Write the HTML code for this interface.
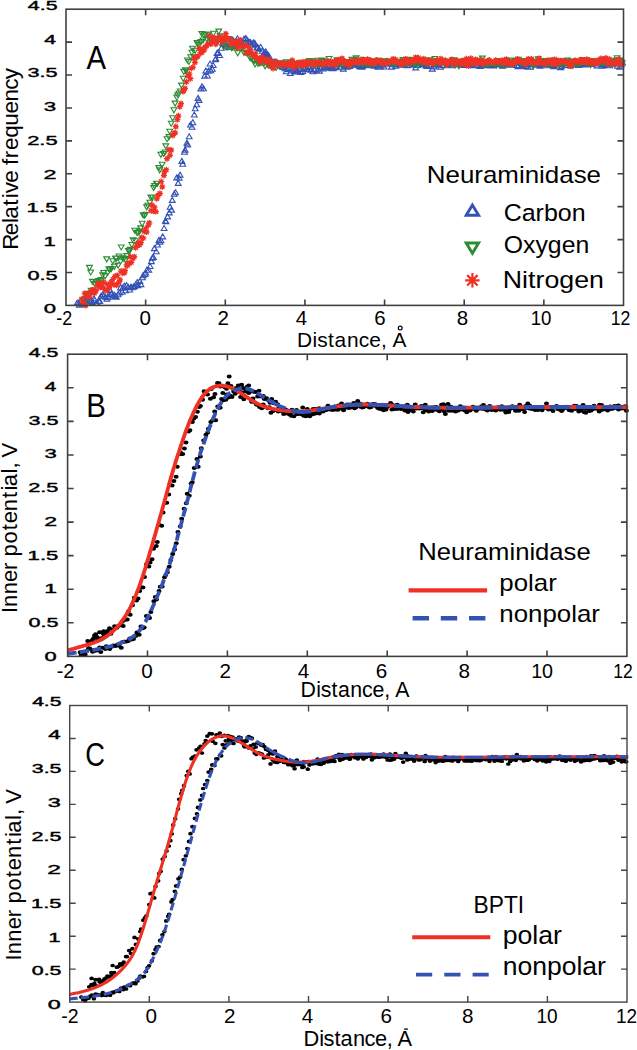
<!DOCTYPE html><html><head><meta charset="utf-8"><title>Figure</title><style>html,body{margin:0;padding:0;background:#fff;width:637px;height:1050px;overflow:hidden}svg{display:block}text{font-family:"Liberation Sans",sans-serif}</style></head><body>
<svg width="637" height="1050" viewBox="0 0 637 1050">
<rect width="637" height="1050" fill="#fff"/>
<path d="M74.3 305.1L77.2 300.1L80.1 305.1ZM75.9 305.4L78.8 300.4L81.7 305.4ZM76.5 307.1L79.4 302.1L82.3 307.1ZM78.5 302.4L81.4 297.4L84.3 302.4ZM79.2 306.9L82.1 301.9L85.0 306.9ZM80.6 303.9L83.5 298.9L86.4 303.9ZM82.2 303.0L85.1 298.0L88.0 303.0ZM83.1 299.7L86.0 294.7L88.9 299.7ZM84.5 305.3L87.4 300.3L90.3 305.3ZM85.3 298.4L88.2 293.4L91.1 298.4ZM87.2 302.7L90.1 297.7L93.0 302.7ZM88.3 303.6L91.2 298.6L94.1 303.6ZM89.4 304.8L92.3 299.8L95.2 304.8ZM91.1 300.8L94.0 295.8L96.9 300.8ZM91.9 302.2L94.8 297.2L97.7 302.2ZM93.3 305.4L96.2 300.4L99.1 305.4ZM94.3 305.3L97.2 300.3L100.1 305.3ZM95.8 303.3L98.7 298.3L101.6 303.3ZM96.9 303.5L99.8 298.5L102.7 303.5ZM98.2 298.0L101.1 293.0L104.0 298.0ZM100.0 296.8L102.9 291.8L105.8 296.8ZM100.8 298.1L103.7 293.1L106.6 298.1ZM102.3 299.2L105.2 294.2L108.1 299.2ZM104.0 301.1L106.9 296.1L109.8 301.1ZM105.2 299.4L108.1 294.4L111.0 299.4ZM106.3 296.6L109.2 291.6L112.1 296.6ZM107.4 292.6L110.3 287.6L113.2 292.6ZM108.5 295.9L111.4 290.9L114.3 295.9ZM109.6 299.0L112.5 294.0L115.4 299.0ZM111.6 297.4L114.5 292.4L117.4 297.4ZM112.5 298.6L115.4 293.6L118.3 298.6ZM113.4 299.2L116.3 294.2L119.2 299.2ZM115.1 296.7L118.0 291.7L120.9 296.7ZM116.5 295.0L119.4 290.0L122.3 295.0ZM117.7 289.7L120.6 284.7L123.5 289.7ZM119.2 294.3L122.1 289.3L125.0 294.3ZM119.7 290.2L122.6 285.2L125.5 290.2ZM121.4 288.2L124.3 283.2L127.2 288.2ZM122.6 292.7L125.5 287.7L128.4 292.7ZM123.6 287.7L126.5 282.7L129.4 287.7ZM125.3 289.4L128.2 284.4L131.1 289.4ZM126.8 292.0L129.7 287.0L132.6 292.0ZM127.9 289.4L130.8 284.4L133.7 289.4ZM128.8 289.6L131.7 284.6L134.6 289.6ZM130.6 289.2L133.5 284.2L136.4 289.2ZM131.6 288.5L134.5 283.5L137.4 288.5ZM132.9 286.6L135.8 281.6L138.7 286.6ZM134.4 284.5L137.3 279.5L140.2 284.5ZM135.1 287.8L138.0 282.8L140.9 287.8ZM137.0 283.4L139.9 278.4L142.8 283.4ZM138.1 286.6L141.0 281.6L143.9 286.6ZM139.5 279.7L142.4 274.7L145.3 279.7ZM140.2 277.7L143.1 272.7L146.0 277.7ZM142.1 276.5L145.0 271.5L147.9 276.5ZM142.8 275.0L145.7 270.0L148.6 275.0ZM144.0 272.2L146.9 267.2L149.8 272.2ZM145.9 272.3L148.8 267.3L151.7 272.3ZM147.2 268.5L150.1 263.5L153.0 268.5ZM148.5 263.6L151.4 258.6L154.3 263.6ZM149.4 260.2L152.3 255.2L155.2 260.2ZM150.5 259.4L153.4 254.4L156.3 259.4ZM151.5 250.6L154.4 245.6L157.3 250.6ZM153.4 253.8L156.3 248.8L159.2 253.8ZM154.7 247.0L157.6 242.0L160.5 247.0ZM156.1 242.4L159.0 237.4L161.9 242.4ZM156.9 244.3L159.8 239.3L162.7 244.3ZM158.1 242.8L161.0 237.8L163.9 242.8ZM159.8 238.9L162.7 233.9L165.6 238.9ZM161.2 230.5L164.1 225.5L167.0 230.5ZM162.6 223.1L165.5 218.1L168.4 223.1ZM163.1 223.8L166.0 218.8L168.9 223.8ZM164.7 218.9L167.6 213.9L170.5 218.9ZM166.4 214.9L169.3 209.9L172.2 214.9ZM167.2 209.2L170.1 204.2L173.0 209.2ZM168.6 212.1L171.5 207.1L174.4 212.1ZM169.4 202.4L172.3 197.4L175.2 202.4ZM171.3 196.2L174.2 191.2L177.1 196.2ZM172.7 194.8L175.6 189.8L178.5 194.8ZM173.9 179.9L176.8 174.9L179.7 179.9ZM175.3 185.4L178.2 180.4L181.1 185.4ZM176.3 180.3L179.2 175.3L182.1 180.3ZM177.2 177.1L180.1 172.1L183.0 177.1ZM179.0 163.4L181.9 158.4L184.8 163.4ZM179.8 166.2L182.7 161.2L185.6 166.2ZM181.6 154.2L184.5 149.2L187.4 154.2ZM182.2 152.1L185.1 147.1L188.0 152.1ZM184.1 145.1L187.0 140.1L189.9 145.1ZM184.8 146.9L187.7 141.9L190.6 146.9ZM186.3 138.8L189.2 133.8L192.1 138.8ZM187.5 127.0L190.4 122.0L193.3 127.0ZM189.1 129.3L192.0 124.3L194.9 129.3ZM189.9 124.7L192.8 119.7L195.7 124.7ZM191.4 117.0L194.3 112.0L197.2 117.0ZM192.3 110.7L195.2 105.7L198.1 110.7ZM193.8 106.8L196.7 101.8L199.6 106.8ZM195.2 100.4L198.1 95.4L201.0 100.4ZM196.2 102.4L199.1 97.4L202.0 102.4ZM198.0 90.9L200.9 85.9L203.8 90.9ZM199.0 88.8L201.9 83.8L204.8 88.8ZM200.6 90.7L203.5 85.7L206.4 90.7ZM201.8 78.1L204.7 73.1L207.6 78.1ZM202.9 73.0L205.8 68.0L208.7 73.0ZM204.6 78.0L207.5 73.0L210.4 78.0ZM205.6 73.1L208.5 68.1L211.4 73.1ZM207.1 66.0L210.0 61.0L212.9 66.0ZM207.9 72.7L210.8 67.7L213.7 72.7ZM209.4 71.3L212.3 66.3L215.2 71.3ZM210.3 67.5L213.2 62.5L216.1 67.5ZM212.3 61.8L215.2 56.8L218.1 61.8ZM212.9 60.9L215.8 55.9L218.7 60.9ZM214.2 55.4L217.1 50.4L220.0 55.4ZM215.3 54.8L218.2 49.8L221.1 54.8ZM216.8 57.5L219.7 52.5L222.6 57.5ZM218.5 50.2L221.4 45.2L224.3 50.2ZM219.7 45.1L222.6 40.1L225.5 45.1ZM220.5 46.5L223.4 41.5L226.3 46.5ZM222.0 46.0L224.9 41.0L227.8 46.0ZM223.3 48.0L226.2 43.0L229.1 48.0ZM224.8 44.4L227.7 39.4L230.6 44.4ZM225.9 49.4L228.8 44.4L231.7 49.4ZM227.2 44.0L230.1 39.0L233.0 44.0ZM228.7 45.8L231.6 40.8L234.5 45.8ZM229.9 42.1L232.8 37.1L235.7 42.1ZM230.9 43.6L233.8 38.6L236.7 43.6ZM232.2 47.3L235.1 42.3L238.0 47.3ZM233.4 43.8L236.3 38.8L239.2 43.8ZM234.5 40.8L237.4 35.8L240.3 40.8ZM235.8 46.3L238.7 41.3L241.6 46.3ZM237.2 44.6L240.1 39.6L243.0 44.6ZM238.5 44.9L241.4 39.9L244.3 44.9ZM239.7 46.5L242.6 41.5L245.5 46.5ZM241.2 41.0L244.1 36.0L247.0 41.0ZM242.9 40.5L245.8 35.5L248.7 40.5ZM244.0 41.9L246.9 36.9L249.8 41.9ZM245.3 43.5L248.2 38.5L251.1 43.5ZM246.5 44.6L249.4 39.6L252.3 44.6ZM247.6 44.6L250.5 39.6L253.4 44.6ZM249.2 47.3L252.1 42.3L255.0 47.3ZM250.3 44.9L253.2 39.9L256.1 44.9ZM251.4 45.3L254.3 40.3L257.2 45.3ZM252.3 46.2L255.2 41.2L258.1 46.2ZM253.9 50.0L256.8 45.0L259.7 50.0ZM254.9 49.7L257.8 44.7L260.7 49.7ZM256.1 51.1L259.0 46.1L261.9 51.1ZM257.8 49.3L260.7 44.3L263.6 49.3ZM259.3 53.2L262.2 48.2L265.1 53.2ZM260.1 57.1L263.0 52.1L265.9 57.1ZM261.8 55.1L264.7 50.1L267.6 55.1ZM262.9 53.9L265.8 48.9L268.7 53.9ZM263.8 56.4L266.7 51.4L269.6 56.4ZM265.8 57.8L268.7 52.8L271.6 57.8ZM266.6 59.7L269.5 54.7L272.4 59.7ZM267.8 63.6L270.7 58.6L273.6 63.6ZM269.5 64.8L272.4 59.8L275.3 64.8ZM270.2 64.4L273.1 59.4L276.0 64.4ZM272.0 64.1L274.9 59.1L277.8 64.1ZM272.8 64.1L275.7 59.1L278.6 64.1ZM274.2 64.5L277.1 59.5L280.0 64.5ZM275.3 66.7L278.2 61.7L281.1 66.7ZM277.2 65.8L280.1 60.8L283.0 65.8ZM278.0 68.1L280.9 63.1L283.8 68.1ZM279.8 69.5L282.7 64.5L285.6 69.5ZM280.8 67.7L283.7 62.7L286.6 67.7ZM282.1 70.8L285.0 65.8L287.9 70.8ZM283.3 73.8L286.2 68.8L289.1 73.8ZM284.3 71.8L287.2 66.8L290.1 71.8ZM285.7 70.5L288.6 65.5L291.5 70.5ZM287.4 75.5L290.3 70.5L293.2 75.5ZM288.1 71.7L291.0 66.7L293.9 71.7ZM290.0 72.1L292.9 67.1L295.8 72.1ZM291.1 73.8L294.0 68.8L296.9 73.8ZM292.0 74.0L294.9 69.0L297.8 74.0ZM293.6 72.7L296.5 67.7L299.4 72.7ZM294.6 72.9L297.5 67.9L300.4 72.9ZM295.9 70.4L298.8 65.4L301.7 70.4ZM297.3 71.7L300.2 66.7L303.1 71.7ZM298.1 74.5L301.0 69.5L303.9 74.5ZM299.8 73.5L302.7 68.5L305.6 73.5ZM301.5 71.2L304.4 66.2L307.3 71.2ZM302.2 69.4L305.1 64.4L308.0 69.4ZM303.8 71.6L306.7 66.6L309.6 71.6ZM304.8 71.6L307.7 66.6L310.6 71.6ZM305.9 69.3L308.8 64.3L311.7 69.3ZM307.8 71.9L310.7 66.9L313.6 71.9ZM308.3 72.3L311.2 67.3L314.1 72.3ZM309.8 73.7L312.7 68.7L315.6 73.7ZM311.7 72.3L314.6 67.3L317.5 72.3ZM312.3 68.3L315.2 63.3L318.1 68.3ZM314.1 73.3L317.0 68.3L319.9 73.3ZM315.2 71.2L318.1 66.2L321.0 71.2ZM316.6 73.1L319.5 68.1L322.4 73.1ZM317.8 70.8L320.7 65.8L323.6 70.8ZM318.8 69.5L321.7 64.5L324.6 69.5ZM320.4 71.0L323.3 66.0L326.2 71.0ZM321.0 69.5L323.9 64.5L326.8 69.5ZM322.7 69.4L325.6 64.4L328.5 69.4ZM323.9 69.6L326.8 64.6L329.7 69.6ZM325.3 67.7L328.2 62.7L331.1 67.7ZM326.2 68.9L329.1 63.9L332.0 68.9ZM327.6 70.3L330.5 65.3L333.4 70.3ZM329.2 70.7L332.1 65.7L335.0 70.7ZM330.3 70.8L333.2 65.8L336.1 70.8ZM331.9 68.7L334.8 63.7L337.7 68.7ZM333.0 69.7L335.9 64.7L338.8 69.7ZM334.5 65.1L337.4 60.1L340.3 65.1ZM335.7 66.3L338.6 61.3L341.5 66.3ZM336.8 69.1L339.7 64.1L342.6 69.1ZM337.8 69.1L340.7 64.1L343.6 69.1ZM339.6 66.0L342.5 61.0L345.4 66.0ZM340.4 71.1L343.3 66.1L346.2 71.1ZM341.5 68.9L344.4 63.9L347.3 68.9ZM343.5 66.6L346.4 61.6L349.3 66.6ZM344.4 69.2L347.3 64.2L350.2 69.2ZM345.9 68.4L348.8 63.4L351.7 68.4ZM347.0 68.1L349.9 63.1L352.8 68.1ZM348.3 66.5L351.2 61.5L354.1 66.5ZM349.1 67.2L352.0 62.2L354.9 67.2ZM350.5 66.7L353.4 61.7L356.3 66.7ZM352.2 66.2L355.1 61.2L358.0 66.2ZM353.4 66.9L356.3 61.9L359.2 66.9ZM354.3 65.3L357.2 60.3L360.1 65.3ZM356.3 67.8L359.2 62.8L362.1 67.8ZM356.8 68.8L359.7 63.8L362.6 68.8ZM358.4 69.1L361.3 64.1L364.2 69.1ZM359.4 68.9L362.3 63.9L365.2 68.9ZM361.2 67.2L364.1 62.2L367.0 67.2ZM362.0 64.9L364.9 59.9L367.8 64.9ZM363.2 66.0L366.1 61.0L369.0 66.0ZM364.4 67.1L367.3 62.1L370.2 67.1ZM365.8 67.7L368.7 62.7L371.6 67.7ZM367.1 66.9L370.0 61.9L372.9 66.9ZM368.6 66.7L371.5 61.7L374.4 66.7ZM369.8 66.9L372.7 61.9L375.6 66.9ZM371.6 68.1L374.5 63.1L377.4 68.1ZM372.8 66.7L375.7 61.7L378.6 66.7ZM374.0 64.5L376.9 59.5L379.8 64.5ZM375.1 69.2L378.0 64.2L380.9 69.2ZM376.6 66.3L379.5 61.3L382.4 66.3ZM377.9 69.1L380.8 64.1L383.7 69.1ZM378.4 65.7L381.3 60.7L384.2 65.7ZM379.7 67.1L382.6 62.1L385.5 67.1ZM381.2 69.0L384.1 64.0L387.0 69.0ZM382.3 65.8L385.2 60.8L388.1 65.8ZM384.0 63.4L386.9 58.4L389.8 63.4ZM385.0 65.8L387.9 60.8L390.8 65.8ZM386.2 64.3L389.1 59.3L392.0 64.3ZM387.5 66.1L390.4 61.1L393.3 66.1ZM388.6 69.1L391.5 64.1L394.4 69.1ZM390.5 65.3L393.4 60.3L396.3 65.3ZM391.7 66.6L394.6 61.6L397.5 66.6ZM392.9 68.1L395.8 63.1L398.7 68.1ZM393.7 64.8L396.6 59.8L399.5 64.8ZM395.3 65.6L398.2 60.6L401.1 65.6ZM396.8 66.7L399.7 61.7L402.6 66.7ZM397.6 64.7L400.5 59.7L403.4 64.7ZM399.1 67.2L402.0 62.2L404.9 67.2ZM400.0 65.0L402.9 60.0L405.8 65.0ZM401.4 67.3L404.3 62.3L407.2 67.3ZM402.8 65.2L405.7 60.2L408.6 65.2ZM404.2 67.6L407.1 62.6L410.0 67.6ZM405.5 63.8L408.4 58.8L411.3 63.8ZM407.2 65.6L410.1 60.6L413.0 65.6ZM407.9 63.9L410.8 58.9L413.7 63.9ZM409.0 67.2L411.9 62.2L414.8 67.2ZM411.0 66.7L413.9 61.7L416.8 66.7ZM411.5 64.8L414.4 59.8L417.3 64.8ZM412.8 69.9L415.7 64.9L418.6 69.9ZM414.9 67.5L417.8 62.5L420.7 67.5ZM416.0 64.5L418.9 59.5L421.8 64.5ZM416.9 65.3L419.8 60.3L422.7 65.3ZM418.0 64.6L420.9 59.6L423.8 64.6ZM419.5 66.4L422.4 61.4L425.3 66.4ZM420.7 65.2L423.6 60.2L426.5 65.2ZM422.5 67.0L425.4 62.0L428.3 67.0ZM423.3 68.0L426.2 63.0L429.1 68.0ZM424.3 68.4L427.2 63.4L430.1 68.4ZM426.3 66.8L429.2 61.8L432.1 66.8ZM427.3 66.8L430.2 61.8L433.1 66.8ZM428.2 66.9L431.1 61.9L434.0 66.9ZM429.4 71.1L432.3 66.1L435.2 71.1ZM431.0 68.9L433.9 63.9L436.8 68.9ZM432.0 66.8L434.9 61.8L437.8 66.8ZM433.7 65.6L436.6 60.6L439.5 65.6ZM435.0 66.8L437.9 61.8L440.8 66.8ZM435.7 67.3L438.6 62.3L441.5 67.3ZM437.7 69.3L440.6 64.3L443.5 69.3ZM439.0 63.1L441.9 58.1L444.8 63.1ZM440.3 67.6L443.2 62.6L446.1 67.6ZM441.4 63.6L444.3 58.6L447.2 63.6ZM442.7 63.7L445.6 58.7L448.5 63.7ZM443.5 65.6L446.4 60.6L449.3 65.6ZM444.6 66.8L447.5 61.8L450.4 66.8ZM446.0 65.8L448.9 60.8L451.8 65.8ZM448.0 67.7L450.9 62.7L453.8 67.7ZM449.0 65.6L451.9 60.6L454.8 65.6ZM450.6 66.0L453.5 61.0L456.4 66.0ZM451.3 65.2L454.2 60.2L457.1 65.2ZM452.9 64.6L455.8 59.6L458.7 64.6ZM453.6 63.5L456.5 58.5L459.4 63.5ZM455.0 66.6L457.9 61.6L460.8 66.6ZM456.3 64.5L459.2 59.5L462.1 64.5ZM457.9 67.1L460.8 62.1L463.7 67.1ZM459.1 67.3L462.0 62.3L464.9 67.3ZM460.4 66.9L463.3 61.9L466.2 66.9ZM461.6 67.4L464.5 62.4L467.4 67.4ZM463.0 64.6L465.9 59.6L468.8 64.6ZM464.6 64.7L467.5 59.7L470.4 64.7ZM465.4 64.2L468.3 59.2L471.2 64.2ZM467.0 66.0L469.9 61.0L472.8 66.0ZM467.6 65.6L470.5 60.6L473.4 65.6ZM469.2 66.8L472.1 61.8L475.0 66.8ZM470.6 67.7L473.5 62.7L476.4 67.7ZM471.9 65.4L474.8 60.4L477.7 65.4ZM472.9 65.6L475.8 60.6L478.7 65.6ZM474.3 67.6L477.2 62.6L480.1 67.6ZM476.0 65.2L478.9 60.2L481.8 65.2ZM477.1 68.5L480.0 63.5L482.9 68.5ZM478.3 66.3L481.2 61.3L484.1 66.3ZM479.1 66.9L482.0 61.9L484.9 66.9ZM480.3 66.8L483.2 61.8L486.1 66.8ZM481.8 67.6L484.7 62.6L487.6 67.6ZM483.0 64.6L485.9 59.6L488.8 64.6ZM485.0 65.2L487.9 60.2L490.8 65.2ZM485.4 64.3L488.3 59.3L491.2 64.3ZM487.0 65.8L489.9 60.8L492.8 65.8ZM488.0 67.9L490.9 62.9L493.8 67.9ZM489.8 66.6L492.7 61.6L495.6 66.6ZM490.5 67.7L493.4 62.7L496.3 67.7ZM491.8 65.4L494.7 60.4L497.6 65.4ZM493.1 64.3L496.0 59.3L498.9 64.3ZM494.6 65.6L497.5 60.6L500.4 65.6ZM496.1 66.9L499.0 61.9L501.9 66.9ZM497.6 66.6L500.5 61.6L503.4 66.6ZM498.4 65.7L501.3 60.7L504.2 65.7ZM499.7 68.1L502.6 63.1L505.5 68.1ZM501.4 65.8L504.3 60.8L507.2 65.8ZM502.6 65.7L505.5 60.7L508.4 65.7ZM503.4 66.8L506.3 61.8L509.2 66.8ZM505.2 66.6L508.1 61.6L511.0 66.6ZM506.5 65.8L509.4 60.8L512.3 65.8ZM507.2 67.2L510.1 62.2L513.0 67.2ZM508.9 67.2L511.8 62.2L514.7 67.2ZM509.8 64.9L512.7 59.9L515.6 64.9ZM511.1 65.7L514.0 60.7L516.9 65.7ZM512.6 63.6L515.5 58.6L518.4 63.6ZM513.9 67.5L516.8 62.5L519.7 67.5ZM515.1 68.6L518.0 63.6L520.9 68.6ZM516.5 64.7L519.4 59.7L522.3 64.7ZM517.4 64.7L520.3 59.7L523.2 64.7ZM519.2 67.1L522.1 62.1L525.0 67.1ZM520.1 68.2L523.0 63.2L525.9 68.2ZM521.9 66.1L524.8 61.1L527.7 66.1ZM522.8 68.6L525.7 63.6L528.6 68.6ZM523.9 66.5L526.8 61.5L529.7 66.5ZM525.1 69.2L528.0 64.2L530.9 69.2ZM526.6 66.4L529.5 61.4L532.4 66.4ZM527.8 69.1L530.7 64.1L533.6 69.1ZM529.3 66.4L532.2 61.4L535.1 66.4ZM530.4 63.9L533.3 58.9L536.2 63.9ZM531.3 66.4L534.2 61.4L537.1 66.4ZM533.3 64.9L536.2 59.9L539.1 64.9ZM533.9 67.0L536.8 62.0L539.7 67.0ZM535.8 67.3L538.7 62.3L541.6 67.3ZM537.1 68.2L540.0 63.2L542.9 68.2ZM538.5 64.6L541.4 59.6L544.3 64.6ZM539.5 66.1L542.4 61.1L545.3 66.1ZM540.3 63.7L543.2 58.7L546.1 63.7ZM541.9 67.8L544.8 62.8L547.7 67.8ZM543.1 66.4L546.0 61.4L548.9 66.4ZM544.6 66.0L547.5 61.0L550.4 66.0ZM545.6 64.0L548.5 59.0L551.4 64.0ZM547.2 63.4L550.1 58.4L553.0 63.4ZM548.0 67.0L550.9 62.0L553.8 67.0ZM549.4 67.7L552.3 62.7L555.2 67.7ZM550.9 68.6L553.8 63.6L556.7 68.6ZM552.0 64.1L554.9 59.1L557.8 64.1ZM553.0 66.2L555.9 61.2L558.8 66.2ZM555.1 67.0L558.0 62.0L560.9 67.0ZM556.1 66.1L559.0 61.1L561.9 66.1ZM557.5 69.8L560.4 64.8L563.3 69.8ZM558.4 68.6L561.3 63.6L564.2 68.6ZM560.1 64.7L563.0 59.7L565.9 64.7ZM561.3 65.5L564.2 60.5L567.1 65.5ZM562.7 65.9L565.6 60.9L568.5 65.9ZM563.3 67.5L566.2 62.5L569.1 67.5ZM564.8 65.2L567.7 60.2L570.6 65.2ZM566.0 63.5L568.9 58.5L571.8 63.5ZM567.5 67.9L570.4 62.9L573.3 67.9ZM568.5 66.1L571.4 61.1L574.3 66.1ZM569.6 66.7L572.5 61.7L575.4 66.7ZM571.2 65.6L574.1 60.6L577.0 65.6ZM572.6 66.1L575.5 61.1L578.4 66.1ZM573.7 66.3L576.6 61.3L579.5 66.3ZM575.5 67.4L578.4 62.4L581.3 67.4ZM576.2 66.1L579.1 61.1L582.0 66.1ZM577.4 67.0L580.3 62.0L583.2 67.0ZM579.1 66.3L582.0 61.3L584.9 66.3ZM580.1 66.2L583.0 61.2L585.9 66.2ZM581.2 65.1L584.1 60.1L587.0 65.1ZM582.5 66.9L585.4 61.9L588.3 66.9ZM584.4 66.5L587.3 61.5L590.2 66.5ZM585.7 64.5L588.6 59.5L591.5 64.5ZM586.6 66.4L589.5 61.4L592.4 66.4ZM587.6 66.5L590.5 61.5L593.4 66.5ZM589.2 64.8L592.1 59.8L595.0 64.8ZM590.1 65.7L593.0 60.7L595.9 65.7ZM591.5 65.9L594.4 60.9L597.3 65.9ZM592.9 65.8L595.8 60.8L598.7 65.8ZM594.1 67.9L597.0 62.9L599.9 67.9ZM595.3 65.4L598.2 60.4L601.1 65.4ZM597.1 64.2L600.0 59.2L602.9 64.2ZM597.7 65.2L600.6 60.2L603.5 65.2ZM599.4 68.3L602.3 63.3L605.2 68.3ZM600.1 65.7L603.0 60.7L605.9 65.7ZM601.4 67.4L604.3 62.4L607.2 67.4ZM602.8 66.4L605.7 61.4L608.6 66.4ZM604.8 65.9L607.7 60.9L610.6 65.9ZM605.8 67.8L608.7 62.8L611.6 67.8ZM607.2 64.1L610.1 59.1L613.0 64.1ZM607.8 66.2L610.7 61.2L613.6 66.2ZM609.6 64.9L612.5 59.9L615.4 64.9ZM610.7 65.1L613.6 60.1L616.5 65.1ZM611.9 64.1L614.8 59.1L617.7 64.1ZM613.5 64.3L616.4 59.3L619.3 64.3ZM614.4 68.2L617.3 63.2L620.2 68.2ZM615.8 66.0L618.7 61.0L621.6 66.0ZM616.9 69.1L619.8 64.1L622.7 69.1ZM618.3 66.7L621.2 61.7L624.1 66.7ZM619.7 65.0L622.6 60.0L625.5 65.0Z" fill="none" stroke="#3452b4" stroke-width="1.1"/>
<path d="M82.8 296.6L85.7 301.6L88.6 296.6ZM84.1 292.3L87.0 297.3L89.9 292.3ZM85.8 291.3L88.7 296.3L91.6 291.3ZM86.5 292.5L89.4 297.5L92.3 292.5ZM88.2 288.2L91.1 293.2L94.0 288.2ZM89.6 279.4L92.5 284.4L95.4 279.4ZM90.4 289.4L93.3 294.4L96.2 289.4ZM91.5 281.2L94.4 286.2L97.3 281.2ZM93.0 279.5L95.9 284.5L98.8 279.5ZM94.6 281.1L97.5 286.1L100.4 281.1ZM95.8 278.6L98.7 283.6L101.6 278.6ZM96.7 281.4L99.6 286.4L102.5 281.4ZM98.2 277.6L101.1 282.6L104.0 277.6ZM99.7 272.7L102.6 277.7L105.5 272.7ZM100.8 270.5L103.7 275.5L106.6 270.5ZM102.2 273.9L105.1 278.9L108.0 273.9ZM103.8 256.9L106.7 261.9L109.6 256.9ZM104.8 270.3L107.7 275.3L110.6 270.3ZM105.9 266.7L108.8 271.7L111.7 266.7ZM106.9 267.2L109.8 272.2L112.7 267.2ZM108.4 266.6L111.3 271.6L114.2 266.6ZM109.8 258.7L112.7 263.7L115.6 258.7ZM111.4 264.3L114.3 269.3L117.2 264.3ZM112.6 256.2L115.5 261.2L118.4 256.2ZM113.4 256.1L116.3 261.1L119.2 256.1ZM115.2 263.1L118.1 268.1L121.0 263.1ZM116.1 254.0L119.0 259.0L121.9 254.0ZM117.6 259.2L120.5 264.2L123.4 259.2ZM118.3 245.0L121.2 250.0L124.1 245.0ZM119.6 255.8L122.5 260.8L125.4 255.8ZM121.0 256.4L123.9 261.4L126.8 256.4ZM122.9 257.6L125.8 262.6L128.7 257.6ZM123.9 253.6L126.8 258.6L129.7 253.6ZM125.4 248.5L128.3 253.5L131.2 248.5ZM126.5 248.3L129.4 253.3L132.3 248.3ZM127.5 247.3L130.4 252.3L133.3 247.3ZM128.9 242.5L131.8 247.5L134.7 242.5ZM130.2 237.9L133.1 242.9L136.0 237.9ZM131.8 228.2L134.7 233.2L137.6 228.2ZM132.7 238.7L135.6 243.7L138.5 238.7ZM134.3 230.6L137.2 235.6L140.1 230.6ZM135.4 230.0L138.3 235.0L141.2 230.0ZM136.8 229.0L139.7 234.0L142.6 229.0ZM137.8 225.9L140.7 230.9L143.6 225.9ZM139.3 221.3L142.2 226.3L145.1 221.3ZM140.2 212.8L143.1 217.8L146.0 212.8ZM141.6 213.2L144.5 218.2L147.4 213.2ZM142.6 212.2L145.5 217.2L148.4 212.2ZM143.8 204.9L146.7 209.9L149.6 204.9ZM145.0 203.2L147.9 208.2L150.8 203.2ZM146.9 200.3L149.8 205.3L152.7 200.3ZM148.0 195.1L150.9 200.1L153.8 195.1ZM149.6 195.1L152.5 200.1L155.4 195.1ZM150.8 185.6L153.7 190.6L156.6 185.6ZM151.7 183.6L154.6 188.6L157.5 183.6ZM153.5 181.2L156.4 186.2L159.3 181.2ZM154.5 181.3L157.4 186.3L160.3 181.3ZM155.9 165.6L158.8 170.6L161.7 165.6ZM156.8 167.9L159.7 172.9L162.6 167.9ZM157.9 152.3L160.8 157.3L163.7 152.3ZM159.2 162.3L162.1 167.3L165.0 162.3ZM160.5 151.5L163.4 156.5L166.3 151.5ZM162.1 150.0L165.0 155.0L167.9 150.0ZM162.9 143.9L165.8 148.9L168.7 143.9ZM164.1 136.7L167.0 141.7L169.9 136.7ZM166.1 134.6L169.0 139.6L171.9 134.6ZM166.8 129.2L169.7 134.2L172.6 129.2ZM168.3 121.2L171.2 126.2L174.1 121.2ZM169.7 115.7L172.6 120.7L175.5 115.7ZM171.0 107.8L173.9 112.8L176.8 107.8ZM172.2 101.1L175.1 106.1L178.0 101.1ZM173.9 95.1L176.8 100.1L179.7 95.1ZM175.0 92.9L177.9 97.9L180.8 92.9ZM176.1 91.0L179.0 96.0L181.9 91.0ZM177.4 89.0L180.3 94.0L183.2 89.0ZM178.6 83.1L181.5 88.1L184.4 83.1ZM180.3 76.3L183.2 81.3L186.1 76.3ZM180.9 69.4L183.8 74.4L186.7 69.4ZM182.6 67.9L185.5 72.9L188.4 67.9ZM183.7 67.8L186.6 72.8L189.5 67.8ZM184.5 58.0L187.4 63.0L190.3 58.0ZM186.0 59.5L188.9 64.5L191.8 59.5ZM187.9 54.8L190.8 59.8L193.7 54.8ZM189.0 50.2L191.9 55.2L194.8 50.2ZM189.6 46.3L192.5 51.3L195.4 46.3ZM191.1 55.0L194.0 60.0L196.9 55.0ZM192.2 48.3L195.1 53.3L198.0 48.3ZM194.2 40.6L197.1 45.6L200.0 40.6ZM194.8 42.0L197.7 47.0L200.6 42.0ZM196.0 42.7L198.9 47.7L201.8 42.7ZM198.1 39.6L201.0 44.6L203.9 39.6ZM198.9 31.5L201.8 36.5L204.7 31.5ZM200.1 38.0L203.0 43.0L205.9 38.0ZM201.1 32.9L204.0 37.9L206.9 32.9ZM202.7 32.0L205.6 37.0L208.5 32.0ZM203.9 36.5L206.8 41.5L209.7 36.5ZM205.4 32.7L208.3 37.7L211.2 32.7ZM206.2 36.2L209.1 41.2L212.0 36.2ZM207.6 36.8L210.5 41.8L213.4 36.8ZM208.9 38.9L211.8 43.9L214.7 38.9ZM210.4 31.2L213.3 36.2L216.2 31.2ZM211.5 36.4L214.4 41.4L217.3 36.4ZM213.1 37.5L216.0 42.5L218.9 37.5ZM214.1 40.1L217.0 45.1L219.9 40.1ZM215.9 29.1L218.8 34.1L221.7 29.1ZM217.2 33.9L220.1 38.9L223.0 33.9ZM217.7 37.6L220.6 42.6L223.5 37.6ZM219.1 40.4L222.0 45.4L224.9 40.4ZM220.7 44.5L223.6 49.5L226.5 44.5ZM222.1 38.0L225.0 43.0L227.9 38.0ZM222.8 38.3L225.7 43.3L228.6 38.3ZM224.2 45.5L227.1 50.5L230.0 45.5ZM225.7 36.5L228.6 41.5L231.5 36.5ZM227.2 38.7L230.1 43.7L233.0 38.7ZM228.6 45.7L231.5 50.7L234.4 45.7ZM229.9 44.9L232.8 49.9L235.7 44.9ZM231.1 45.0L234.0 50.0L236.9 45.0ZM231.7 43.4L234.6 48.4L237.5 43.4ZM233.8 45.5L236.7 50.5L239.6 45.5ZM234.8 50.8L237.7 55.8L240.6 50.8ZM235.6 41.5L238.5 46.5L241.4 41.5ZM237.0 46.1L239.9 51.1L242.8 46.1ZM238.6 44.4L241.5 49.4L244.4 44.4ZM239.6 45.2L242.5 50.2L245.4 45.2ZM241.0 50.4L243.9 55.4L246.8 50.4ZM242.6 50.0L245.5 55.0L248.4 50.0ZM243.9 50.0L246.8 55.0L249.7 50.0ZM244.9 50.8L247.8 55.8L250.7 50.8ZM246.4 54.2L249.3 59.2L252.2 54.2ZM247.3 56.0L250.2 61.0L253.1 56.0ZM249.1 55.7L252.0 60.7L254.9 55.7ZM250.0 58.2L252.9 63.2L255.8 58.2ZM251.6 58.6L254.5 63.6L257.4 58.6ZM252.1 62.0L255.0 67.0L257.9 62.0ZM254.1 58.7L257.0 63.7L259.9 58.7ZM255.1 61.3L258.0 66.3L260.9 61.3ZM256.5 61.0L259.4 66.0L262.3 61.0ZM257.3 60.4L260.2 65.4L263.1 60.4ZM258.9 60.4L261.8 65.4L264.7 60.4ZM259.9 58.2L262.8 63.2L265.7 58.2ZM261.1 61.2L264.0 66.2L266.9 61.2ZM262.2 63.9L265.1 68.9L268.0 63.9ZM264.3 62.0L267.2 67.0L270.1 62.0ZM265.4 63.2L268.3 68.2L271.2 63.2ZM266.2 61.9L269.1 66.9L272.0 61.9ZM267.6 63.6L270.5 68.6L273.4 63.6ZM269.0 63.7L271.9 68.7L274.8 63.7ZM270.6 63.5L273.5 68.5L276.4 63.5ZM271.3 63.7L274.2 68.7L277.1 63.7ZM273.3 65.4L276.2 70.4L279.1 65.4ZM274.5 63.7L277.4 68.7L280.3 63.7ZM275.2 62.7L278.1 67.7L281.0 62.7ZM276.8 60.9L279.7 65.9L282.6 60.9ZM277.9 63.0L280.8 68.0L283.7 63.0ZM279.4 63.0L282.3 68.0L285.2 63.0ZM280.2 61.6L283.1 66.6L286.0 61.6ZM281.8 61.6L284.7 66.6L287.6 61.6ZM283.2 59.9L286.1 64.9L289.0 59.9ZM284.5 61.3L287.4 66.3L290.3 61.3ZM285.8 62.1L288.7 67.1L291.6 62.1ZM287.2 60.0L290.1 65.0L293.0 60.0ZM287.9 59.7L290.8 64.7L293.7 59.7ZM289.1 62.5L292.0 67.5L294.9 62.5ZM290.6 61.4L293.5 66.4L296.4 61.4ZM292.1 64.0L295.0 69.0L297.9 64.0ZM293.7 61.9L296.6 66.9L299.5 61.9ZM294.7 62.6L297.6 67.6L300.5 62.6ZM296.0 61.6L298.9 66.6L301.8 61.6ZM297.5 61.8L300.4 66.8L303.3 61.8ZM298.2 61.3L301.1 66.3L304.0 61.3ZM299.4 61.2L302.3 66.2L305.2 61.2ZM300.8 60.2L303.7 65.2L306.6 60.2ZM302.0 60.6L304.9 65.6L307.8 60.6ZM303.6 61.6L306.5 66.6L309.4 61.6ZM305.1 62.6L308.0 67.6L310.9 62.6ZM305.7 59.0L308.6 64.0L311.5 59.0ZM307.3 58.6L310.2 63.6L313.1 58.6ZM308.7 61.3L311.6 66.3L314.5 61.3ZM309.8 59.8L312.7 64.8L315.6 59.8ZM311.5 62.8L314.4 67.8L317.3 62.8ZM312.6 62.8L315.5 67.8L318.4 62.8ZM314.0 60.9L316.9 65.9L319.8 60.9ZM314.6 58.3L317.5 63.3L320.4 58.3ZM315.9 62.0L318.8 67.0L321.7 62.0ZM317.1 61.6L320.0 66.6L322.9 61.6ZM319.0 58.1L321.9 63.1L324.8 58.1ZM320.4 63.1L323.3 68.1L326.2 63.1ZM320.9 59.4L323.8 64.4L326.7 59.4ZM322.8 59.6L325.7 64.6L328.6 59.6ZM324.1 60.6L327.0 65.6L329.9 60.6ZM325.5 60.0L328.4 65.0L331.3 60.0ZM326.2 56.5L329.1 61.5L332.0 56.5ZM327.9 61.9L330.8 66.9L333.7 61.9ZM328.7 60.7L331.6 65.7L334.5 60.7ZM329.8 60.6L332.7 65.6L335.6 60.6ZM331.7 61.2L334.6 66.2L337.5 61.2ZM332.4 62.1L335.3 67.1L338.2 62.1ZM334.2 57.9L337.1 62.9L340.0 57.9ZM335.1 59.9L338.0 64.9L340.9 59.9ZM336.6 62.7L339.5 67.7L342.4 62.7ZM338.2 61.2L341.1 66.2L344.0 61.2ZM338.9 59.6L341.8 64.6L344.7 59.6ZM340.4 59.5L343.3 64.5L346.2 59.5ZM341.6 62.2L344.5 67.2L347.4 62.2ZM342.7 60.2L345.6 65.2L348.5 60.2ZM344.2 59.7L347.1 64.7L350.0 59.7ZM345.2 59.5L348.1 64.5L351.0 59.5ZM347.1 59.5L350.0 64.5L352.9 59.5ZM348.2 62.7L351.1 67.7L354.0 62.7ZM349.1 57.4L352.0 62.4L354.9 57.4ZM351.0 59.8L353.9 64.8L356.8 59.8ZM351.7 57.4L354.6 62.4L357.5 57.4ZM353.3 55.9L356.2 60.9L359.1 55.9ZM354.6 60.3L357.5 65.3L360.4 60.3ZM355.5 61.8L358.4 66.8L361.3 61.8ZM356.5 58.8L359.4 63.8L362.3 58.8ZM358.6 60.3L361.5 65.3L364.4 60.3ZM359.9 60.7L362.8 65.7L365.7 60.7ZM360.5 61.5L363.4 66.5L366.3 61.5ZM361.8 57.6L364.7 62.6L367.6 57.6ZM363.3 60.7L366.2 65.7L369.1 60.7ZM364.7 62.1L367.6 67.1L370.5 62.1ZM366.3 60.7L369.2 65.7L372.1 60.7ZM367.6 61.7L370.5 66.7L373.4 61.7ZM368.9 59.8L371.8 64.8L374.7 59.8ZM369.5 60.6L372.4 65.6L375.3 60.6ZM371.1 61.6L374.0 66.6L376.9 61.6ZM372.2 59.1L375.1 64.1L378.0 59.1ZM373.3 60.9L376.2 65.9L379.1 60.9ZM374.4 59.0L377.3 64.0L380.2 59.0ZM375.8 58.2L378.7 63.2L381.6 58.2ZM377.2 60.5L380.1 65.5L383.0 60.5ZM378.3 61.0L381.2 66.0L384.1 61.0ZM379.6 59.7L382.5 64.7L385.4 59.7ZM380.8 58.7L383.7 63.7L386.6 58.7ZM382.6 60.0L385.5 65.0L388.4 60.0ZM383.7 59.8L386.6 64.8L389.5 59.8ZM384.8 60.1L387.7 65.1L390.6 60.1ZM386.3 59.6L389.2 64.6L392.1 59.6ZM387.5 59.1L390.4 64.1L393.3 59.1ZM389.0 61.0L391.9 66.0L394.8 61.0ZM390.5 60.7L393.4 65.7L396.3 60.7ZM391.3 60.0L394.2 65.0L397.1 60.0ZM392.8 61.0L395.7 66.0L398.6 61.0ZM393.7 59.8L396.6 64.8L399.5 59.8ZM395.6 59.2L398.5 64.2L401.4 59.2ZM396.6 60.0L399.5 65.0L402.4 60.0ZM397.5 60.9L400.4 65.9L403.3 60.9ZM398.8 61.1L401.7 66.1L404.6 61.1ZM400.0 57.5L402.9 62.5L405.8 57.5ZM401.3 58.7L404.2 63.7L407.1 58.7ZM402.7 61.6L405.6 66.6L408.5 61.6ZM404.4 61.2L407.3 66.2L410.2 61.2ZM405.4 57.3L408.3 62.3L411.2 57.3ZM406.5 57.8L409.4 62.8L412.3 57.8ZM407.9 59.8L410.8 64.8L413.7 59.8ZM409.0 58.3L411.9 63.3L414.8 58.3ZM410.7 62.2L413.6 67.2L416.5 62.2ZM411.4 60.0L414.3 65.0L417.2 60.0ZM412.9 58.9L415.8 63.9L418.7 58.9ZM414.2 62.7L417.1 67.7L420.0 62.7ZM415.3 61.1L418.2 66.1L421.1 61.1ZM417.1 58.9L420.0 63.9L422.9 58.9ZM417.9 58.4L420.8 63.4L423.7 58.4ZM419.2 60.9L422.1 65.9L425.0 60.9ZM420.3 59.6L423.2 64.6L426.1 59.6ZM422.2 57.7L425.1 62.7L428.0 57.7ZM423.1 60.6L426.0 65.6L428.9 60.6ZM424.7 61.9L427.6 66.9L430.5 61.9ZM425.5 60.1L428.4 65.1L431.3 60.1ZM426.6 60.6L429.5 65.6L432.4 60.6ZM428.2 58.1L431.1 63.1L434.0 58.1ZM429.9 59.8L432.8 64.8L435.7 59.8ZM431.2 61.2L434.1 66.2L437.0 61.2ZM432.0 56.5L434.9 61.5L437.8 56.5ZM433.7 60.7L436.6 65.7L439.5 60.7ZM434.3 59.3L437.2 64.3L440.1 59.3ZM436.0 59.0L438.9 64.0L441.8 59.0ZM437.0 58.9L439.9 63.9L442.8 58.9ZM438.5 59.8L441.4 64.8L444.3 59.8ZM439.6 59.2L442.5 64.2L445.4 59.2ZM441.4 60.1L444.3 65.1L447.2 60.1ZM442.2 62.1L445.1 67.1L448.0 62.1ZM444.0 60.3L446.9 65.3L449.8 60.3ZM444.6 60.3L447.5 65.3L450.4 60.3ZM446.1 60.3L449.0 65.3L451.9 60.3ZM447.4 59.8L450.3 64.8L453.2 59.8ZM448.9 60.9L451.8 65.9L454.7 60.9ZM449.9 58.1L452.8 63.1L455.7 58.1ZM451.3 57.7L454.2 62.7L457.1 57.7ZM452.2 63.2L455.1 68.2L458.0 63.2ZM453.7 60.0L456.6 65.0L459.5 60.0ZM455.3 61.0L458.2 66.0L461.1 61.0ZM456.0 63.8L458.9 68.8L461.8 63.8ZM457.6 59.4L460.5 64.4L463.4 59.4ZM458.7 60.9L461.6 65.9L464.5 60.9ZM459.9 60.6L462.8 65.6L465.7 60.6ZM461.1 61.0L464.0 66.0L466.9 61.0ZM463.0 58.4L465.9 63.4L468.8 58.4ZM464.2 58.2L467.1 63.2L470.0 58.2ZM465.2 59.6L468.1 64.6L471.0 59.6ZM466.5 59.0L469.4 64.0L472.3 59.0ZM468.0 60.2L470.9 65.2L473.8 60.2ZM469.2 59.8L472.1 64.8L475.0 59.8ZM470.8 61.1L473.7 66.1L476.6 61.1ZM472.0 60.0L474.9 65.0L477.8 60.0ZM472.9 61.0L475.8 66.0L478.7 61.0ZM474.4 59.5L477.3 64.5L480.2 59.5ZM475.5 58.8L478.4 63.8L481.3 58.8ZM476.6 59.6L479.5 64.6L482.4 59.6ZM478.0 58.3L480.9 63.3L483.8 58.3ZM479.5 56.1L482.4 61.1L485.3 56.1ZM480.6 63.1L483.5 68.1L486.4 63.1ZM482.0 60.0L484.9 65.0L487.8 60.0ZM483.1 60.8L486.0 65.8L488.9 60.8ZM484.8 60.7L487.7 65.7L490.6 60.7ZM485.9 62.0L488.8 67.0L491.7 62.0ZM486.6 59.9L489.5 64.9L492.4 59.9ZM488.5 60.4L491.4 65.4L494.3 60.4ZM489.9 60.9L492.8 65.9L495.7 60.9ZM491.1 60.4L494.0 65.4L496.9 60.4ZM491.9 60.9L494.8 65.9L497.7 60.9ZM493.2 63.4L496.1 68.4L499.0 63.4ZM494.4 58.5L497.3 63.5L500.2 58.5ZM495.5 60.5L498.4 65.5L501.3 60.5ZM497.1 61.4L500.0 66.4L502.9 61.4ZM498.7 59.6L501.6 64.6L504.5 59.6ZM499.9 61.0L502.8 66.0L505.7 61.0ZM501.1 63.2L504.0 68.2L506.9 63.2ZM502.6 58.7L505.5 63.7L508.4 58.7ZM503.7 62.4L506.6 67.4L509.5 62.4ZM504.6 60.3L507.5 65.3L510.4 60.3ZM506.3 59.8L509.2 64.8L512.1 59.8ZM507.2 58.1L510.1 63.1L513.0 58.1ZM509.0 58.3L511.9 63.3L514.8 58.3ZM509.7 59.8L512.6 64.8L515.5 59.8ZM510.8 61.1L513.7 66.1L516.6 61.1ZM512.7 60.6L515.6 65.6L518.5 60.6ZM513.4 58.4L516.3 63.4L519.2 58.4ZM515.3 57.4L518.2 62.4L521.1 57.4ZM516.2 59.2L519.1 64.2L522.0 59.2ZM517.8 61.0L520.7 66.0L523.6 61.0ZM518.4 58.5L521.3 63.5L524.2 58.5ZM520.1 60.6L523.0 65.6L525.9 60.6ZM521.5 60.6L524.4 65.6L527.3 60.6ZM522.3 60.4L525.2 65.4L528.1 60.4ZM524.0 59.2L526.9 64.2L529.8 59.2ZM524.9 59.6L527.8 64.6L530.7 59.6ZM526.3 58.6L529.2 63.6L532.1 58.6ZM527.6 58.1L530.5 63.1L533.4 58.1ZM529.1 59.3L532.0 64.3L534.9 59.3ZM530.0 63.4L532.9 68.4L535.8 63.4ZM531.3 62.5L534.2 67.5L537.1 62.5ZM533.1 59.8L536.0 64.8L538.9 59.8ZM534.3 60.1L537.2 65.1L540.1 60.1ZM535.3 56.9L538.2 61.9L541.1 56.9ZM536.5 60.1L539.4 65.1L542.3 60.1ZM538.1 60.2L541.0 65.2L543.9 60.2ZM539.2 58.6L542.1 63.6L545.0 58.6ZM540.3 58.5L543.2 63.5L546.1 58.5ZM542.1 60.4L545.0 65.4L547.9 60.4ZM542.8 59.3L545.7 64.3L548.6 59.3ZM544.6 61.7L547.5 66.7L550.4 61.7ZM545.7 61.4L548.6 66.4L551.5 61.4ZM547.0 58.2L549.9 63.2L552.8 58.2ZM548.3 62.1L551.2 67.1L554.1 62.1ZM549.6 58.7L552.5 63.7L555.4 58.7ZM551.0 59.0L553.9 64.0L556.8 59.0ZM552.3 58.9L555.2 63.9L558.1 58.9ZM553.0 58.7L555.9 63.7L558.8 58.7ZM554.2 59.2L557.1 64.2L560.0 59.2ZM556.1 63.1L559.0 68.1L561.9 63.1ZM556.8 61.5L559.7 66.5L562.6 61.5ZM558.1 60.9L561.0 65.9L563.9 60.9ZM559.9 58.7L562.8 63.7L565.7 58.7ZM561.3 61.6L564.2 66.6L567.1 61.6ZM562.4 61.0L565.3 66.0L568.2 61.0ZM563.4 60.5L566.3 65.5L569.2 60.5ZM564.6 58.1L567.5 63.1L570.4 58.1ZM566.4 62.1L569.3 67.1L572.2 62.1ZM567.4 62.0L570.3 67.0L573.2 62.0ZM568.6 59.1L571.5 64.1L574.4 59.1ZM569.4 63.1L572.3 68.1L575.2 63.1ZM570.8 59.5L573.7 64.5L576.6 59.5ZM571.9 60.7L574.8 65.7L577.7 60.7ZM574.0 62.3L576.9 67.3L579.8 62.3ZM574.6 60.6L577.5 65.6L580.4 60.6ZM575.9 61.5L578.8 66.5L581.7 61.5ZM577.5 59.8L580.4 64.8L583.3 59.8ZM578.4 59.5L581.3 64.5L584.2 59.5ZM580.0 57.9L582.9 62.9L585.8 57.9ZM581.7 60.0L584.6 65.0L587.5 60.0ZM582.9 59.9L585.8 64.9L588.7 59.9ZM583.6 60.9L586.5 65.9L589.4 60.9ZM585.5 60.1L588.4 65.1L591.3 60.1ZM586.3 58.5L589.2 63.5L592.1 58.5ZM587.6 62.8L590.5 67.8L593.4 62.8ZM588.7 59.1L591.6 64.1L594.5 59.1ZM590.6 60.8L593.5 65.8L596.4 60.8ZM591.3 59.9L594.2 64.9L597.1 59.9ZM592.9 59.5L595.8 64.5L598.7 59.5ZM594.1 58.8L597.0 63.8L599.9 58.8ZM595.4 59.7L598.3 64.7L601.2 59.7ZM596.2 60.6L599.1 65.6L602.0 60.6ZM597.9 59.6L600.8 64.6L603.7 59.6ZM599.5 60.0L602.4 65.0L605.3 60.0ZM600.4 60.3L603.3 65.3L606.2 60.3ZM601.4 59.7L604.3 64.7L607.2 59.7ZM602.5 58.8L605.4 63.8L608.3 58.8ZM604.0 59.8L606.9 64.8L609.8 59.8ZM605.7 59.8L608.6 64.8L611.5 59.8ZM606.3 61.9L609.2 66.9L612.1 61.9ZM607.6 60.2L610.5 65.2L613.4 60.2ZM609.4 62.7L612.3 67.7L615.2 62.7ZM610.9 59.0L613.8 64.0L616.7 59.0ZM611.8 61.4L614.7 66.4L617.6 61.4ZM613.2 58.1L616.1 63.1L619.0 58.1ZM614.2 55.7L617.1 60.7L620.0 55.7ZM615.5 60.6L618.4 65.6L621.3 60.6ZM616.9 58.1L619.8 63.1L622.7 58.1ZM618.0 59.4L620.9 64.4L623.8 59.4ZM619.4 60.8L622.3 65.8L625.2 60.8ZM86.6 265.4L89.5 270.4L92.4 265.4ZM87.8 270.0L90.7 275.0L93.6 270.0Z" fill="none" stroke="#2c8c34" stroke-width="1.1"/>
<path d="M78.6 299.2h6.0M81.6 296.2v6.0M79.4 297.0l4.3 4.3M79.4 301.3l4.3 -4.3M80.0 302.5h6.0M83.0 299.5v6.0M80.8 300.4l4.3 4.3M80.8 304.7l4.3 -4.3M81.7 293.4h6.0M84.7 290.4v6.0M82.6 291.2l4.3 4.3M82.6 295.5l4.3 -4.3M82.8 305.4h6.0M85.8 302.4v6.0M83.7 303.2l4.3 4.3M83.7 307.6l4.3 -4.3M83.7 296.3h6.0M86.7 293.3v6.0M84.5 294.1l4.3 4.3M84.5 298.4l4.3 -4.3M85.2 293.3h6.0M88.2 290.3v6.0M86.1 291.1l4.3 4.3M86.1 295.4l4.3 -4.3M86.6 297.0h6.0M89.6 294.0v6.0M87.4 294.8l4.3 4.3M87.4 299.2l4.3 -4.3M87.5 292.8h6.0M90.5 289.8v6.0M88.4 290.6l4.3 4.3M88.4 294.9l4.3 -4.3M89.3 289.9h6.0M92.3 286.9v6.0M90.2 287.7l4.3 4.3M90.2 292.0l4.3 -4.3M90.1 289.9h6.0M93.1 286.9v6.0M90.9 287.8l4.3 4.3M90.9 292.1l4.3 -4.3M91.6 293.1h6.0M94.6 290.1v6.0M92.4 291.0l4.3 4.3M92.4 295.3l4.3 -4.3M93.0 290.6h6.0M96.0 287.6v6.0M93.8 288.5l4.3 4.3M93.8 292.8l4.3 -4.3M94.2 285.3h6.0M97.2 282.3v6.0M95.0 283.1l4.3 4.3M95.0 287.5l4.3 -4.3M95.6 283.5h6.0M98.6 280.5v6.0M96.4 281.3l4.3 4.3M96.4 285.7l4.3 -4.3M97.0 287.5h6.0M100.0 284.5v6.0M97.8 285.3l4.3 4.3M97.8 289.6l4.3 -4.3M98.4 286.9h6.0M101.4 283.9v6.0M99.3 284.7l4.3 4.3M99.3 289.0l4.3 -4.3M99.1 286.1h6.0M102.1 283.1v6.0M100.0 283.9l4.3 4.3M100.0 288.2l4.3 -4.3M100.7 282.1h6.0M103.7 279.1v6.0M101.6 279.9l4.3 4.3M101.6 284.2l4.3 -4.3M102.0 289.8h6.0M105.0 286.8v6.0M102.9 287.6l4.3 4.3M102.9 291.9l4.3 -4.3M103.0 290.4h6.0M106.0 287.4v6.0M103.8 288.3l4.3 4.3M103.8 292.6l4.3 -4.3M104.0 284.2h6.0M107.0 281.2v6.0M104.8 282.1l4.3 4.3M104.8 286.4l4.3 -4.3M106.1 288.0h6.0M109.1 285.0v6.0M107.0 285.8l4.3 4.3M107.0 290.1l4.3 -4.3M106.8 285.5h6.0M109.8 282.5v6.0M107.6 283.4l4.3 4.3M107.6 287.7l4.3 -4.3M108.1 282.1h6.0M111.1 279.1v6.0M108.9 279.9l4.3 4.3M108.9 284.3l4.3 -4.3M109.9 279.3h6.0M112.9 276.3v6.0M110.7 277.1l4.3 4.3M110.7 281.5l4.3 -4.3M110.9 284.7h6.0M113.9 281.7v6.0M111.7 282.5l4.3 4.3M111.7 286.8l4.3 -4.3M112.0 276.3h6.0M115.0 273.3v6.0M112.9 274.2l4.3 4.3M112.9 278.5l4.3 -4.3M113.6 285.2h6.0M116.6 282.2v6.0M114.4 283.0l4.3 4.3M114.4 287.3l4.3 -4.3M114.2 275.4h6.0M117.2 272.4v6.0M115.0 273.3l4.3 4.3M115.0 277.6l4.3 -4.3M116.1 282.0h6.0M119.1 279.0v6.0M116.9 279.8l4.3 4.3M116.9 284.2l4.3 -4.3M117.0 279.8h6.0M120.0 276.8v6.0M117.9 277.6l4.3 4.3M117.9 281.9l4.3 -4.3M118.1 271.1h6.0M121.1 268.1v6.0M118.9 268.9l4.3 4.3M118.9 273.2l4.3 -4.3M119.8 273.2h6.0M122.8 270.2v6.0M120.7 271.0l4.3 4.3M120.7 275.3l4.3 -4.3M121.4 272.8h6.0M124.4 269.8v6.0M122.2 270.7l4.3 4.3M122.2 275.0l4.3 -4.3M122.0 270.6h6.0M125.0 267.6v6.0M122.8 268.5l4.3 4.3M122.8 272.8l4.3 -4.3M123.6 264.8h6.0M126.6 261.8v6.0M124.5 262.6l4.3 4.3M124.5 267.0l4.3 -4.3M124.6 265.5h6.0M127.6 262.5v6.0M125.5 263.3l4.3 4.3M125.5 267.6l4.3 -4.3M126.3 262.9h6.0M129.3 259.9v6.0M127.1 260.8l4.3 4.3M127.1 265.1l4.3 -4.3M127.5 256.7h6.0M130.5 253.7v6.0M128.4 254.5l4.3 4.3M128.4 258.9l4.3 -4.3M128.4 262.4h6.0M131.4 259.4v6.0M129.2 260.2l4.3 4.3M129.2 264.5l4.3 -4.3M130.2 258.4h6.0M133.2 255.4v6.0M131.0 256.2l4.3 4.3M131.0 260.6l4.3 -4.3M131.3 256.7h6.0M134.3 253.7v6.0M132.2 254.5l4.3 4.3M132.2 258.8l4.3 -4.3M132.6 247.7h6.0M135.6 244.7v6.0M133.5 245.5l4.3 4.3M133.5 249.8l4.3 -4.3M134.0 245.8h6.0M137.0 242.8v6.0M134.8 243.6l4.3 4.3M134.8 248.0l4.3 -4.3M134.9 242.9h6.0M137.9 239.9v6.0M135.8 240.7l4.3 4.3M135.8 245.0l4.3 -4.3M136.5 245.0h6.0M139.5 242.0v6.0M137.3 242.8l4.3 4.3M137.3 247.2l4.3 -4.3M137.9 242.7h6.0M140.9 239.7v6.0M138.7 240.5l4.3 4.3M138.7 244.8l4.3 -4.3M138.5 237.5h6.0M141.5 234.5v6.0M139.3 235.3l4.3 4.3M139.3 239.6l4.3 -4.3M140.4 238.2h6.0M143.4 235.2v6.0M141.2 236.1l4.3 4.3M141.2 240.4l4.3 -4.3M141.3 231.5h6.0M144.3 228.5v6.0M142.1 229.3l4.3 4.3M142.1 233.6l4.3 -4.3M142.6 228.8h6.0M145.6 225.8v6.0M143.5 226.6l4.3 4.3M143.5 230.9l4.3 -4.3M143.6 232.0h6.0M146.6 229.0v6.0M144.4 229.9l4.3 4.3M144.4 234.2l4.3 -4.3M145.4 225.2h6.0M148.4 222.2v6.0M146.2 223.0l4.3 4.3M146.2 227.3l4.3 -4.3M146.3 222.9h6.0M149.3 219.9v6.0M147.1 220.8l4.3 4.3M147.1 225.1l4.3 -4.3M148.1 210.7h6.0M151.1 207.7v6.0M148.9 208.5l4.3 4.3M148.9 212.8l4.3 -4.3M148.8 205.1h6.0M151.8 202.1v6.0M149.7 203.0l4.3 4.3M149.7 207.3l4.3 -4.3M150.3 211.2h6.0M153.3 208.2v6.0M151.2 209.0l4.3 4.3M151.2 213.3l4.3 -4.3M151.5 207.2h6.0M154.5 204.2v6.0M152.3 205.0l4.3 4.3M152.3 209.4l4.3 -4.3M152.9 211.6h6.0M155.9 208.6v6.0M153.8 209.4l4.3 4.3M153.8 213.7l4.3 -4.3M153.8 198.8h6.0M156.8 195.8v6.0M154.7 196.6l4.3 4.3M154.7 200.9l4.3 -4.3M155.1 195.4h6.0M158.1 192.4v6.0M155.9 193.2l4.3 4.3M155.9 197.6l4.3 -4.3M156.9 193.5h6.0M159.9 190.5v6.0M157.7 191.3l4.3 4.3M157.7 195.6l4.3 -4.3M158.2 181.6h6.0M161.2 178.6v6.0M159.0 179.4l4.3 4.3M159.0 183.8l4.3 -4.3M159.3 186.8h6.0M162.3 183.8v6.0M160.1 184.7l4.3 4.3M160.1 189.0l4.3 -4.3M160.9 175.5h6.0M163.9 172.5v6.0M161.7 173.3l4.3 4.3M161.7 177.6l4.3 -4.3M161.5 171.6h6.0M164.5 168.6v6.0M162.3 169.5l4.3 4.3M162.3 173.8l4.3 -4.3M163.3 169.7h6.0M166.3 166.7v6.0M164.2 167.6l4.3 4.3M164.2 171.9l4.3 -4.3M164.0 158.7h6.0M167.0 155.7v6.0M164.9 156.5l4.3 4.3M164.9 160.8l4.3 -4.3M166.0 149.7h6.0M169.0 146.7v6.0M166.8 147.5l4.3 4.3M166.8 151.9l4.3 -4.3M167.0 155.3h6.0M170.0 152.3v6.0M167.8 153.1l4.3 4.3M167.8 157.5l4.3 -4.3M168.2 150.1h6.0M171.2 147.1v6.0M169.1 147.9l4.3 4.3M169.1 152.3l4.3 -4.3M169.8 135.5h6.0M172.8 132.5v6.0M170.7 133.3l4.3 4.3M170.7 137.6l4.3 -4.3M170.9 133.4h6.0M173.9 130.4v6.0M171.8 131.2l4.3 4.3M171.8 135.5l4.3 -4.3M172.2 132.8h6.0M175.2 129.8v6.0M173.1 130.6l4.3 4.3M173.1 134.9l4.3 -4.3M172.8 126.6h6.0M175.8 123.6v6.0M173.7 124.5l4.3 4.3M173.7 128.8l4.3 -4.3M174.4 119.7h6.0M177.4 116.7v6.0M175.2 117.5l4.3 4.3M175.2 121.8l4.3 -4.3M175.4 115.8h6.0M178.4 112.8v6.0M176.2 113.7l4.3 4.3M176.2 118.0l4.3 -4.3M176.8 106.7h6.0M179.8 103.7v6.0M177.6 104.6l4.3 4.3M177.6 108.9l4.3 -4.3M178.1 103.6h6.0M181.1 100.6v6.0M178.9 101.5l4.3 4.3M178.9 105.8l4.3 -4.3M179.9 91.4h6.0M182.9 88.4v6.0M180.8 89.2l4.3 4.3M180.8 93.6l4.3 -4.3M180.5 90.7h6.0M183.5 87.7v6.0M181.4 88.6l4.3 4.3M181.4 92.9l4.3 -4.3M182.0 88.5h6.0M185.0 85.5v6.0M182.8 86.3l4.3 4.3M182.8 90.6l4.3 -4.3M183.4 81.9h6.0M186.4 78.9v6.0M184.3 79.8l4.3 4.3M184.3 84.1l4.3 -4.3M185.0 75.8h6.0M188.0 72.8v6.0M185.8 73.7l4.3 4.3M185.8 78.0l4.3 -4.3M186.4 74.1h6.0M189.4 71.1v6.0M187.2 71.9l4.3 4.3M187.2 76.2l4.3 -4.3M187.4 78.7h6.0M190.4 75.7v6.0M188.3 76.6l4.3 4.3M188.3 80.9l4.3 -4.3M188.3 68.2h6.0M191.3 65.2v6.0M189.1 66.1l4.3 4.3M189.1 70.4l4.3 -4.3M189.8 67.3h6.0M192.8 64.3v6.0M190.7 65.2l4.3 4.3M190.7 69.5l4.3 -4.3M191.2 57.9h6.0M194.2 54.9v6.0M192.1 55.8l4.3 4.3M192.1 60.1l4.3 -4.3M191.9 62.5h6.0M194.9 59.5v6.0M192.8 60.3l4.3 4.3M192.8 64.7l4.3 -4.3M193.8 57.2h6.0M196.8 54.2v6.0M194.6 55.0l4.3 4.3M194.6 59.3l4.3 -4.3M194.8 56.2h6.0M197.8 53.2v6.0M195.6 54.0l4.3 4.3M195.6 58.4l4.3 -4.3M196.2 48.5h6.0M199.2 45.5v6.0M197.1 46.3l4.3 4.3M197.1 50.6l4.3 -4.3M197.6 52.4h6.0M200.6 49.4v6.0M198.4 50.3l4.3 4.3M198.4 54.6l4.3 -4.3M198.9 52.5h6.0M201.9 49.5v6.0M199.7 50.3l4.3 4.3M199.7 54.6l4.3 -4.3M200.0 48.8h6.0M203.0 45.8v6.0M200.8 46.6l4.3 4.3M200.8 50.9l4.3 -4.3M201.3 50.2h6.0M204.3 47.2v6.0M202.1 48.1l4.3 4.3M202.1 52.4l4.3 -4.3M202.3 46.8h6.0M205.3 43.8v6.0M203.1 44.7l4.3 4.3M203.1 49.0l4.3 -4.3M203.8 45.9h6.0M206.8 42.9v6.0M204.6 43.8l4.3 4.3M204.6 48.1l4.3 -4.3M204.7 43.9h6.0M207.7 40.9v6.0M205.6 41.8l4.3 4.3M205.6 46.1l4.3 -4.3M206.3 36.0h6.0M209.3 33.0v6.0M207.2 33.8l4.3 4.3M207.2 38.1l4.3 -4.3M207.7 44.1h6.0M210.7 41.1v6.0M208.5 42.0l4.3 4.3M208.5 46.3l4.3 -4.3M209.2 41.3h6.0M212.2 38.3v6.0M210.0 39.2l4.3 4.3M210.0 43.5l4.3 -4.3M210.1 41.7h6.0M213.1 38.7v6.0M210.9 39.5l4.3 4.3M210.9 43.8l4.3 -4.3M211.0 37.7h6.0M214.0 34.7v6.0M211.9 35.5l4.3 4.3M211.9 39.9l4.3 -4.3M212.8 44.2h6.0M215.8 41.2v6.0M213.6 42.1l4.3 4.3M213.6 46.4l4.3 -4.3M213.7 42.0h6.0M216.7 39.0v6.0M214.6 39.8l4.3 4.3M214.6 44.1l4.3 -4.3M215.5 39.0h6.0M218.5 36.0v6.0M216.3 36.8l4.3 4.3M216.3 41.2l4.3 -4.3M216.5 36.6h6.0M219.5 33.6v6.0M217.3 34.4l4.3 4.3M217.3 38.7l4.3 -4.3M217.7 38.9h6.0M220.7 35.9v6.0M218.6 36.7l4.3 4.3M218.6 41.0l4.3 -4.3M219.5 40.7h6.0M222.5 37.7v6.0M220.3 38.6l4.3 4.3M220.3 42.9l4.3 -4.3M220.3 42.3h6.0M223.3 39.3v6.0M221.1 40.1l4.3 4.3M221.1 44.4l4.3 -4.3M221.5 37.0h6.0M224.5 34.0v6.0M222.4 34.9l4.3 4.3M222.4 39.2l4.3 -4.3M222.8 33.7h6.0M225.8 30.7v6.0M223.6 31.5l4.3 4.3M223.6 35.9l4.3 -4.3M224.2 38.5h6.0M227.2 35.5v6.0M225.0 36.3l4.3 4.3M225.0 40.6l4.3 -4.3M225.1 39.3h6.0M228.1 36.3v6.0M225.9 37.1l4.3 4.3M225.9 41.4l4.3 -4.3M226.8 38.9h6.0M229.8 35.9v6.0M227.6 36.7l4.3 4.3M227.6 41.0l4.3 -4.3M228.4 44.5h6.0M231.4 41.5v6.0M229.2 42.3l4.3 4.3M229.2 46.6l4.3 -4.3M229.4 42.5h6.0M232.4 39.5v6.0M230.2 40.4l4.3 4.3M230.2 44.7l4.3 -4.3M230.8 42.9h6.0M233.8 39.9v6.0M231.6 40.8l4.3 4.3M231.6 45.1l4.3 -4.3M232.2 41.6h6.0M235.2 38.6v6.0M233.1 39.5l4.3 4.3M233.1 43.8l4.3 -4.3M233.4 43.3h6.0M236.4 40.3v6.0M234.3 41.1l4.3 4.3M234.3 45.4l4.3 -4.3M234.6 47.7h6.0M237.6 44.7v6.0M235.4 45.5l4.3 4.3M235.4 49.8l4.3 -4.3M235.9 40.9h6.0M238.9 37.9v6.0M236.8 38.8l4.3 4.3M236.8 43.1l4.3 -4.3M237.2 40.0h6.0M240.2 37.0v6.0M238.1 37.8l4.3 4.3M238.1 42.1l4.3 -4.3M238.0 46.4h6.0M241.0 43.4v6.0M238.8 44.3l4.3 4.3M238.8 48.6l4.3 -4.3M239.5 45.4h6.0M242.5 42.4v6.0M240.3 43.2l4.3 4.3M240.3 47.5l4.3 -4.3M240.6 46.6h6.0M243.6 43.6v6.0M241.5 44.4l4.3 4.3M241.5 48.7l4.3 -4.3M241.8 46.0h6.0M244.8 43.0v6.0M242.7 43.8l4.3 4.3M242.7 48.1l4.3 -4.3M243.4 53.3h6.0M246.4 50.3v6.0M244.2 51.1l4.3 4.3M244.2 55.4l4.3 -4.3M244.4 45.8h6.0M247.4 42.8v6.0M245.3 43.6l4.3 4.3M245.3 48.0l4.3 -4.3M246.0 52.4h6.0M249.0 49.4v6.0M246.8 50.2l4.3 4.3M246.8 54.5l4.3 -4.3M247.2 49.0h6.0M250.2 46.0v6.0M248.0 46.8l4.3 4.3M248.0 51.2l4.3 -4.3M248.1 52.5h6.0M251.1 49.5v6.0M248.9 50.4l4.3 4.3M248.9 54.7l4.3 -4.3M249.6 54.8h6.0M252.6 51.8v6.0M250.5 52.6l4.3 4.3M250.5 57.0l4.3 -4.3M250.9 55.1h6.0M253.9 52.1v6.0M251.7 52.9l4.3 4.3M251.7 57.2l4.3 -4.3M252.4 53.9h6.0M255.4 50.9v6.0M253.3 51.7l4.3 4.3M253.3 56.1l4.3 -4.3M253.1 58.1h6.0M256.1 55.1v6.0M254.0 56.0l4.3 4.3M254.0 60.3l4.3 -4.3M254.5 57.9h6.0M257.5 54.9v6.0M255.3 55.7l4.3 4.3M255.3 60.1l4.3 -4.3M256.1 59.0h6.0M259.1 56.0v6.0M256.9 56.8l4.3 4.3M256.9 61.2l4.3 -4.3M257.2 61.9h6.0M260.2 58.9v6.0M258.1 59.7l4.3 4.3M258.1 64.1l4.3 -4.3M258.8 57.1h6.0M261.8 54.1v6.0M259.6 55.0l4.3 4.3M259.6 59.3l4.3 -4.3M259.7 58.9h6.0M262.7 55.9v6.0M260.6 56.7l4.3 4.3M260.6 61.1l4.3 -4.3M260.9 60.4h6.0M263.9 57.4v6.0M261.7 58.3l4.3 4.3M261.7 62.6l4.3 -4.3M262.8 59.3h6.0M265.8 56.3v6.0M263.7 57.1l4.3 4.3M263.7 61.5l4.3 -4.3M263.5 62.9h6.0M266.5 59.9v6.0M264.3 60.7l4.3 4.3M264.3 65.1l4.3 -4.3M264.7 61.9h6.0M267.7 58.9v6.0M265.5 59.7l4.3 4.3M265.5 64.1l4.3 -4.3M266.1 59.5h6.0M269.1 56.5v6.0M266.9 57.3l4.3 4.3M266.9 61.6l4.3 -4.3M267.4 61.0h6.0M270.4 58.0v6.0M268.2 58.9l4.3 4.3M268.2 63.2l4.3 -4.3M268.6 66.4h6.0M271.6 63.4v6.0M269.4 64.2l4.3 4.3M269.4 68.5l4.3 -4.3M270.1 68.4h6.0M273.1 65.4v6.0M270.9 66.3l4.3 4.3M270.9 70.6l4.3 -4.3M271.7 65.1h6.0M274.7 62.1v6.0M272.6 63.0l4.3 4.3M272.6 67.3l4.3 -4.3M272.3 61.9h6.0M275.3 58.9v6.0M273.1 59.7l4.3 4.3M273.1 64.1l4.3 -4.3M273.8 64.6h6.0M276.8 61.6v6.0M274.7 62.4l4.3 4.3M274.7 66.7l4.3 -4.3M275.3 64.3h6.0M278.3 61.3v6.0M276.2 62.2l4.3 4.3M276.2 66.5l4.3 -4.3M276.8 63.2h6.0M279.8 60.2v6.0M277.6 61.0l4.3 4.3M277.6 65.3l4.3 -4.3M278.2 65.6h6.0M281.2 62.6v6.0M279.0 63.5l4.3 4.3M279.0 67.8l4.3 -4.3M278.7 63.9h6.0M281.7 60.9v6.0M279.5 61.8l4.3 4.3M279.5 66.1l4.3 -4.3M280.3 63.1h6.0M283.3 60.1v6.0M281.1 61.0l4.3 4.3M281.1 65.3l4.3 -4.3M281.9 63.7h6.0M284.9 60.7v6.0M282.7 61.5l4.3 4.3M282.7 65.8l4.3 -4.3M282.4 63.8h6.0M285.4 60.8v6.0M283.3 61.6l4.3 4.3M283.3 66.0l4.3 -4.3M284.2 65.4h6.0M287.2 62.4v6.0M285.0 63.2l4.3 4.3M285.0 67.6l4.3 -4.3M285.1 63.6h6.0M288.1 60.6v6.0M285.9 61.5l4.3 4.3M285.9 65.8l4.3 -4.3M286.9 65.1h6.0M289.9 62.1v6.0M287.7 63.0l4.3 4.3M287.7 67.3l4.3 -4.3M288.3 62.3h6.0M291.3 59.3v6.0M289.1 60.2l4.3 4.3M289.1 64.5l4.3 -4.3M289.2 60.3h6.0M292.2 57.3v6.0M290.1 58.2l4.3 4.3M290.1 62.5l4.3 -4.3M290.0 65.5h6.0M293.0 62.5v6.0M290.9 63.4l4.3 4.3M290.9 67.7l4.3 -4.3M291.3 67.7h6.0M294.3 64.7v6.0M292.2 65.6l4.3 4.3M292.2 69.9l4.3 -4.3M292.9 64.9h6.0M295.9 61.9v6.0M293.8 62.8l4.3 4.3M293.8 67.1l4.3 -4.3M294.6 63.6h6.0M297.6 60.6v6.0M295.4 61.4l4.3 4.3M295.4 65.7l4.3 -4.3M295.3 62.5h6.0M298.3 59.5v6.0M296.2 60.3l4.3 4.3M296.2 64.6l4.3 -4.3M297.0 62.4h6.0M300.0 59.4v6.0M297.8 60.2l4.3 4.3M297.8 64.5l4.3 -4.3M298.0 65.3h6.0M301.0 62.3v6.0M298.9 63.1l4.3 4.3M298.9 67.4l4.3 -4.3M299.2 65.2h6.0M302.2 62.2v6.0M300.0 63.1l4.3 4.3M300.0 67.4l4.3 -4.3M300.8 61.9h6.0M303.8 58.9v6.0M301.7 59.7l4.3 4.3M301.7 64.1l4.3 -4.3M301.8 65.6h6.0M304.8 62.6v6.0M302.6 63.4l4.3 4.3M302.6 67.7l4.3 -4.3M303.1 62.1h6.0M306.1 59.1v6.0M303.9 59.9l4.3 4.3M303.9 64.2l4.3 -4.3M304.7 64.1h6.0M307.7 61.1v6.0M305.6 61.9l4.3 4.3M305.6 66.2l4.3 -4.3M305.7 62.4h6.0M308.7 59.4v6.0M306.6 60.3l4.3 4.3M306.6 64.6l4.3 -4.3M307.3 62.5h6.0M310.3 59.5v6.0M308.1 60.3l4.3 4.3M308.1 64.6l4.3 -4.3M308.3 62.3h6.0M311.3 59.3v6.0M309.2 60.1l4.3 4.3M309.2 64.5l4.3 -4.3M309.3 62.2h6.0M312.3 59.2v6.0M310.1 60.0l4.3 4.3M310.1 64.3l4.3 -4.3M310.8 65.0h6.0M313.8 62.0v6.0M311.6 62.8l4.3 4.3M311.6 67.1l4.3 -4.3M312.5 62.9h6.0M315.5 59.9v6.0M313.3 60.7l4.3 4.3M313.3 65.0l4.3 -4.3M313.5 63.3h6.0M316.5 60.3v6.0M314.3 61.1l4.3 4.3M314.3 65.4l4.3 -4.3M315.1 62.7h6.0M318.1 59.7v6.0M315.9 60.5l4.3 4.3M315.9 64.9l4.3 -4.3M315.5 61.2h6.0M318.5 58.2v6.0M316.3 59.1l4.3 4.3M316.3 63.4l4.3 -4.3M317.1 63.5h6.0M320.1 60.5v6.0M317.9 61.4l4.3 4.3M317.9 65.7l4.3 -4.3M318.7 64.1h6.0M321.7 61.1v6.0M319.6 62.0l4.3 4.3M319.6 66.3l4.3 -4.3M319.9 64.1h6.0M322.9 61.1v6.0M320.8 61.9l4.3 4.3M320.8 66.3l4.3 -4.3M321.1 63.4h6.0M324.1 60.4v6.0M321.9 61.2l4.3 4.3M321.9 65.6l4.3 -4.3M322.5 61.6h6.0M325.5 58.6v6.0M323.3 59.5l4.3 4.3M323.3 63.8l4.3 -4.3M323.9 64.1h6.0M326.9 61.1v6.0M324.8 61.9l4.3 4.3M324.8 66.2l4.3 -4.3M325.0 60.9h6.0M328.0 57.9v6.0M325.9 58.7l4.3 4.3M325.9 63.1l4.3 -4.3M326.2 62.2h6.0M329.2 59.2v6.0M327.0 60.1l4.3 4.3M327.0 64.4l4.3 -4.3M327.5 63.0h6.0M330.5 60.0v6.0M328.3 60.8l4.3 4.3M328.3 65.1l4.3 -4.3M328.8 64.7h6.0M331.8 61.7v6.0M329.7 62.5l4.3 4.3M329.7 66.8l4.3 -4.3M329.8 62.1h6.0M332.8 59.1v6.0M330.6 60.0l4.3 4.3M330.6 64.3l4.3 -4.3M331.4 61.4h6.0M334.4 58.4v6.0M332.2 59.2l4.3 4.3M332.2 63.5l4.3 -4.3M332.6 65.2h6.0M335.6 62.2v6.0M333.5 63.0l4.3 4.3M333.5 67.4l4.3 -4.3M334.0 60.5h6.0M337.0 57.5v6.0M334.9 58.3l4.3 4.3M334.9 62.6l4.3 -4.3M335.0 59.7h6.0M338.0 56.7v6.0M335.9 57.6l4.3 4.3M335.9 61.9l4.3 -4.3M335.9 61.8h6.0M338.9 58.8v6.0M336.8 59.6l4.3 4.3M336.8 63.9l4.3 -4.3M337.6 61.5h6.0M340.6 58.5v6.0M338.5 59.3l4.3 4.3M338.5 63.6l4.3 -4.3M339.2 58.4h6.0M342.2 55.4v6.0M340.0 56.2l4.3 4.3M340.0 60.5l4.3 -4.3M340.3 60.2h6.0M343.3 57.2v6.0M341.1 58.1l4.3 4.3M341.1 62.4l4.3 -4.3M341.6 63.5h6.0M344.6 60.5v6.0M342.4 61.4l4.3 4.3M342.4 65.7l4.3 -4.3M342.6 62.1h6.0M345.6 59.1v6.0M343.4 60.0l4.3 4.3M343.4 64.3l4.3 -4.3M343.9 62.3h6.0M346.9 59.3v6.0M344.7 60.1l4.3 4.3M344.7 64.5l4.3 -4.3M345.4 62.3h6.0M348.4 59.3v6.0M346.3 60.1l4.3 4.3M346.3 64.4l4.3 -4.3M346.2 65.7h6.0M349.2 62.7v6.0M347.0 63.6l4.3 4.3M347.0 67.9l4.3 -4.3M348.1 60.8h6.0M351.1 57.8v6.0M349.0 58.6l4.3 4.3M349.0 62.9l4.3 -4.3M349.4 62.9h6.0M352.4 59.9v6.0M350.3 60.8l4.3 4.3M350.3 65.1l4.3 -4.3M350.8 61.6h6.0M353.8 58.6v6.0M351.6 59.5l4.3 4.3M351.6 63.8l4.3 -4.3M351.3 62.1h6.0M354.3 59.1v6.0M352.1 59.9l4.3 4.3M352.1 64.3l4.3 -4.3M352.6 60.5h6.0M355.6 57.5v6.0M353.4 58.3l4.3 4.3M353.4 62.6l4.3 -4.3M354.5 62.3h6.0M357.5 59.3v6.0M355.4 60.1l4.3 4.3M355.4 64.5l4.3 -4.3M355.4 63.1h6.0M358.4 60.1v6.0M356.2 60.9l4.3 4.3M356.2 65.2l4.3 -4.3M356.5 60.9h6.0M359.5 57.9v6.0M357.4 58.8l4.3 4.3M357.4 63.1l4.3 -4.3M357.9 59.5h6.0M360.9 56.5v6.0M358.7 57.4l4.3 4.3M358.7 61.7l4.3 -4.3M359.4 62.2h6.0M362.4 59.2v6.0M360.3 60.1l4.3 4.3M360.3 64.4l4.3 -4.3M360.2 59.6h6.0M363.2 56.6v6.0M361.1 57.4l4.3 4.3M361.1 61.7l4.3 -4.3M361.8 61.3h6.0M364.8 58.3v6.0M362.6 59.1l4.3 4.3M362.6 63.5l4.3 -4.3M363.2 62.5h6.0M366.2 59.5v6.0M364.1 60.4l4.3 4.3M364.1 64.7l4.3 -4.3M364.6 59.3h6.0M367.6 56.3v6.0M365.4 57.1l4.3 4.3M365.4 61.4l4.3 -4.3M365.2 63.0h6.0M368.2 60.0v6.0M366.0 60.8l4.3 4.3M366.0 65.1l4.3 -4.3M367.2 60.0h6.0M370.2 57.0v6.0M368.0 57.9l4.3 4.3M368.0 62.2l4.3 -4.3M368.1 62.4h6.0M371.1 59.4v6.0M369.0 60.3l4.3 4.3M369.0 64.6l4.3 -4.3M369.4 60.9h6.0M372.4 57.9v6.0M370.2 58.7l4.3 4.3M370.2 63.1l4.3 -4.3M370.8 63.6h6.0M373.8 60.6v6.0M371.6 61.4l4.3 4.3M371.6 65.7l4.3 -4.3M371.8 62.9h6.0M374.8 59.9v6.0M372.7 60.8l4.3 4.3M372.7 65.1l4.3 -4.3M373.6 59.9h6.0M376.6 56.9v6.0M374.5 57.7l4.3 4.3M374.5 62.1l4.3 -4.3M374.3 61.3h6.0M377.3 58.3v6.0M375.1 59.1l4.3 4.3M375.1 63.4l4.3 -4.3M375.9 61.5h6.0M378.9 58.5v6.0M376.7 59.3l4.3 4.3M376.7 63.7l4.3 -4.3M376.8 62.3h6.0M379.8 59.3v6.0M377.7 60.1l4.3 4.3M377.7 64.4l4.3 -4.3M378.5 60.8h6.0M381.5 57.8v6.0M379.3 58.7l4.3 4.3M379.3 63.0l4.3 -4.3M380.0 63.7h6.0M383.0 60.7v6.0M380.9 61.6l4.3 4.3M380.9 65.9l4.3 -4.3M381.3 63.3h6.0M384.3 60.3v6.0M382.1 61.1l4.3 4.3M382.1 65.5l4.3 -4.3M381.9 61.8h6.0M384.9 58.8v6.0M382.7 59.6l4.3 4.3M382.7 63.9l4.3 -4.3M383.6 62.8h6.0M386.6 59.8v6.0M384.4 60.7l4.3 4.3M384.4 65.0l4.3 -4.3M385.1 62.6h6.0M388.1 59.6v6.0M385.9 60.5l4.3 4.3M385.9 64.8l4.3 -4.3M385.8 61.6h6.0M388.8 58.6v6.0M386.6 59.5l4.3 4.3M386.6 63.8l4.3 -4.3M387.2 61.7h6.0M390.2 58.7v6.0M388.1 59.6l4.3 4.3M388.1 63.9l4.3 -4.3M388.8 61.8h6.0M391.8 58.8v6.0M389.6 59.7l4.3 4.3M389.6 64.0l4.3 -4.3M390.1 58.9h6.0M393.1 55.9v6.0M390.9 56.7l4.3 4.3M390.9 61.0l4.3 -4.3M391.1 59.9h6.0M394.1 56.9v6.0M391.9 57.7l4.3 4.3M391.9 62.0l4.3 -4.3M392.5 59.5h6.0M395.5 56.5v6.0M393.4 57.4l4.3 4.3M393.4 61.7l4.3 -4.3M393.8 61.5h6.0M396.8 58.5v6.0M394.7 59.4l4.3 4.3M394.7 63.7l4.3 -4.3M394.8 62.3h6.0M397.8 59.3v6.0M395.7 60.1l4.3 4.3M395.7 64.4l4.3 -4.3M396.4 63.8h6.0M399.4 60.8v6.0M397.2 61.6l4.3 4.3M397.2 65.9l4.3 -4.3M397.6 62.0h6.0M400.6 59.0v6.0M398.4 59.9l4.3 4.3M398.4 64.2l4.3 -4.3M399.0 64.8h6.0M402.0 61.8v6.0M399.8 62.6l4.3 4.3M399.8 66.9l4.3 -4.3M400.1 62.4h6.0M403.1 59.4v6.0M400.9 60.2l4.3 4.3M400.9 64.5l4.3 -4.3M401.2 60.3h6.0M404.2 57.3v6.0M402.0 58.1l4.3 4.3M402.0 62.4l4.3 -4.3M402.5 58.9h6.0M405.5 55.9v6.0M403.4 56.7l4.3 4.3M403.4 61.1l4.3 -4.3M404.2 59.9h6.0M407.2 56.9v6.0M405.1 57.8l4.3 4.3M405.1 62.1l4.3 -4.3M404.9 62.8h6.0M407.9 59.8v6.0M405.7 60.7l4.3 4.3M405.7 65.0l4.3 -4.3M406.1 60.7h6.0M409.1 57.7v6.0M406.9 58.5l4.3 4.3M406.9 62.8l4.3 -4.3M407.3 62.7h6.0M410.3 59.7v6.0M408.1 60.5l4.3 4.3M408.1 64.9l4.3 -4.3M409.3 60.2h6.0M412.3 57.2v6.0M410.1 58.0l4.3 4.3M410.1 62.3l4.3 -4.3M410.7 61.6h6.0M413.7 58.6v6.0M411.5 59.5l4.3 4.3M411.5 63.8l4.3 -4.3M411.3 60.1h6.0M414.3 57.1v6.0M412.1 57.9l4.3 4.3M412.1 62.3l4.3 -4.3M412.6 57.4h6.0M415.6 54.4v6.0M413.4 55.2l4.3 4.3M413.4 59.5l4.3 -4.3M413.8 60.0h6.0M416.8 57.0v6.0M414.6 57.8l4.3 4.3M414.6 62.2l4.3 -4.3M415.4 57.8h6.0M418.4 54.8v6.0M416.3 55.6l4.3 4.3M416.3 59.9l4.3 -4.3M416.6 61.2h6.0M419.6 58.2v6.0M417.4 59.0l4.3 4.3M417.4 63.3l4.3 -4.3M418.2 62.0h6.0M421.2 59.0v6.0M419.0 59.8l4.3 4.3M419.0 64.1l4.3 -4.3M418.9 59.3h6.0M421.9 56.3v6.0M419.7 57.2l4.3 4.3M419.7 61.5l4.3 -4.3M420.8 58.7h6.0M423.8 55.7v6.0M421.6 56.6l4.3 4.3M421.6 60.9l4.3 -4.3M421.7 62.3h6.0M424.7 59.3v6.0M422.5 60.2l4.3 4.3M422.5 64.5l4.3 -4.3M423.3 61.3h6.0M426.3 58.3v6.0M424.1 59.2l4.3 4.3M424.1 63.5l4.3 -4.3M424.5 63.7h6.0M427.5 60.7v6.0M425.4 61.6l4.3 4.3M425.4 65.9l4.3 -4.3M425.9 61.8h6.0M428.9 58.8v6.0M426.7 59.6l4.3 4.3M426.7 63.9l4.3 -4.3M426.8 60.1h6.0M429.8 57.1v6.0M427.6 57.9l4.3 4.3M427.6 62.2l4.3 -4.3M428.2 61.6h6.0M431.2 58.6v6.0M429.0 59.4l4.3 4.3M429.0 63.8l4.3 -4.3M429.4 62.4h6.0M432.4 59.4v6.0M430.3 60.2l4.3 4.3M430.3 64.5l4.3 -4.3M430.4 63.7h6.0M433.4 60.7v6.0M431.2 61.5l4.3 4.3M431.2 65.9l4.3 -4.3M431.9 60.9h6.0M434.9 57.9v6.0M432.7 58.7l4.3 4.3M432.7 63.1l4.3 -4.3M433.6 60.2h6.0M436.6 57.2v6.0M434.4 58.1l4.3 4.3M434.4 62.4l4.3 -4.3M434.8 60.5h6.0M437.8 57.5v6.0M435.7 58.4l4.3 4.3M435.7 62.7l4.3 -4.3M435.3 61.1h6.0M438.3 58.1v6.0M436.1 58.9l4.3 4.3M436.1 63.2l4.3 -4.3M437.1 63.5h6.0M440.1 60.5v6.0M438.0 61.3l4.3 4.3M438.0 65.7l4.3 -4.3M438.1 58.7h6.0M441.1 55.7v6.0M439.0 56.5l4.3 4.3M439.0 60.9l4.3 -4.3M439.2 61.6h6.0M442.2 58.6v6.0M440.1 59.4l4.3 4.3M440.1 63.7l4.3 -4.3M440.5 61.7h6.0M443.5 58.7v6.0M441.3 59.6l4.3 4.3M441.3 63.9l4.3 -4.3M442.4 60.3h6.0M445.4 57.3v6.0M443.2 58.2l4.3 4.3M443.2 62.5l4.3 -4.3M443.8 64.9h6.0M446.8 61.9v6.0M444.6 62.8l4.3 4.3M444.6 67.1l4.3 -4.3M444.7 61.6h6.0M447.7 58.6v6.0M445.5 59.4l4.3 4.3M445.5 63.8l4.3 -4.3M445.8 61.7h6.0M448.8 58.7v6.0M446.7 59.6l4.3 4.3M446.7 63.9l4.3 -4.3M447.2 60.9h6.0M450.2 57.9v6.0M448.0 58.8l4.3 4.3M448.0 63.1l4.3 -4.3M448.8 59.4h6.0M451.8 56.4v6.0M449.6 57.2l4.3 4.3M449.6 61.5l4.3 -4.3M450.0 60.8h6.0M453.0 57.8v6.0M450.8 58.6l4.3 4.3M450.8 62.9l4.3 -4.3M450.6 64.4h6.0M453.6 61.4v6.0M451.5 62.2l4.3 4.3M451.5 66.6l4.3 -4.3M452.0 62.0h6.0M455.0 59.0v6.0M452.9 59.9l4.3 4.3M452.9 64.2l4.3 -4.3M453.9 61.2h6.0M456.9 58.2v6.0M454.7 59.0l4.3 4.3M454.7 63.4l4.3 -4.3M454.8 61.3h6.0M457.8 58.3v6.0M455.7 59.1l4.3 4.3M455.7 63.4l4.3 -4.3M456.3 63.5h6.0M459.3 60.5v6.0M457.1 61.4l4.3 4.3M457.1 65.7l4.3 -4.3M457.6 64.2h6.0M460.6 61.2v6.0M458.5 62.0l4.3 4.3M458.5 66.3l4.3 -4.3M458.8 60.7h6.0M461.8 57.7v6.0M459.6 58.5l4.3 4.3M459.6 62.8l4.3 -4.3M460.1 61.0h6.0M463.1 58.0v6.0M461.0 58.8l4.3 4.3M461.0 63.1l4.3 -4.3M461.3 61.6h6.0M464.3 58.6v6.0M462.1 59.4l4.3 4.3M462.1 63.7l4.3 -4.3M462.2 64.3h6.0M465.2 61.3v6.0M463.1 62.1l4.3 4.3M463.1 66.4l4.3 -4.3M463.5 58.7h6.0M466.5 55.7v6.0M464.3 56.6l4.3 4.3M464.3 60.9l4.3 -4.3M465.5 66.1h6.0M468.5 63.1v6.0M466.3 64.0l4.3 4.3M466.3 68.3l4.3 -4.3M465.9 62.1h6.0M468.9 59.1v6.0M466.7 59.9l4.3 4.3M466.7 64.3l4.3 -4.3M467.8 58.2h6.0M470.8 55.2v6.0M468.6 56.1l4.3 4.3M468.6 60.4l4.3 -4.3M469.2 61.8h6.0M472.2 58.8v6.0M470.0 59.6l4.3 4.3M470.0 63.9l4.3 -4.3M469.9 61.2h6.0M472.9 58.2v6.0M470.7 59.0l4.3 4.3M470.7 63.3l4.3 -4.3M471.0 63.4h6.0M474.0 60.4v6.0M471.8 61.2l4.3 4.3M471.8 65.6l4.3 -4.3M472.6 59.4h6.0M475.6 56.4v6.0M473.4 57.2l4.3 4.3M473.4 61.6l4.3 -4.3M473.8 63.6h6.0M476.8 60.6v6.0M474.6 61.4l4.3 4.3M474.6 65.7l4.3 -4.3M475.2 61.1h6.0M478.2 58.1v6.0M476.0 59.0l4.3 4.3M476.0 63.3l4.3 -4.3M476.4 61.3h6.0M479.4 58.3v6.0M477.3 59.2l4.3 4.3M477.3 63.5l4.3 -4.3M478.2 63.2h6.0M481.2 60.2v6.0M479.0 61.0l4.3 4.3M479.0 65.4l4.3 -4.3M478.7 60.1h6.0M481.7 57.1v6.0M479.6 58.0l4.3 4.3M479.6 62.3l4.3 -4.3M480.7 63.8h6.0M483.7 60.8v6.0M481.6 61.6l4.3 4.3M481.6 65.9l4.3 -4.3M481.2 62.6h6.0M484.2 59.6v6.0M482.0 60.5l4.3 4.3M482.0 64.8l4.3 -4.3M483.3 61.6h6.0M486.3 58.6v6.0M484.1 59.4l4.3 4.3M484.1 63.8l4.3 -4.3M484.0 62.2h6.0M487.0 59.2v6.0M484.8 60.0l4.3 4.3M484.8 64.4l4.3 -4.3M485.6 60.8h6.0M488.6 57.8v6.0M486.5 58.6l4.3 4.3M486.5 63.0l4.3 -4.3M486.3 60.1h6.0M489.3 57.1v6.0M487.1 57.9l4.3 4.3M487.1 62.2l4.3 -4.3M487.9 62.0h6.0M490.9 59.0v6.0M488.8 59.9l4.3 4.3M488.8 64.2l4.3 -4.3M489.4 62.4h6.0M492.4 59.4v6.0M490.2 60.2l4.3 4.3M490.2 64.6l4.3 -4.3M490.6 62.4h6.0M493.6 59.4v6.0M491.5 60.2l4.3 4.3M491.5 64.5l4.3 -4.3M492.1 62.1h6.0M495.1 59.1v6.0M492.9 60.0l4.3 4.3M492.9 64.3l4.3 -4.3M492.8 60.3h6.0M495.8 57.3v6.0M493.6 58.1l4.3 4.3M493.6 62.4l4.3 -4.3M494.3 61.9h6.0M497.3 58.9v6.0M495.1 59.7l4.3 4.3M495.1 64.1l4.3 -4.3M495.7 60.9h6.0M498.7 57.9v6.0M496.6 58.7l4.3 4.3M496.6 63.1l4.3 -4.3M496.5 61.7h6.0M499.5 58.7v6.0M497.3 59.5l4.3 4.3M497.3 63.9l4.3 -4.3M498.5 62.9h6.0M501.5 59.9v6.0M499.3 60.7l4.3 4.3M499.3 65.0l4.3 -4.3M499.4 60.2h6.0M502.4 57.2v6.0M500.2 58.0l4.3 4.3M500.2 62.3l4.3 -4.3M500.5 63.2h6.0M503.5 60.2v6.0M501.3 61.0l4.3 4.3M501.3 65.3l4.3 -4.3M501.7 61.5h6.0M504.7 58.5v6.0M502.6 59.4l4.3 4.3M502.6 63.7l4.3 -4.3M503.4 59.2h6.0M506.4 56.2v6.0M504.2 57.0l4.3 4.3M504.2 61.4l4.3 -4.3M504.1 63.3h6.0M507.1 60.3v6.0M505.0 61.1l4.3 4.3M505.0 65.4l4.3 -4.3M505.6 61.6h6.0M508.6 58.6v6.0M506.4 59.5l4.3 4.3M506.4 63.8l4.3 -4.3M506.9 64.0h6.0M509.9 61.0v6.0M507.8 61.9l4.3 4.3M507.8 66.2l4.3 -4.3M508.1 62.4h6.0M511.1 59.4v6.0M509.0 60.2l4.3 4.3M509.0 64.5l4.3 -4.3M509.8 63.9h6.0M512.8 60.9v6.0M510.7 61.7l4.3 4.3M510.7 66.1l4.3 -4.3M511.0 62.1h6.0M514.0 59.1v6.0M511.8 60.0l4.3 4.3M511.8 64.3l4.3 -4.3M512.5 62.4h6.0M515.5 59.4v6.0M513.4 60.2l4.3 4.3M513.4 64.6l4.3 -4.3M513.6 61.3h6.0M516.6 58.3v6.0M514.5 59.2l4.3 4.3M514.5 63.5l4.3 -4.3M514.6 59.0h6.0M517.6 56.0v6.0M515.4 56.9l4.3 4.3M515.4 61.2l4.3 -4.3M515.9 61.1h6.0M518.9 58.1v6.0M516.7 58.9l4.3 4.3M516.7 63.3l4.3 -4.3M516.9 60.5h6.0M519.9 57.5v6.0M517.8 58.3l4.3 4.3M517.8 62.7l4.3 -4.3M518.3 61.6h6.0M521.3 58.6v6.0M519.2 59.5l4.3 4.3M519.2 63.8l4.3 -4.3M519.9 61.9h6.0M522.9 58.9v6.0M520.8 59.8l4.3 4.3M520.8 64.1l4.3 -4.3M521.3 62.9h6.0M524.3 59.9v6.0M522.2 60.7l4.3 4.3M522.2 65.0l4.3 -4.3M522.2 64.4h6.0M525.2 61.4v6.0M523.0 62.2l4.3 4.3M523.0 66.5l4.3 -4.3M523.5 61.4h6.0M526.5 58.4v6.0M524.4 59.3l4.3 4.3M524.4 63.6l4.3 -4.3M525.2 59.0h6.0M528.2 56.0v6.0M526.0 56.8l4.3 4.3M526.0 61.1l4.3 -4.3M526.6 60.8h6.0M529.6 57.8v6.0M527.5 58.6l4.3 4.3M527.5 62.9l4.3 -4.3M527.1 62.4h6.0M530.1 59.4v6.0M527.9 60.2l4.3 4.3M527.9 64.5l4.3 -4.3M528.4 58.9h6.0M531.4 55.9v6.0M529.2 56.8l4.3 4.3M529.2 61.1l4.3 -4.3M530.3 62.2h6.0M533.3 59.2v6.0M531.1 60.1l4.3 4.3M531.1 64.4l4.3 -4.3M531.3 62.5h6.0M534.3 59.5v6.0M532.1 60.4l4.3 4.3M532.1 64.7l4.3 -4.3M532.5 63.4h6.0M535.5 60.4v6.0M533.3 61.3l4.3 4.3M533.3 65.6l4.3 -4.3M534.0 63.1h6.0M537.0 60.1v6.0M534.8 60.9l4.3 4.3M534.8 65.2l4.3 -4.3M535.4 61.9h6.0M538.4 58.9v6.0M536.2 59.8l4.3 4.3M536.2 64.1l4.3 -4.3M536.0 58.4h6.0M539.0 55.4v6.0M536.9 56.2l4.3 4.3M536.9 60.5l4.3 -4.3M538.1 61.9h6.0M541.1 58.9v6.0M538.9 59.7l4.3 4.3M538.9 64.0l4.3 -4.3M539.4 63.2h6.0M542.4 60.2v6.0M540.2 61.0l4.3 4.3M540.2 65.3l4.3 -4.3M540.1 62.5h6.0M543.1 59.5v6.0M541.0 60.3l4.3 4.3M541.0 64.6l4.3 -4.3M541.5 61.9h6.0M544.5 58.9v6.0M542.3 59.7l4.3 4.3M542.3 64.0l4.3 -4.3M542.6 64.2h6.0M545.6 61.2v6.0M543.4 62.1l4.3 4.3M543.4 66.4l4.3 -4.3M544.1 61.3h6.0M547.1 58.3v6.0M545.0 59.2l4.3 4.3M545.0 63.5l4.3 -4.3M545.1 60.4h6.0M548.1 57.4v6.0M545.9 58.3l4.3 4.3M545.9 62.6l4.3 -4.3M546.6 61.0h6.0M549.6 58.0v6.0M547.5 58.9l4.3 4.3M547.5 63.2l4.3 -4.3M548.2 60.6h6.0M551.2 57.6v6.0M549.1 58.4l4.3 4.3M549.1 62.7l4.3 -4.3M549.1 63.6h6.0M552.1 60.6v6.0M550.0 61.4l4.3 4.3M550.0 65.7l4.3 -4.3M550.7 64.2h6.0M553.7 61.2v6.0M551.5 62.0l4.3 4.3M551.5 66.4l4.3 -4.3M551.4 59.5h6.0M554.4 56.5v6.0M552.2 57.3l4.3 4.3M552.2 61.7l4.3 -4.3M553.3 59.8h6.0M556.3 56.8v6.0M554.1 57.6l4.3 4.3M554.1 62.0l4.3 -4.3M553.9 64.0h6.0M556.9 61.0v6.0M554.7 61.8l4.3 4.3M554.7 66.1l4.3 -4.3M555.3 61.2h6.0M558.3 58.2v6.0M556.1 59.0l4.3 4.3M556.1 63.4l4.3 -4.3M557.0 61.5h6.0M560.0 58.5v6.0M557.8 59.3l4.3 4.3M557.8 63.6l4.3 -4.3M557.9 60.7h6.0M560.9 57.7v6.0M558.7 58.5l4.3 4.3M558.7 62.8l4.3 -4.3M559.0 61.2h6.0M562.0 58.2v6.0M559.8 59.0l4.3 4.3M559.8 63.4l4.3 -4.3M560.2 62.3h6.0M563.2 59.3v6.0M561.1 60.2l4.3 4.3M561.1 64.5l4.3 -4.3M562.1 61.2h6.0M565.1 58.2v6.0M563.0 59.1l4.3 4.3M563.0 63.4l4.3 -4.3M562.7 61.3h6.0M565.7 58.3v6.0M563.6 59.1l4.3 4.3M563.6 63.4l4.3 -4.3M564.0 61.6h6.0M567.0 58.6v6.0M564.9 59.4l4.3 4.3M564.9 63.8l4.3 -4.3M566.1 64.4h6.0M569.1 61.4v6.0M566.9 62.3l4.3 4.3M566.9 66.6l4.3 -4.3M567.2 66.3h6.0M570.2 63.3v6.0M568.1 64.1l4.3 4.3M568.1 68.4l4.3 -4.3M568.1 62.8h6.0M571.1 59.8v6.0M569.0 60.6l4.3 4.3M569.0 64.9l4.3 -4.3M569.3 64.1h6.0M572.3 61.1v6.0M570.1 61.9l4.3 4.3M570.1 66.3l4.3 -4.3M571.1 61.1h6.0M574.1 58.1v6.0M572.0 59.0l4.3 4.3M572.0 63.3l4.3 -4.3M572.3 60.4h6.0M575.3 57.4v6.0M573.2 58.2l4.3 4.3M573.2 62.6l4.3 -4.3M573.5 61.1h6.0M576.5 58.1v6.0M574.3 58.9l4.3 4.3M574.3 63.3l4.3 -4.3M574.7 62.1h6.0M577.7 59.1v6.0M575.5 59.9l4.3 4.3M575.5 64.3l4.3 -4.3M575.9 61.4h6.0M578.9 58.4v6.0M576.8 59.2l4.3 4.3M576.8 63.6l4.3 -4.3M577.6 59.7h6.0M580.6 56.7v6.0M578.4 57.5l4.3 4.3M578.4 61.8l4.3 -4.3M578.5 62.7h6.0M581.5 59.7v6.0M579.3 60.5l4.3 4.3M579.3 64.8l4.3 -4.3M579.4 60.1h6.0M582.4 57.1v6.0M580.2 57.9l4.3 4.3M580.2 62.2l4.3 -4.3M580.6 60.4h6.0M583.6 57.4v6.0M581.5 58.2l4.3 4.3M581.5 62.6l4.3 -4.3M582.4 61.1h6.0M585.4 58.1v6.0M583.2 58.9l4.3 4.3M583.2 63.3l4.3 -4.3M583.8 59.2h6.0M586.8 56.2v6.0M584.6 57.1l4.3 4.3M584.6 61.4l4.3 -4.3M584.9 62.7h6.0M587.9 59.7v6.0M585.8 60.5l4.3 4.3M585.8 64.8l4.3 -4.3M586.3 60.0h6.0M589.3 57.0v6.0M587.2 57.9l4.3 4.3M587.2 62.2l4.3 -4.3M587.2 63.0h6.0M590.2 60.0v6.0M588.0 60.8l4.3 4.3M588.0 65.1l4.3 -4.3M588.5 62.7h6.0M591.5 59.7v6.0M589.4 60.6l4.3 4.3M589.4 64.9l4.3 -4.3M589.7 63.2h6.0M592.7 60.2v6.0M590.5 61.0l4.3 4.3M590.5 65.4l4.3 -4.3M591.1 60.8h6.0M594.1 57.8v6.0M591.9 58.7l4.3 4.3M591.9 63.0l4.3 -4.3M592.3 63.0h6.0M595.3 60.0v6.0M593.1 60.8l4.3 4.3M593.1 65.2l4.3 -4.3M594.0 61.4h6.0M597.0 58.4v6.0M594.9 59.3l4.3 4.3M594.9 63.6l4.3 -4.3M594.7 63.3h6.0M597.7 60.3v6.0M595.5 61.2l4.3 4.3M595.5 65.5l4.3 -4.3M596.0 59.8h6.0M599.0 56.8v6.0M596.9 57.7l4.3 4.3M596.9 62.0l4.3 -4.3M597.8 58.6h6.0M600.8 55.6v6.0M598.6 56.5l4.3 4.3M598.6 60.8l4.3 -4.3M598.7 61.2h6.0M601.7 58.2v6.0M599.6 59.0l4.3 4.3M599.6 63.3l4.3 -4.3M600.0 58.9h6.0M603.0 55.9v6.0M600.8 56.8l4.3 4.3M600.8 61.1l4.3 -4.3M601.8 60.6h6.0M604.8 57.6v6.0M602.6 58.5l4.3 4.3M602.6 62.8l4.3 -4.3M603.0 58.1h6.0M606.0 55.1v6.0M603.9 55.9l4.3 4.3M603.9 60.3l4.3 -4.3M603.7 61.4h6.0M606.7 58.4v6.0M604.5 59.2l4.3 4.3M604.5 63.5l4.3 -4.3M604.9 64.0h6.0M607.9 61.0v6.0M605.7 61.8l4.3 4.3M605.7 66.2l4.3 -4.3M606.5 59.2h6.0M609.5 56.2v6.0M607.3 57.0l4.3 4.3M607.3 61.3l4.3 -4.3M607.8 61.7h6.0M610.8 58.7v6.0M608.7 59.6l4.3 4.3M608.7 63.9l4.3 -4.3M608.9 63.2h6.0M611.9 60.2v6.0M609.7 61.0l4.3 4.3M609.7 65.3l4.3 -4.3M610.4 62.6h6.0M613.4 59.6v6.0M611.2 60.4l4.3 4.3M611.2 64.7l4.3 -4.3M611.7 64.1h6.0M614.7 61.1v6.0M612.6 61.9l4.3 4.3M612.6 66.3l4.3 -4.3M613.1 61.8h6.0M616.1 58.8v6.0M614.0 59.6l4.3 4.3M614.0 64.0l4.3 -4.3M613.9 63.2h6.0M616.9 60.2v6.0M614.7 61.1l4.3 4.3M614.7 65.4l4.3 -4.3M615.5 59.2h6.0M618.5 56.2v6.0M616.4 57.0l4.3 4.3M616.4 61.3l4.3 -4.3M616.3 60.5h6.0M619.3 57.5v6.0M617.1 58.3l4.3 4.3M617.1 62.6l4.3 -4.3M617.6 64.1h6.0M620.6 61.1v6.0M618.4 62.0l4.3 4.3M618.4 66.3l4.3 -4.3M618.8 63.9h6.0M621.8 60.9v6.0M619.7 61.8l4.3 4.3M619.7 66.1l4.3 -4.3" fill="none" stroke="#ee3124" stroke-width="1.3"/>
<rect x="66.0" y="9.2" width="557.50" height="296.20" fill="none" stroke="#404040" stroke-width="1.6"/>
<path d="M145.64 305.40v-6.0M145.64 9.20v6.0M225.29 305.40v-6.0M225.29 9.20v6.0M304.93 305.40v-6.0M304.93 9.20v6.0M384.57 305.40v-6.0M384.57 9.20v6.0M464.21 305.40v-6.0M464.21 9.20v6.0M543.86 305.40v-6.0M543.86 9.20v6.0M66.00 272.49h6.0M623.50 272.49h-6.0M66.00 239.58h6.0M623.50 239.58h-6.0M66.00 206.67h6.0M623.50 206.67h-6.0M66.00 173.76h6.0M623.50 173.76h-6.0M66.00 140.84h6.0M623.50 140.84h-6.0M66.00 107.93h6.0M623.50 107.93h-6.0M66.00 75.02h6.0M623.50 75.02h-6.0M66.00 42.11h6.0M623.50 42.11h-6.0" stroke="#404040" stroke-width="1.6" fill="none"/>
<text x="27.87" y="9.80" font-size="13.04" font-weight="normal" textLength="29.68" lengthAdjust="spacingAndGlyphs" fill="#000" stroke="#000" stroke-width="0.4">4.5</text>
<text x="44.18" y="43.54" font-size="13.04" font-weight="normal" textLength="11.67" lengthAdjust="spacingAndGlyphs" fill="#000" stroke="#000" stroke-width="0.4">4</text>
<text x="27.43" y="77.28" font-size="13.04" font-weight="normal" textLength="30.14" lengthAdjust="spacingAndGlyphs" fill="#000" stroke="#000" stroke-width="0.4">3.5</text>
<text x="43.71" y="111.02" font-size="13.04" font-weight="normal" textLength="12.41" lengthAdjust="spacingAndGlyphs" fill="#000" stroke="#000" stroke-width="0.4">3</text>
<text x="27.21" y="144.76" font-size="13.04" font-weight="normal" textLength="30.37" lengthAdjust="spacingAndGlyphs" fill="#000" stroke="#000" stroke-width="0.4">2.5</text>
<text x="43.44" y="178.50" font-size="13.04" font-weight="normal" textLength="12.96" lengthAdjust="spacingAndGlyphs" fill="#000" stroke="#000" stroke-width="0.4">2</text>
<text x="26.63" y="212.24" font-size="13.04" font-weight="normal" textLength="30.97" lengthAdjust="spacingAndGlyphs" fill="#000" stroke="#000" stroke-width="0.4">1.5</text>
<text x="43.64" y="245.98" font-size="13.04" font-weight="normal" textLength="12.27" lengthAdjust="spacingAndGlyphs" fill="#000" stroke="#000" stroke-width="0.4">1</text>
<text x="27.43" y="279.72" font-size="13.04" font-weight="normal" textLength="30.14" lengthAdjust="spacingAndGlyphs" fill="#000" stroke="#000" stroke-width="0.4">0.5</text>
<text x="43.72" y="313.46" font-size="13.04" font-weight="normal" textLength="12.28" lengthAdjust="spacingAndGlyphs" fill="#000" stroke="#000" stroke-width="0.4">0</text>
<text x="56.20" y="324.90" font-size="20.50" font-weight="normal" textLength="15.88" lengthAdjust="spacingAndGlyphs" fill="#000">-2</text>
<text x="139.51" y="324.90" font-size="20.50" font-weight="normal" textLength="11.40" lengthAdjust="spacingAndGlyphs" fill="#000">0</text>
<text x="217.61" y="324.90" font-size="20.50" font-weight="normal" textLength="11.40" lengthAdjust="spacingAndGlyphs" fill="#000">2</text>
<text x="295.81" y="324.90" font-size="20.50" font-weight="normal" textLength="11.40" lengthAdjust="spacingAndGlyphs" fill="#000">4</text>
<text x="374.21" y="324.90" font-size="20.50" font-weight="normal" textLength="11.40" lengthAdjust="spacingAndGlyphs" fill="#000">6</text>
<text x="456.86" y="324.90" font-size="20.50" font-weight="normal" textLength="11.40" lengthAdjust="spacingAndGlyphs" fill="#000">8</text>
<text x="530.65" y="324.90" font-size="20.50" font-weight="normal" textLength="20.80" lengthAdjust="spacingAndGlyphs" fill="#000">10</text>
<text x="610.78" y="324.90" font-size="20.50" font-weight="normal" textLength="19.65" lengthAdjust="spacingAndGlyphs" fill="#000">12</text>
<text x="86.60" y="69.00" font-size="32.90" font-weight="normal" textLength="19.56" lengthAdjust="spacingAndGlyphs" fill="#000">A</text>
<text transform="translate(18.10,248.00) rotate(-90)" x="-1.80 12.80 25.11 29.27 42.37 49.78 54.68 65.33 77.40 83.04 89.81 97.90 110.21 122.35 134.50 146.53 158.19 168.65" y="0" font-size="22.50">Relative&#160;frequency</text>
<text x="296.93 312.62 317.17 328.04 334.54 346.96 358.72 369.36 381.12 387.03 392.40" y="347.10" font-size="20.90" font-weight="normal" fill="#000">Distance,&#160;A</text>
<circle cx="400.2" cy="328.1" r="1.9" fill="none" stroke="#000" stroke-width="1.2"/>
<text x="426.83" y="183.30" font-size="24.00" font-weight="normal" textLength="174.16" lengthAdjust="spacingAndGlyphs" fill="#000">Neuraminidase</text>
<text x="503.65" y="221.30" font-size="24.30" font-weight="normal" textLength="81.97" lengthAdjust="spacingAndGlyphs" fill="#000">Carbon</text>
<text x="503.78" y="253.40" font-size="24.30" font-weight="normal" textLength="85.46" lengthAdjust="spacingAndGlyphs" fill="#000">Oxygen</text>
<text x="502.76" y="287.50" font-size="24.30" font-weight="normal" textLength="101.18" lengthAdjust="spacingAndGlyphs" fill="#000">Nitrogen</text>
<path d="M466.2 215.3L472.4 205.0L478.6 215.3Z" fill="none" stroke="#3452b4" stroke-width="2.9" stroke-linejoin="miter"/>
<path d="M466.2 243L472.4 253.3L478.6 243Z" fill="none" stroke="#2c8c34" stroke-width="2.9" stroke-linejoin="miter"/>
<path d="M465.2 280.3h14.4M472.4 273.1v14.4M467.2 275.1l10.4 10.4M467.2 285.5l10.4 -10.4" fill="none" stroke="#ee3124" stroke-width="2.2"/>
<path d="M85.2 640.9a2.5 2.0 0 1 0 5.0 0a2.5 2.0 0 1 0 -5.0 0M87.3 641.5a2.5 2.0 0 1 0 5.0 0a2.5 2.0 0 1 0 -5.0 0M89.0 640.9a2.5 2.0 0 1 0 5.0 0a2.5 2.0 0 1 0 -5.0 0M90.1 639.8a2.5 2.0 0 1 0 5.0 0a2.5 2.0 0 1 0 -5.0 0M92.0 635.4a2.5 2.0 0 1 0 5.0 0a2.5 2.0 0 1 0 -5.0 0M94.5 637.0a2.5 2.0 0 1 0 5.0 0a2.5 2.0 0 1 0 -5.0 0M95.3 638.4a2.5 2.0 0 1 0 5.0 0a2.5 2.0 0 1 0 -5.0 0M98.0 638.6a2.5 2.0 0 1 0 5.0 0a2.5 2.0 0 1 0 -5.0 0M99.8 637.9a2.5 2.0 0 1 0 5.0 0a2.5 2.0 0 1 0 -5.0 0M101.2 631.3a2.5 2.0 0 1 0 5.0 0a2.5 2.0 0 1 0 -5.0 0M102.8 633.3a2.5 2.0 0 1 0 5.0 0a2.5 2.0 0 1 0 -5.0 0M104.6 633.4a2.5 2.0 0 1 0 5.0 0a2.5 2.0 0 1 0 -5.0 0M106.4 633.3a2.5 2.0 0 1 0 5.0 0a2.5 2.0 0 1 0 -5.0 0M108.4 633.8a2.5 2.0 0 1 0 5.0 0a2.5 2.0 0 1 0 -5.0 0M110.2 629.8a2.5 2.0 0 1 0 5.0 0a2.5 2.0 0 1 0 -5.0 0M112.1 626.2a2.5 2.0 0 1 0 5.0 0a2.5 2.0 0 1 0 -5.0 0M114.4 627.8a2.5 2.0 0 1 0 5.0 0a2.5 2.0 0 1 0 -5.0 0M116.0 626.1a2.5 2.0 0 1 0 5.0 0a2.5 2.0 0 1 0 -5.0 0M117.6 624.7a2.5 2.0 0 1 0 5.0 0a2.5 2.0 0 1 0 -5.0 0M119.8 621.7a2.5 2.0 0 1 0 5.0 0a2.5 2.0 0 1 0 -5.0 0M120.7 625.9a2.5 2.0 0 1 0 5.0 0a2.5 2.0 0 1 0 -5.0 0M122.4 620.0a2.5 2.0 0 1 0 5.0 0a2.5 2.0 0 1 0 -5.0 0M124.8 619.4a2.5 2.0 0 1 0 5.0 0a2.5 2.0 0 1 0 -5.0 0M125.9 611.6a2.5 2.0 0 1 0 5.0 0a2.5 2.0 0 1 0 -5.0 0M127.7 614.8a2.5 2.0 0 1 0 5.0 0a2.5 2.0 0 1 0 -5.0 0M130.0 605.2a2.5 2.0 0 1 0 5.0 0a2.5 2.0 0 1 0 -5.0 0M131.8 597.7a2.5 2.0 0 1 0 5.0 0a2.5 2.0 0 1 0 -5.0 0M134.1 600.5a2.5 2.0 0 1 0 5.0 0a2.5 2.0 0 1 0 -5.0 0M135.6 598.4a2.5 2.0 0 1 0 5.0 0a2.5 2.0 0 1 0 -5.0 0M137.2 591.0a2.5 2.0 0 1 0 5.0 0a2.5 2.0 0 1 0 -5.0 0M139.0 587.3a2.5 2.0 0 1 0 5.0 0a2.5 2.0 0 1 0 -5.0 0M140.5 587.6a2.5 2.0 0 1 0 5.0 0a2.5 2.0 0 1 0 -5.0 0M142.0 577.0a2.5 2.0 0 1 0 5.0 0a2.5 2.0 0 1 0 -5.0 0M144.0 564.3a2.5 2.0 0 1 0 5.0 0a2.5 2.0 0 1 0 -5.0 0M146.4 566.6a2.5 2.0 0 1 0 5.0 0a2.5 2.0 0 1 0 -5.0 0M147.6 562.4a2.5 2.0 0 1 0 5.0 0a2.5 2.0 0 1 0 -5.0 0M149.6 559.3a2.5 2.0 0 1 0 5.0 0a2.5 2.0 0 1 0 -5.0 0M151.0 548.7a2.5 2.0 0 1 0 5.0 0a2.5 2.0 0 1 0 -5.0 0M153.8 546.0a2.5 2.0 0 1 0 5.0 0a2.5 2.0 0 1 0 -5.0 0M154.8 542.0a2.5 2.0 0 1 0 5.0 0a2.5 2.0 0 1 0 -5.0 0M156.7 525.0a2.5 2.0 0 1 0 5.0 0a2.5 2.0 0 1 0 -5.0 0M159.2 525.8a2.5 2.0 0 1 0 5.0 0a2.5 2.0 0 1 0 -5.0 0M160.6 512.4a2.5 2.0 0 1 0 5.0 0a2.5 2.0 0 1 0 -5.0 0M162.8 502.8a2.5 2.0 0 1 0 5.0 0a2.5 2.0 0 1 0 -5.0 0M164.3 502.7a2.5 2.0 0 1 0 5.0 0a2.5 2.0 0 1 0 -5.0 0M166.3 494.5a2.5 2.0 0 1 0 5.0 0a2.5 2.0 0 1 0 -5.0 0M167.3 484.7a2.5 2.0 0 1 0 5.0 0a2.5 2.0 0 1 0 -5.0 0M169.6 485.6a2.5 2.0 0 1 0 5.0 0a2.5 2.0 0 1 0 -5.0 0M171.4 481.1a2.5 2.0 0 1 0 5.0 0a2.5 2.0 0 1 0 -5.0 0M173.6 476.7a2.5 2.0 0 1 0 5.0 0a2.5 2.0 0 1 0 -5.0 0M174.8 466.7a2.5 2.0 0 1 0 5.0 0a2.5 2.0 0 1 0 -5.0 0M176.9 453.9a2.5 2.0 0 1 0 5.0 0a2.5 2.0 0 1 0 -5.0 0M178.0 452.6a2.5 2.0 0 1 0 5.0 0a2.5 2.0 0 1 0 -5.0 0M180.2 454.1a2.5 2.0 0 1 0 5.0 0a2.5 2.0 0 1 0 -5.0 0M181.9 448.6a2.5 2.0 0 1 0 5.0 0a2.5 2.0 0 1 0 -5.0 0M183.5 442.4a2.5 2.0 0 1 0 5.0 0a2.5 2.0 0 1 0 -5.0 0M186.1 431.6a2.5 2.0 0 1 0 5.0 0a2.5 2.0 0 1 0 -5.0 0M187.4 430.3a2.5 2.0 0 1 0 5.0 0a2.5 2.0 0 1 0 -5.0 0M189.9 422.0a2.5 2.0 0 1 0 5.0 0a2.5 2.0 0 1 0 -5.0 0M191.3 418.4a2.5 2.0 0 1 0 5.0 0a2.5 2.0 0 1 0 -5.0 0M193.1 416.9a2.5 2.0 0 1 0 5.0 0a2.5 2.0 0 1 0 -5.0 0M194.9 411.8a2.5 2.0 0 1 0 5.0 0a2.5 2.0 0 1 0 -5.0 0M196.7 407.0a2.5 2.0 0 1 0 5.0 0a2.5 2.0 0 1 0 -5.0 0M197.9 406.0a2.5 2.0 0 1 0 5.0 0a2.5 2.0 0 1 0 -5.0 0M200.1 399.7a2.5 2.0 0 1 0 5.0 0a2.5 2.0 0 1 0 -5.0 0M201.6 391.2a2.5 2.0 0 1 0 5.0 0a2.5 2.0 0 1 0 -5.0 0M203.6 393.9a2.5 2.0 0 1 0 5.0 0a2.5 2.0 0 1 0 -5.0 0M205.0 394.4a2.5 2.0 0 1 0 5.0 0a2.5 2.0 0 1 0 -5.0 0M207.9 398.8a2.5 2.0 0 1 0 5.0 0a2.5 2.0 0 1 0 -5.0 0M208.8 388.9a2.5 2.0 0 1 0 5.0 0a2.5 2.0 0 1 0 -5.0 0M211.1 397.2a2.5 2.0 0 1 0 5.0 0a2.5 2.0 0 1 0 -5.0 0M212.5 394.1a2.5 2.0 0 1 0 5.0 0a2.5 2.0 0 1 0 -5.0 0M215.0 383.0a2.5 2.0 0 1 0 5.0 0a2.5 2.0 0 1 0 -5.0 0M216.5 383.2a2.5 2.0 0 1 0 5.0 0a2.5 2.0 0 1 0 -5.0 0M217.7 386.6a2.5 2.0 0 1 0 5.0 0a2.5 2.0 0 1 0 -5.0 0M220.3 393.1a2.5 2.0 0 1 0 5.0 0a2.5 2.0 0 1 0 -5.0 0M222.2 387.3a2.5 2.0 0 1 0 5.0 0a2.5 2.0 0 1 0 -5.0 0M224.0 388.8a2.5 2.0 0 1 0 5.0 0a2.5 2.0 0 1 0 -5.0 0M225.4 383.3a2.5 2.0 0 1 0 5.0 0a2.5 2.0 0 1 0 -5.0 0M226.7 376.6a2.5 2.0 0 1 0 5.0 0a2.5 2.0 0 1 0 -5.0 0M228.5 386.1a2.5 2.0 0 1 0 5.0 0a2.5 2.0 0 1 0 -5.0 0M231.2 391.5a2.5 2.0 0 1 0 5.0 0a2.5 2.0 0 1 0 -5.0 0M232.6 393.8a2.5 2.0 0 1 0 5.0 0a2.5 2.0 0 1 0 -5.0 0M233.9 389.7a2.5 2.0 0 1 0 5.0 0a2.5 2.0 0 1 0 -5.0 0M236.5 391.8a2.5 2.0 0 1 0 5.0 0a2.5 2.0 0 1 0 -5.0 0M238.1 397.0a2.5 2.0 0 1 0 5.0 0a2.5 2.0 0 1 0 -5.0 0M239.8 392.6a2.5 2.0 0 1 0 5.0 0a2.5 2.0 0 1 0 -5.0 0M241.3 399.2a2.5 2.0 0 1 0 5.0 0a2.5 2.0 0 1 0 -5.0 0M243.2 390.7a2.5 2.0 0 1 0 5.0 0a2.5 2.0 0 1 0 -5.0 0M244.8 392.0a2.5 2.0 0 1 0 5.0 0a2.5 2.0 0 1 0 -5.0 0M246.3 393.0a2.5 2.0 0 1 0 5.0 0a2.5 2.0 0 1 0 -5.0 0M249.1 401.8a2.5 2.0 0 1 0 5.0 0a2.5 2.0 0 1 0 -5.0 0M250.4 398.4a2.5 2.0 0 1 0 5.0 0a2.5 2.0 0 1 0 -5.0 0M252.3 402.4a2.5 2.0 0 1 0 5.0 0a2.5 2.0 0 1 0 -5.0 0M253.9 404.5a2.5 2.0 0 1 0 5.0 0a2.5 2.0 0 1 0 -5.0 0M256.2 405.5a2.5 2.0 0 1 0 5.0 0a2.5 2.0 0 1 0 -5.0 0M257.1 406.9a2.5 2.0 0 1 0 5.0 0a2.5 2.0 0 1 0 -5.0 0M259.3 408.2a2.5 2.0 0 1 0 5.0 0a2.5 2.0 0 1 0 -5.0 0M260.7 404.6a2.5 2.0 0 1 0 5.0 0a2.5 2.0 0 1 0 -5.0 0M262.6 407.1a2.5 2.0 0 1 0 5.0 0a2.5 2.0 0 1 0 -5.0 0M265.4 408.3a2.5 2.0 0 1 0 5.0 0a2.5 2.0 0 1 0 -5.0 0M266.8 407.2a2.5 2.0 0 1 0 5.0 0a2.5 2.0 0 1 0 -5.0 0M268.4 412.7a2.5 2.0 0 1 0 5.0 0a2.5 2.0 0 1 0 -5.0 0M270.3 411.3a2.5 2.0 0 1 0 5.0 0a2.5 2.0 0 1 0 -5.0 0M272.5 410.0a2.5 2.0 0 1 0 5.0 0a2.5 2.0 0 1 0 -5.0 0M273.7 409.8a2.5 2.0 0 1 0 5.0 0a2.5 2.0 0 1 0 -5.0 0M275.7 411.6a2.5 2.0 0 1 0 5.0 0a2.5 2.0 0 1 0 -5.0 0M277.7 409.2a2.5 2.0 0 1 0 5.0 0a2.5 2.0 0 1 0 -5.0 0M279.1 410.9a2.5 2.0 0 1 0 5.0 0a2.5 2.0 0 1 0 -5.0 0M281.1 413.9a2.5 2.0 0 1 0 5.0 0a2.5 2.0 0 1 0 -5.0 0M283.1 413.5a2.5 2.0 0 1 0 5.0 0a2.5 2.0 0 1 0 -5.0 0M285.1 410.5a2.5 2.0 0 1 0 5.0 0a2.5 2.0 0 1 0 -5.0 0M286.0 411.2a2.5 2.0 0 1 0 5.0 0a2.5 2.0 0 1 0 -5.0 0M288.7 415.8a2.5 2.0 0 1 0 5.0 0a2.5 2.0 0 1 0 -5.0 0M289.4 409.7a2.5 2.0 0 1 0 5.0 0a2.5 2.0 0 1 0 -5.0 0M292.1 411.3a2.5 2.0 0 1 0 5.0 0a2.5 2.0 0 1 0 -5.0 0M294.0 409.9a2.5 2.0 0 1 0 5.0 0a2.5 2.0 0 1 0 -5.0 0M295.0 413.1a2.5 2.0 0 1 0 5.0 0a2.5 2.0 0 1 0 -5.0 0M297.1 413.0a2.5 2.0 0 1 0 5.0 0a2.5 2.0 0 1 0 -5.0 0M299.4 414.4a2.5 2.0 0 1 0 5.0 0a2.5 2.0 0 1 0 -5.0 0M300.2 407.5a2.5 2.0 0 1 0 5.0 0a2.5 2.0 0 1 0 -5.0 0M302.8 412.4a2.5 2.0 0 1 0 5.0 0a2.5 2.0 0 1 0 -5.0 0M304.8 408.9a2.5 2.0 0 1 0 5.0 0a2.5 2.0 0 1 0 -5.0 0M306.2 413.0a2.5 2.0 0 1 0 5.0 0a2.5 2.0 0 1 0 -5.0 0M308.3 411.2a2.5 2.0 0 1 0 5.0 0a2.5 2.0 0 1 0 -5.0 0M309.5 414.5a2.5 2.0 0 1 0 5.0 0a2.5 2.0 0 1 0 -5.0 0M311.2 411.9a2.5 2.0 0 1 0 5.0 0a2.5 2.0 0 1 0 -5.0 0M313.2 409.0a2.5 2.0 0 1 0 5.0 0a2.5 2.0 0 1 0 -5.0 0M314.8 413.0a2.5 2.0 0 1 0 5.0 0a2.5 2.0 0 1 0 -5.0 0M316.8 408.3a2.5 2.0 0 1 0 5.0 0a2.5 2.0 0 1 0 -5.0 0M319.3 409.2a2.5 2.0 0 1 0 5.0 0a2.5 2.0 0 1 0 -5.0 0M320.7 411.6a2.5 2.0 0 1 0 5.0 0a2.5 2.0 0 1 0 -5.0 0M322.2 410.3a2.5 2.0 0 1 0 5.0 0a2.5 2.0 0 1 0 -5.0 0M323.9 409.9a2.5 2.0 0 1 0 5.0 0a2.5 2.0 0 1 0 -5.0 0M326.5 408.7a2.5 2.0 0 1 0 5.0 0a2.5 2.0 0 1 0 -5.0 0M327.7 409.5a2.5 2.0 0 1 0 5.0 0a2.5 2.0 0 1 0 -5.0 0M330.1 409.6a2.5 2.0 0 1 0 5.0 0a2.5 2.0 0 1 0 -5.0 0M331.4 408.5a2.5 2.0 0 1 0 5.0 0a2.5 2.0 0 1 0 -5.0 0M333.2 409.6a2.5 2.0 0 1 0 5.0 0a2.5 2.0 0 1 0 -5.0 0M335.4 409.8a2.5 2.0 0 1 0 5.0 0a2.5 2.0 0 1 0 -5.0 0M337.1 407.2a2.5 2.0 0 1 0 5.0 0a2.5 2.0 0 1 0 -5.0 0M338.7 405.3a2.5 2.0 0 1 0 5.0 0a2.5 2.0 0 1 0 -5.0 0M340.3 409.6a2.5 2.0 0 1 0 5.0 0a2.5 2.0 0 1 0 -5.0 0M342.6 406.5a2.5 2.0 0 1 0 5.0 0a2.5 2.0 0 1 0 -5.0 0M343.8 407.6a2.5 2.0 0 1 0 5.0 0a2.5 2.0 0 1 0 -5.0 0M346.3 408.0a2.5 2.0 0 1 0 5.0 0a2.5 2.0 0 1 0 -5.0 0M347.0 404.5a2.5 2.0 0 1 0 5.0 0a2.5 2.0 0 1 0 -5.0 0M349.3 406.9a2.5 2.0 0 1 0 5.0 0a2.5 2.0 0 1 0 -5.0 0M351.2 403.0a2.5 2.0 0 1 0 5.0 0a2.5 2.0 0 1 0 -5.0 0M353.5 407.2a2.5 2.0 0 1 0 5.0 0a2.5 2.0 0 1 0 -5.0 0M354.4 404.9a2.5 2.0 0 1 0 5.0 0a2.5 2.0 0 1 0 -5.0 0M356.9 406.0a2.5 2.0 0 1 0 5.0 0a2.5 2.0 0 1 0 -5.0 0M358.5 407.0a2.5 2.0 0 1 0 5.0 0a2.5 2.0 0 1 0 -5.0 0M360.4 404.4a2.5 2.0 0 1 0 5.0 0a2.5 2.0 0 1 0 -5.0 0M362.1 405.8a2.5 2.0 0 1 0 5.0 0a2.5 2.0 0 1 0 -5.0 0M364.3 404.4a2.5 2.0 0 1 0 5.0 0a2.5 2.0 0 1 0 -5.0 0M365.3 405.6a2.5 2.0 0 1 0 5.0 0a2.5 2.0 0 1 0 -5.0 0M367.2 407.6a2.5 2.0 0 1 0 5.0 0a2.5 2.0 0 1 0 -5.0 0M368.8 405.8a2.5 2.0 0 1 0 5.0 0a2.5 2.0 0 1 0 -5.0 0M370.4 405.5a2.5 2.0 0 1 0 5.0 0a2.5 2.0 0 1 0 -5.0 0M372.4 403.9a2.5 2.0 0 1 0 5.0 0a2.5 2.0 0 1 0 -5.0 0M375.0 407.5a2.5 2.0 0 1 0 5.0 0a2.5 2.0 0 1 0 -5.0 0M376.7 405.9a2.5 2.0 0 1 0 5.0 0a2.5 2.0 0 1 0 -5.0 0M377.6 409.1a2.5 2.0 0 1 0 5.0 0a2.5 2.0 0 1 0 -5.0 0M380.0 404.8a2.5 2.0 0 1 0 5.0 0a2.5 2.0 0 1 0 -5.0 0M381.7 408.1a2.5 2.0 0 1 0 5.0 0a2.5 2.0 0 1 0 -5.0 0M383.6 409.6a2.5 2.0 0 1 0 5.0 0a2.5 2.0 0 1 0 -5.0 0M385.5 406.5a2.5 2.0 0 1 0 5.0 0a2.5 2.0 0 1 0 -5.0 0M386.9 404.4a2.5 2.0 0 1 0 5.0 0a2.5 2.0 0 1 0 -5.0 0M389.4 409.5a2.5 2.0 0 1 0 5.0 0a2.5 2.0 0 1 0 -5.0 0M390.7 408.7a2.5 2.0 0 1 0 5.0 0a2.5 2.0 0 1 0 -5.0 0M392.6 408.2a2.5 2.0 0 1 0 5.0 0a2.5 2.0 0 1 0 -5.0 0M394.5 409.1a2.5 2.0 0 1 0 5.0 0a2.5 2.0 0 1 0 -5.0 0M395.7 406.3a2.5 2.0 0 1 0 5.0 0a2.5 2.0 0 1 0 -5.0 0M397.4 408.6a2.5 2.0 0 1 0 5.0 0a2.5 2.0 0 1 0 -5.0 0M399.6 408.6a2.5 2.0 0 1 0 5.0 0a2.5 2.0 0 1 0 -5.0 0M401.8 406.3a2.5 2.0 0 1 0 5.0 0a2.5 2.0 0 1 0 -5.0 0M403.7 408.9a2.5 2.0 0 1 0 5.0 0a2.5 2.0 0 1 0 -5.0 0M405.4 406.8a2.5 2.0 0 1 0 5.0 0a2.5 2.0 0 1 0 -5.0 0M406.4 409.5a2.5 2.0 0 1 0 5.0 0a2.5 2.0 0 1 0 -5.0 0M409.2 410.1a2.5 2.0 0 1 0 5.0 0a2.5 2.0 0 1 0 -5.0 0M410.8 411.4a2.5 2.0 0 1 0 5.0 0a2.5 2.0 0 1 0 -5.0 0M412.7 404.5a2.5 2.0 0 1 0 5.0 0a2.5 2.0 0 1 0 -5.0 0M414.1 408.6a2.5 2.0 0 1 0 5.0 0a2.5 2.0 0 1 0 -5.0 0M416.4 407.7a2.5 2.0 0 1 0 5.0 0a2.5 2.0 0 1 0 -5.0 0M417.1 408.2a2.5 2.0 0 1 0 5.0 0a2.5 2.0 0 1 0 -5.0 0M418.9 407.9a2.5 2.0 0 1 0 5.0 0a2.5 2.0 0 1 0 -5.0 0M420.7 408.2a2.5 2.0 0 1 0 5.0 0a2.5 2.0 0 1 0 -5.0 0M422.8 404.8a2.5 2.0 0 1 0 5.0 0a2.5 2.0 0 1 0 -5.0 0M424.5 410.4a2.5 2.0 0 1 0 5.0 0a2.5 2.0 0 1 0 -5.0 0M426.3 411.4a2.5 2.0 0 1 0 5.0 0a2.5 2.0 0 1 0 -5.0 0M428.5 410.4a2.5 2.0 0 1 0 5.0 0a2.5 2.0 0 1 0 -5.0 0M429.7 411.1a2.5 2.0 0 1 0 5.0 0a2.5 2.0 0 1 0 -5.0 0M432.1 407.2a2.5 2.0 0 1 0 5.0 0a2.5 2.0 0 1 0 -5.0 0M433.4 407.1a2.5 2.0 0 1 0 5.0 0a2.5 2.0 0 1 0 -5.0 0M435.8 410.5a2.5 2.0 0 1 0 5.0 0a2.5 2.0 0 1 0 -5.0 0M436.9 411.3a2.5 2.0 0 1 0 5.0 0a2.5 2.0 0 1 0 -5.0 0M439.0 409.4a2.5 2.0 0 1 0 5.0 0a2.5 2.0 0 1 0 -5.0 0M441.6 406.1a2.5 2.0 0 1 0 5.0 0a2.5 2.0 0 1 0 -5.0 0M442.9 414.0a2.5 2.0 0 1 0 5.0 0a2.5 2.0 0 1 0 -5.0 0M445.0 407.8a2.5 2.0 0 1 0 5.0 0a2.5 2.0 0 1 0 -5.0 0M446.6 410.8a2.5 2.0 0 1 0 5.0 0a2.5 2.0 0 1 0 -5.0 0M448.4 406.8a2.5 2.0 0 1 0 5.0 0a2.5 2.0 0 1 0 -5.0 0M449.6 410.8a2.5 2.0 0 1 0 5.0 0a2.5 2.0 0 1 0 -5.0 0M451.9 409.3a2.5 2.0 0 1 0 5.0 0a2.5 2.0 0 1 0 -5.0 0M453.1 411.6a2.5 2.0 0 1 0 5.0 0a2.5 2.0 0 1 0 -5.0 0M455.8 410.6a2.5 2.0 0 1 0 5.0 0a2.5 2.0 0 1 0 -5.0 0M457.8 406.2a2.5 2.0 0 1 0 5.0 0a2.5 2.0 0 1 0 -5.0 0M459.4 407.2a2.5 2.0 0 1 0 5.0 0a2.5 2.0 0 1 0 -5.0 0M460.3 409.5a2.5 2.0 0 1 0 5.0 0a2.5 2.0 0 1 0 -5.0 0M462.4 410.4a2.5 2.0 0 1 0 5.0 0a2.5 2.0 0 1 0 -5.0 0M464.2 412.3a2.5 2.0 0 1 0 5.0 0a2.5 2.0 0 1 0 -5.0 0M465.7 409.5a2.5 2.0 0 1 0 5.0 0a2.5 2.0 0 1 0 -5.0 0M468.1 408.8a2.5 2.0 0 1 0 5.0 0a2.5 2.0 0 1 0 -5.0 0M470.2 408.8a2.5 2.0 0 1 0 5.0 0a2.5 2.0 0 1 0 -5.0 0M471.4 408.9a2.5 2.0 0 1 0 5.0 0a2.5 2.0 0 1 0 -5.0 0M473.8 410.8a2.5 2.0 0 1 0 5.0 0a2.5 2.0 0 1 0 -5.0 0M475.5 408.8a2.5 2.0 0 1 0 5.0 0a2.5 2.0 0 1 0 -5.0 0M476.5 408.7a2.5 2.0 0 1 0 5.0 0a2.5 2.0 0 1 0 -5.0 0M479.1 406.2a2.5 2.0 0 1 0 5.0 0a2.5 2.0 0 1 0 -5.0 0M481.0 405.1a2.5 2.0 0 1 0 5.0 0a2.5 2.0 0 1 0 -5.0 0M482.0 408.8a2.5 2.0 0 1 0 5.0 0a2.5 2.0 0 1 0 -5.0 0M484.3 410.0a2.5 2.0 0 1 0 5.0 0a2.5 2.0 0 1 0 -5.0 0M486.1 408.6a2.5 2.0 0 1 0 5.0 0a2.5 2.0 0 1 0 -5.0 0M487.9 409.6a2.5 2.0 0 1 0 5.0 0a2.5 2.0 0 1 0 -5.0 0M489.1 409.9a2.5 2.0 0 1 0 5.0 0a2.5 2.0 0 1 0 -5.0 0M491.6 408.5a2.5 2.0 0 1 0 5.0 0a2.5 2.0 0 1 0 -5.0 0M493.3 410.4a2.5 2.0 0 1 0 5.0 0a2.5 2.0 0 1 0 -5.0 0M495.4 407.2a2.5 2.0 0 1 0 5.0 0a2.5 2.0 0 1 0 -5.0 0M497.1 408.5a2.5 2.0 0 1 0 5.0 0a2.5 2.0 0 1 0 -5.0 0M498.4 407.9a2.5 2.0 0 1 0 5.0 0a2.5 2.0 0 1 0 -5.0 0M500.6 408.7a2.5 2.0 0 1 0 5.0 0a2.5 2.0 0 1 0 -5.0 0M502.6 409.7a2.5 2.0 0 1 0 5.0 0a2.5 2.0 0 1 0 -5.0 0M504.4 410.0a2.5 2.0 0 1 0 5.0 0a2.5 2.0 0 1 0 -5.0 0M505.3 408.7a2.5 2.0 0 1 0 5.0 0a2.5 2.0 0 1 0 -5.0 0M507.0 409.3a2.5 2.0 0 1 0 5.0 0a2.5 2.0 0 1 0 -5.0 0M509.5 407.8a2.5 2.0 0 1 0 5.0 0a2.5 2.0 0 1 0 -5.0 0M510.8 408.2a2.5 2.0 0 1 0 5.0 0a2.5 2.0 0 1 0 -5.0 0M513.0 410.7a2.5 2.0 0 1 0 5.0 0a2.5 2.0 0 1 0 -5.0 0M515.3 408.0a2.5 2.0 0 1 0 5.0 0a2.5 2.0 0 1 0 -5.0 0M516.4 410.7a2.5 2.0 0 1 0 5.0 0a2.5 2.0 0 1 0 -5.0 0M518.0 409.3a2.5 2.0 0 1 0 5.0 0a2.5 2.0 0 1 0 -5.0 0M520.1 408.7a2.5 2.0 0 1 0 5.0 0a2.5 2.0 0 1 0 -5.0 0M522.1 412.0a2.5 2.0 0 1 0 5.0 0a2.5 2.0 0 1 0 -5.0 0M523.2 407.9a2.5 2.0 0 1 0 5.0 0a2.5 2.0 0 1 0 -5.0 0M525.4 407.8a2.5 2.0 0 1 0 5.0 0a2.5 2.0 0 1 0 -5.0 0M526.9 408.4a2.5 2.0 0 1 0 5.0 0a2.5 2.0 0 1 0 -5.0 0M529.3 408.9a2.5 2.0 0 1 0 5.0 0a2.5 2.0 0 1 0 -5.0 0M531.3 408.7a2.5 2.0 0 1 0 5.0 0a2.5 2.0 0 1 0 -5.0 0M532.6 409.9a2.5 2.0 0 1 0 5.0 0a2.5 2.0 0 1 0 -5.0 0M534.4 408.5a2.5 2.0 0 1 0 5.0 0a2.5 2.0 0 1 0 -5.0 0M536.4 409.1a2.5 2.0 0 1 0 5.0 0a2.5 2.0 0 1 0 -5.0 0M537.8 407.8a2.5 2.0 0 1 0 5.0 0a2.5 2.0 0 1 0 -5.0 0M539.6 410.3a2.5 2.0 0 1 0 5.0 0a2.5 2.0 0 1 0 -5.0 0M541.5 407.6a2.5 2.0 0 1 0 5.0 0a2.5 2.0 0 1 0 -5.0 0M543.5 407.7a2.5 2.0 0 1 0 5.0 0a2.5 2.0 0 1 0 -5.0 0M544.8 408.3a2.5 2.0 0 1 0 5.0 0a2.5 2.0 0 1 0 -5.0 0M547.4 408.8a2.5 2.0 0 1 0 5.0 0a2.5 2.0 0 1 0 -5.0 0M549.0 407.0a2.5 2.0 0 1 0 5.0 0a2.5 2.0 0 1 0 -5.0 0M550.5 411.1a2.5 2.0 0 1 0 5.0 0a2.5 2.0 0 1 0 -5.0 0M552.0 407.1a2.5 2.0 0 1 0 5.0 0a2.5 2.0 0 1 0 -5.0 0M554.6 407.5a2.5 2.0 0 1 0 5.0 0a2.5 2.0 0 1 0 -5.0 0M555.6 407.5a2.5 2.0 0 1 0 5.0 0a2.5 2.0 0 1 0 -5.0 0M557.4 407.3a2.5 2.0 0 1 0 5.0 0a2.5 2.0 0 1 0 -5.0 0M559.2 409.2a2.5 2.0 0 1 0 5.0 0a2.5 2.0 0 1 0 -5.0 0M561.0 408.5a2.5 2.0 0 1 0 5.0 0a2.5 2.0 0 1 0 -5.0 0M563.8 406.8a2.5 2.0 0 1 0 5.0 0a2.5 2.0 0 1 0 -5.0 0M564.8 407.2a2.5 2.0 0 1 0 5.0 0a2.5 2.0 0 1 0 -5.0 0M566.6 407.6a2.5 2.0 0 1 0 5.0 0a2.5 2.0 0 1 0 -5.0 0M569.1 410.8a2.5 2.0 0 1 0 5.0 0a2.5 2.0 0 1 0 -5.0 0M570.6 407.0a2.5 2.0 0 1 0 5.0 0a2.5 2.0 0 1 0 -5.0 0M571.9 405.8a2.5 2.0 0 1 0 5.0 0a2.5 2.0 0 1 0 -5.0 0M574.0 406.1a2.5 2.0 0 1 0 5.0 0a2.5 2.0 0 1 0 -5.0 0M576.3 407.6a2.5 2.0 0 1 0 5.0 0a2.5 2.0 0 1 0 -5.0 0M577.5 410.9a2.5 2.0 0 1 0 5.0 0a2.5 2.0 0 1 0 -5.0 0M579.7 406.3a2.5 2.0 0 1 0 5.0 0a2.5 2.0 0 1 0 -5.0 0M580.8 408.3a2.5 2.0 0 1 0 5.0 0a2.5 2.0 0 1 0 -5.0 0M583.3 412.8a2.5 2.0 0 1 0 5.0 0a2.5 2.0 0 1 0 -5.0 0M585.2 407.3a2.5 2.0 0 1 0 5.0 0a2.5 2.0 0 1 0 -5.0 0M587.0 410.9a2.5 2.0 0 1 0 5.0 0a2.5 2.0 0 1 0 -5.0 0M588.7 410.5a2.5 2.0 0 1 0 5.0 0a2.5 2.0 0 1 0 -5.0 0M590.1 409.3a2.5 2.0 0 1 0 5.0 0a2.5 2.0 0 1 0 -5.0 0M591.5 405.7a2.5 2.0 0 1 0 5.0 0a2.5 2.0 0 1 0 -5.0 0M593.9 408.8a2.5 2.0 0 1 0 5.0 0a2.5 2.0 0 1 0 -5.0 0M595.9 407.6a2.5 2.0 0 1 0 5.0 0a2.5 2.0 0 1 0 -5.0 0M597.1 404.8a2.5 2.0 0 1 0 5.0 0a2.5 2.0 0 1 0 -5.0 0M599.0 405.1a2.5 2.0 0 1 0 5.0 0a2.5 2.0 0 1 0 -5.0 0M601.1 408.3a2.5 2.0 0 1 0 5.0 0a2.5 2.0 0 1 0 -5.0 0M603.1 408.6a2.5 2.0 0 1 0 5.0 0a2.5 2.0 0 1 0 -5.0 0M605.1 410.5a2.5 2.0 0 1 0 5.0 0a2.5 2.0 0 1 0 -5.0 0M606.0 409.4a2.5 2.0 0 1 0 5.0 0a2.5 2.0 0 1 0 -5.0 0M607.8 407.3a2.5 2.0 0 1 0 5.0 0a2.5 2.0 0 1 0 -5.0 0M610.4 407.4a2.5 2.0 0 1 0 5.0 0a2.5 2.0 0 1 0 -5.0 0M612.0 408.0a2.5 2.0 0 1 0 5.0 0a2.5 2.0 0 1 0 -5.0 0M613.9 406.3a2.5 2.0 0 1 0 5.0 0a2.5 2.0 0 1 0 -5.0 0M616.0 409.6a2.5 2.0 0 1 0 5.0 0a2.5 2.0 0 1 0 -5.0 0M617.7 408.3a2.5 2.0 0 1 0 5.0 0a2.5 2.0 0 1 0 -5.0 0M619.4 406.8a2.5 2.0 0 1 0 5.0 0a2.5 2.0 0 1 0 -5.0 0M621.1 407.1a2.5 2.0 0 1 0 5.0 0a2.5 2.0 0 1 0 -5.0 0M622.5 406.2a2.5 2.0 0 1 0 5.0 0a2.5 2.0 0 1 0 -5.0 0M77.6 652.3a2.5 2.0 0 1 0 5.0 0a2.5 2.0 0 1 0 -5.0 0M78.6 655.0a2.5 2.0 0 1 0 5.0 0a2.5 2.0 0 1 0 -5.0 0M81.2 652.5a2.5 2.0 0 1 0 5.0 0a2.5 2.0 0 1 0 -5.0 0M82.7 654.4a2.5 2.0 0 1 0 5.0 0a2.5 2.0 0 1 0 -5.0 0M84.7 650.4a2.5 2.0 0 1 0 5.0 0a2.5 2.0 0 1 0 -5.0 0M86.0 648.2a2.5 2.0 0 1 0 5.0 0a2.5 2.0 0 1 0 -5.0 0M87.3 648.5a2.5 2.0 0 1 0 5.0 0a2.5 2.0 0 1 0 -5.0 0M90.0 651.8a2.5 2.0 0 1 0 5.0 0a2.5 2.0 0 1 0 -5.0 0M91.2 650.0a2.5 2.0 0 1 0 5.0 0a2.5 2.0 0 1 0 -5.0 0M92.8 650.7a2.5 2.0 0 1 0 5.0 0a2.5 2.0 0 1 0 -5.0 0M95.4 650.3a2.5 2.0 0 1 0 5.0 0a2.5 2.0 0 1 0 -5.0 0M97.1 647.5a2.5 2.0 0 1 0 5.0 0a2.5 2.0 0 1 0 -5.0 0M98.3 652.1a2.5 2.0 0 1 0 5.0 0a2.5 2.0 0 1 0 -5.0 0M100.2 647.7a2.5 2.0 0 1 0 5.0 0a2.5 2.0 0 1 0 -5.0 0M102.8 649.0a2.5 2.0 0 1 0 5.0 0a2.5 2.0 0 1 0 -5.0 0M103.8 646.3a2.5 2.0 0 1 0 5.0 0a2.5 2.0 0 1 0 -5.0 0M106.1 647.8a2.5 2.0 0 1 0 5.0 0a2.5 2.0 0 1 0 -5.0 0M107.2 649.0a2.5 2.0 0 1 0 5.0 0a2.5 2.0 0 1 0 -5.0 0M109.8 646.6a2.5 2.0 0 1 0 5.0 0a2.5 2.0 0 1 0 -5.0 0M110.8 645.6a2.5 2.0 0 1 0 5.0 0a2.5 2.0 0 1 0 -5.0 0M113.1 646.1a2.5 2.0 0 1 0 5.0 0a2.5 2.0 0 1 0 -5.0 0M114.3 644.9a2.5 2.0 0 1 0 5.0 0a2.5 2.0 0 1 0 -5.0 0M116.7 645.8a2.5 2.0 0 1 0 5.0 0a2.5 2.0 0 1 0 -5.0 0M118.8 647.7a2.5 2.0 0 1 0 5.0 0a2.5 2.0 0 1 0 -5.0 0M119.7 642.2a2.5 2.0 0 1 0 5.0 0a2.5 2.0 0 1 0 -5.0 0M121.8 641.7a2.5 2.0 0 1 0 5.0 0a2.5 2.0 0 1 0 -5.0 0M124.1 641.6a2.5 2.0 0 1 0 5.0 0a2.5 2.0 0 1 0 -5.0 0M125.8 640.9a2.5 2.0 0 1 0 5.0 0a2.5 2.0 0 1 0 -5.0 0M127.2 638.5a2.5 2.0 0 1 0 5.0 0a2.5 2.0 0 1 0 -5.0 0M129.4 639.6a2.5 2.0 0 1 0 5.0 0a2.5 2.0 0 1 0 -5.0 0M131.0 638.9a2.5 2.0 0 1 0 5.0 0a2.5 2.0 0 1 0 -5.0 0M133.2 636.1a2.5 2.0 0 1 0 5.0 0a2.5 2.0 0 1 0 -5.0 0M134.4 632.4a2.5 2.0 0 1 0 5.0 0a2.5 2.0 0 1 0 -5.0 0M136.7 634.8a2.5 2.0 0 1 0 5.0 0a2.5 2.0 0 1 0 -5.0 0M138.4 626.6a2.5 2.0 0 1 0 5.0 0a2.5 2.0 0 1 0 -5.0 0M140.3 628.3a2.5 2.0 0 1 0 5.0 0a2.5 2.0 0 1 0 -5.0 0M141.7 627.4a2.5 2.0 0 1 0 5.0 0a2.5 2.0 0 1 0 -5.0 0M143.9 616.1a2.5 2.0 0 1 0 5.0 0a2.5 2.0 0 1 0 -5.0 0M145.6 616.9a2.5 2.0 0 1 0 5.0 0a2.5 2.0 0 1 0 -5.0 0M147.1 618.1a2.5 2.0 0 1 0 5.0 0a2.5 2.0 0 1 0 -5.0 0M148.4 612.0a2.5 2.0 0 1 0 5.0 0a2.5 2.0 0 1 0 -5.0 0M151.3 601.2a2.5 2.0 0 1 0 5.0 0a2.5 2.0 0 1 0 -5.0 0M152.8 596.9a2.5 2.0 0 1 0 5.0 0a2.5 2.0 0 1 0 -5.0 0M154.0 599.5a2.5 2.0 0 1 0 5.0 0a2.5 2.0 0 1 0 -5.0 0M156.5 590.9a2.5 2.0 0 1 0 5.0 0a2.5 2.0 0 1 0 -5.0 0M157.7 586.8a2.5 2.0 0 1 0 5.0 0a2.5 2.0 0 1 0 -5.0 0M159.7 586.4a2.5 2.0 0 1 0 5.0 0a2.5 2.0 0 1 0 -5.0 0M162.0 577.2a2.5 2.0 0 1 0 5.0 0a2.5 2.0 0 1 0 -5.0 0M163.3 575.0a2.5 2.0 0 1 0 5.0 0a2.5 2.0 0 1 0 -5.0 0M164.9 572.2a2.5 2.0 0 1 0 5.0 0a2.5 2.0 0 1 0 -5.0 0M166.7 566.7a2.5 2.0 0 1 0 5.0 0a2.5 2.0 0 1 0 -5.0 0M168.3 560.1a2.5 2.0 0 1 0 5.0 0a2.5 2.0 0 1 0 -5.0 0M170.2 553.9a2.5 2.0 0 1 0 5.0 0a2.5 2.0 0 1 0 -5.0 0M172.1 549.6a2.5 2.0 0 1 0 5.0 0a2.5 2.0 0 1 0 -5.0 0M173.8 543.2a2.5 2.0 0 1 0 5.0 0a2.5 2.0 0 1 0 -5.0 0M175.4 532.0a2.5 2.0 0 1 0 5.0 0a2.5 2.0 0 1 0 -5.0 0M177.7 526.6a2.5 2.0 0 1 0 5.0 0a2.5 2.0 0 1 0 -5.0 0M179.2 518.8a2.5 2.0 0 1 0 5.0 0a2.5 2.0 0 1 0 -5.0 0M181.6 508.8a2.5 2.0 0 1 0 5.0 0a2.5 2.0 0 1 0 -5.0 0M183.7 503.2a2.5 2.0 0 1 0 5.0 0a2.5 2.0 0 1 0 -5.0 0M184.7 493.7a2.5 2.0 0 1 0 5.0 0a2.5 2.0 0 1 0 -5.0 0M186.8 495.7a2.5 2.0 0 1 0 5.0 0a2.5 2.0 0 1 0 -5.0 0M188.6 483.5a2.5 2.0 0 1 0 5.0 0a2.5 2.0 0 1 0 -5.0 0M189.8 482.3a2.5 2.0 0 1 0 5.0 0a2.5 2.0 0 1 0 -5.0 0M191.7 468.0a2.5 2.0 0 1 0 5.0 0a2.5 2.0 0 1 0 -5.0 0M194.4 458.9a2.5 2.0 0 1 0 5.0 0a2.5 2.0 0 1 0 -5.0 0M195.7 466.8a2.5 2.0 0 1 0 5.0 0a2.5 2.0 0 1 0 -5.0 0M197.9 456.4a2.5 2.0 0 1 0 5.0 0a2.5 2.0 0 1 0 -5.0 0M198.8 448.2a2.5 2.0 0 1 0 5.0 0a2.5 2.0 0 1 0 -5.0 0M201.2 440.6a2.5 2.0 0 1 0 5.0 0a2.5 2.0 0 1 0 -5.0 0M203.4 434.8a2.5 2.0 0 1 0 5.0 0a2.5 2.0 0 1 0 -5.0 0M205.2 432.6a2.5 2.0 0 1 0 5.0 0a2.5 2.0 0 1 0 -5.0 0M205.9 428.8a2.5 2.0 0 1 0 5.0 0a2.5 2.0 0 1 0 -5.0 0M208.3 421.9a2.5 2.0 0 1 0 5.0 0a2.5 2.0 0 1 0 -5.0 0M210.0 420.4a2.5 2.0 0 1 0 5.0 0a2.5 2.0 0 1 0 -5.0 0M212.2 411.4a2.5 2.0 0 1 0 5.0 0a2.5 2.0 0 1 0 -5.0 0M213.2 420.3a2.5 2.0 0 1 0 5.0 0a2.5 2.0 0 1 0 -5.0 0M215.2 406.5a2.5 2.0 0 1 0 5.0 0a2.5 2.0 0 1 0 -5.0 0M217.7 407.7a2.5 2.0 0 1 0 5.0 0a2.5 2.0 0 1 0 -5.0 0M219.1 398.9a2.5 2.0 0 1 0 5.0 0a2.5 2.0 0 1 0 -5.0 0M220.8 400.3a2.5 2.0 0 1 0 5.0 0a2.5 2.0 0 1 0 -5.0 0M223.3 399.7a2.5 2.0 0 1 0 5.0 0a2.5 2.0 0 1 0 -5.0 0M224.3 394.4a2.5 2.0 0 1 0 5.0 0a2.5 2.0 0 1 0 -5.0 0M225.7 397.4a2.5 2.0 0 1 0 5.0 0a2.5 2.0 0 1 0 -5.0 0M228.0 395.7a2.5 2.0 0 1 0 5.0 0a2.5 2.0 0 1 0 -5.0 0M229.5 397.0a2.5 2.0 0 1 0 5.0 0a2.5 2.0 0 1 0 -5.0 0M231.2 390.9a2.5 2.0 0 1 0 5.0 0a2.5 2.0 0 1 0 -5.0 0M233.6 388.0a2.5 2.0 0 1 0 5.0 0a2.5 2.0 0 1 0 -5.0 0M235.8 385.5a2.5 2.0 0 1 0 5.0 0a2.5 2.0 0 1 0 -5.0 0M237.2 389.1a2.5 2.0 0 1 0 5.0 0a2.5 2.0 0 1 0 -5.0 0M239.1 384.8a2.5 2.0 0 1 0 5.0 0a2.5 2.0 0 1 0 -5.0 0M240.5 388.1a2.5 2.0 0 1 0 5.0 0a2.5 2.0 0 1 0 -5.0 0M242.6 388.6a2.5 2.0 0 1 0 5.0 0a2.5 2.0 0 1 0 -5.0 0M244.6 386.7a2.5 2.0 0 1 0 5.0 0a2.5 2.0 0 1 0 -5.0 0M246.2 385.6a2.5 2.0 0 1 0 5.0 0a2.5 2.0 0 1 0 -5.0 0M248.2 391.0a2.5 2.0 0 1 0 5.0 0a2.5 2.0 0 1 0 -5.0 0M249.7 391.3a2.5 2.0 0 1 0 5.0 0a2.5 2.0 0 1 0 -5.0 0M251.1 391.7a2.5 2.0 0 1 0 5.0 0a2.5 2.0 0 1 0 -5.0 0M253.4 392.1a2.5 2.0 0 1 0 5.0 0a2.5 2.0 0 1 0 -5.0 0M255.1 396.4a2.5 2.0 0 1 0 5.0 0a2.5 2.0 0 1 0 -5.0 0M256.5 390.7a2.5 2.0 0 1 0 5.0 0a2.5 2.0 0 1 0 -5.0 0M258.8 396.4a2.5 2.0 0 1 0 5.0 0a2.5 2.0 0 1 0 -5.0 0M260.8 396.0a2.5 2.0 0 1 0 5.0 0a2.5 2.0 0 1 0 -5.0 0M261.8 399.0a2.5 2.0 0 1 0 5.0 0a2.5 2.0 0 1 0 -5.0 0M264.1 398.2a2.5 2.0 0 1 0 5.0 0a2.5 2.0 0 1 0 -5.0 0M266.1 400.4a2.5 2.0 0 1 0 5.0 0a2.5 2.0 0 1 0 -5.0 0M267.5 402.7a2.5 2.0 0 1 0 5.0 0a2.5 2.0 0 1 0 -5.0 0M269.2 399.1a2.5 2.0 0 1 0 5.0 0a2.5 2.0 0 1 0 -5.0 0M271.1 403.2a2.5 2.0 0 1 0 5.0 0a2.5 2.0 0 1 0 -5.0 0M273.1 401.7a2.5 2.0 0 1 0 5.0 0a2.5 2.0 0 1 0 -5.0 0M275.1 404.3a2.5 2.0 0 1 0 5.0 0a2.5 2.0 0 1 0 -5.0 0M276.7 408.1a2.5 2.0 0 1 0 5.0 0a2.5 2.0 0 1 0 -5.0 0M278.0 408.2a2.5 2.0 0 1 0 5.0 0a2.5 2.0 0 1 0 -5.0 0M280.6 407.8a2.5 2.0 0 1 0 5.0 0a2.5 2.0 0 1 0 -5.0 0M282.5 409.3a2.5 2.0 0 1 0 5.0 0a2.5 2.0 0 1 0 -5.0 0M283.3 409.7a2.5 2.0 0 1 0 5.0 0a2.5 2.0 0 1 0 -5.0 0M285.3 411.0a2.5 2.0 0 1 0 5.0 0a2.5 2.0 0 1 0 -5.0 0M287.0 414.4a2.5 2.0 0 1 0 5.0 0a2.5 2.0 0 1 0 -5.0 0M289.6 412.1a2.5 2.0 0 1 0 5.0 0a2.5 2.0 0 1 0 -5.0 0M291.5 416.3a2.5 2.0 0 1 0 5.0 0a2.5 2.0 0 1 0 -5.0 0M292.3 411.6a2.5 2.0 0 1 0 5.0 0a2.5 2.0 0 1 0 -5.0 0M294.4 414.0a2.5 2.0 0 1 0 5.0 0a2.5 2.0 0 1 0 -5.0 0M296.0 414.1a2.5 2.0 0 1 0 5.0 0a2.5 2.0 0 1 0 -5.0 0M298.2 413.4a2.5 2.0 0 1 0 5.0 0a2.5 2.0 0 1 0 -5.0 0M300.5 412.5a2.5 2.0 0 1 0 5.0 0a2.5 2.0 0 1 0 -5.0 0M301.3 415.7a2.5 2.0 0 1 0 5.0 0a2.5 2.0 0 1 0 -5.0 0M303.2 416.2a2.5 2.0 0 1 0 5.0 0a2.5 2.0 0 1 0 -5.0 0M305.4 414.7a2.5 2.0 0 1 0 5.0 0a2.5 2.0 0 1 0 -5.0 0M307.2 416.3a2.5 2.0 0 1 0 5.0 0a2.5 2.0 0 1 0 -5.0 0M309.3 414.0a2.5 2.0 0 1 0 5.0 0a2.5 2.0 0 1 0 -5.0 0M310.7 409.0a2.5 2.0 0 1 0 5.0 0a2.5 2.0 0 1 0 -5.0 0M312.2 413.7a2.5 2.0 0 1 0 5.0 0a2.5 2.0 0 1 0 -5.0 0M314.2 410.1a2.5 2.0 0 1 0 5.0 0a2.5 2.0 0 1 0 -5.0 0M316.8 413.4a2.5 2.0 0 1 0 5.0 0a2.5 2.0 0 1 0 -5.0 0M318.3 410.0a2.5 2.0 0 1 0 5.0 0a2.5 2.0 0 1 0 -5.0 0M319.3 410.9a2.5 2.0 0 1 0 5.0 0a2.5 2.0 0 1 0 -5.0 0M321.9 409.8a2.5 2.0 0 1 0 5.0 0a2.5 2.0 0 1 0 -5.0 0M323.2 408.4a2.5 2.0 0 1 0 5.0 0a2.5 2.0 0 1 0 -5.0 0M325.5 405.7a2.5 2.0 0 1 0 5.0 0a2.5 2.0 0 1 0 -5.0 0M326.4 408.4a2.5 2.0 0 1 0 5.0 0a2.5 2.0 0 1 0 -5.0 0M329.2 408.0a2.5 2.0 0 1 0 5.0 0a2.5 2.0 0 1 0 -5.0 0M330.2 409.9a2.5 2.0 0 1 0 5.0 0a2.5 2.0 0 1 0 -5.0 0M332.3 406.6a2.5 2.0 0 1 0 5.0 0a2.5 2.0 0 1 0 -5.0 0M334.4 407.8a2.5 2.0 0 1 0 5.0 0a2.5 2.0 0 1 0 -5.0 0M336.0 405.6a2.5 2.0 0 1 0 5.0 0a2.5 2.0 0 1 0 -5.0 0M337.4 407.1a2.5 2.0 0 1 0 5.0 0a2.5 2.0 0 1 0 -5.0 0M339.1 403.5a2.5 2.0 0 1 0 5.0 0a2.5 2.0 0 1 0 -5.0 0M341.1 410.3a2.5 2.0 0 1 0 5.0 0a2.5 2.0 0 1 0 -5.0 0M342.6 406.9a2.5 2.0 0 1 0 5.0 0a2.5 2.0 0 1 0 -5.0 0M344.6 404.5a2.5 2.0 0 1 0 5.0 0a2.5 2.0 0 1 0 -5.0 0M346.3 406.7a2.5 2.0 0 1 0 5.0 0a2.5 2.0 0 1 0 -5.0 0M348.5 407.4a2.5 2.0 0 1 0 5.0 0a2.5 2.0 0 1 0 -5.0 0M350.2 406.3a2.5 2.0 0 1 0 5.0 0a2.5 2.0 0 1 0 -5.0 0M352.2 408.3a2.5 2.0 0 1 0 5.0 0a2.5 2.0 0 1 0 -5.0 0M353.7 405.4a2.5 2.0 0 1 0 5.0 0a2.5 2.0 0 1 0 -5.0 0M355.2 401.0a2.5 2.0 0 1 0 5.0 0a2.5 2.0 0 1 0 -5.0 0M357.3 403.4a2.5 2.0 0 1 0 5.0 0a2.5 2.0 0 1 0 -5.0 0M359.6 407.6a2.5 2.0 0 1 0 5.0 0a2.5 2.0 0 1 0 -5.0 0M360.8 407.2a2.5 2.0 0 1 0 5.0 0a2.5 2.0 0 1 0 -5.0 0M362.8 406.3a2.5 2.0 0 1 0 5.0 0a2.5 2.0 0 1 0 -5.0 0M365.0 403.7a2.5 2.0 0 1 0 5.0 0a2.5 2.0 0 1 0 -5.0 0M366.4 407.1a2.5 2.0 0 1 0 5.0 0a2.5 2.0 0 1 0 -5.0 0M368.8 406.9a2.5 2.0 0 1 0 5.0 0a2.5 2.0 0 1 0 -5.0 0M370.6 404.0a2.5 2.0 0 1 0 5.0 0a2.5 2.0 0 1 0 -5.0 0M371.7 404.1a2.5 2.0 0 1 0 5.0 0a2.5 2.0 0 1 0 -5.0 0M374.0 406.5a2.5 2.0 0 1 0 5.0 0a2.5 2.0 0 1 0 -5.0 0M375.2 408.0a2.5 2.0 0 1 0 5.0 0a2.5 2.0 0 1 0 -5.0 0M376.9 408.8a2.5 2.0 0 1 0 5.0 0a2.5 2.0 0 1 0 -5.0 0M379.0 407.4a2.5 2.0 0 1 0 5.0 0a2.5 2.0 0 1 0 -5.0 0M381.0 410.3a2.5 2.0 0 1 0 5.0 0a2.5 2.0 0 1 0 -5.0 0M383.2 404.9a2.5 2.0 0 1 0 5.0 0a2.5 2.0 0 1 0 -5.0 0M384.1 407.5a2.5 2.0 0 1 0 5.0 0a2.5 2.0 0 1 0 -5.0 0M386.6 405.6a2.5 2.0 0 1 0 5.0 0a2.5 2.0 0 1 0 -5.0 0M388.1 403.0a2.5 2.0 0 1 0 5.0 0a2.5 2.0 0 1 0 -5.0 0M389.5 404.4a2.5 2.0 0 1 0 5.0 0a2.5 2.0 0 1 0 -5.0 0M392.3 409.0a2.5 2.0 0 1 0 5.0 0a2.5 2.0 0 1 0 -5.0 0M393.7 405.3a2.5 2.0 0 1 0 5.0 0a2.5 2.0 0 1 0 -5.0 0M394.8 404.8a2.5 2.0 0 1 0 5.0 0a2.5 2.0 0 1 0 -5.0 0M397.6 408.6a2.5 2.0 0 1 0 5.0 0a2.5 2.0 0 1 0 -5.0 0M398.4 409.0a2.5 2.0 0 1 0 5.0 0a2.5 2.0 0 1 0 -5.0 0M400.2 407.5a2.5 2.0 0 1 0 5.0 0a2.5 2.0 0 1 0 -5.0 0M402.3 410.5a2.5 2.0 0 1 0 5.0 0a2.5 2.0 0 1 0 -5.0 0M404.8 404.8a2.5 2.0 0 1 0 5.0 0a2.5 2.0 0 1 0 -5.0 0M405.5 412.1a2.5 2.0 0 1 0 5.0 0a2.5 2.0 0 1 0 -5.0 0M408.4 409.9a2.5 2.0 0 1 0 5.0 0a2.5 2.0 0 1 0 -5.0 0M409.8 408.3a2.5 2.0 0 1 0 5.0 0a2.5 2.0 0 1 0 -5.0 0M410.9 408.3a2.5 2.0 0 1 0 5.0 0a2.5 2.0 0 1 0 -5.0 0M413.3 407.7a2.5 2.0 0 1 0 5.0 0a2.5 2.0 0 1 0 -5.0 0M415.0 407.6a2.5 2.0 0 1 0 5.0 0a2.5 2.0 0 1 0 -5.0 0M416.9 408.5a2.5 2.0 0 1 0 5.0 0a2.5 2.0 0 1 0 -5.0 0M418.9 406.1a2.5 2.0 0 1 0 5.0 0a2.5 2.0 0 1 0 -5.0 0M420.7 412.3a2.5 2.0 0 1 0 5.0 0a2.5 2.0 0 1 0 -5.0 0M422.8 408.3a2.5 2.0 0 1 0 5.0 0a2.5 2.0 0 1 0 -5.0 0M423.6 409.7a2.5 2.0 0 1 0 5.0 0a2.5 2.0 0 1 0 -5.0 0M426.2 408.2a2.5 2.0 0 1 0 5.0 0a2.5 2.0 0 1 0 -5.0 0M427.5 408.0a2.5 2.0 0 1 0 5.0 0a2.5 2.0 0 1 0 -5.0 0M429.8 410.2a2.5 2.0 0 1 0 5.0 0a2.5 2.0 0 1 0 -5.0 0M431.7 409.7a2.5 2.0 0 1 0 5.0 0a2.5 2.0 0 1 0 -5.0 0M433.6 407.1a2.5 2.0 0 1 0 5.0 0a2.5 2.0 0 1 0 -5.0 0M434.6 407.9a2.5 2.0 0 1 0 5.0 0a2.5 2.0 0 1 0 -5.0 0M436.6 409.9a2.5 2.0 0 1 0 5.0 0a2.5 2.0 0 1 0 -5.0 0M439.0 404.8a2.5 2.0 0 1 0 5.0 0a2.5 2.0 0 1 0 -5.0 0M440.8 404.3a2.5 2.0 0 1 0 5.0 0a2.5 2.0 0 1 0 -5.0 0M441.9 411.4a2.5 2.0 0 1 0 5.0 0a2.5 2.0 0 1 0 -5.0 0M444.4 408.1a2.5 2.0 0 1 0 5.0 0a2.5 2.0 0 1 0 -5.0 0M445.5 404.0a2.5 2.0 0 1 0 5.0 0a2.5 2.0 0 1 0 -5.0 0M447.3 407.2a2.5 2.0 0 1 0 5.0 0a2.5 2.0 0 1 0 -5.0 0M449.5 408.3a2.5 2.0 0 1 0 5.0 0a2.5 2.0 0 1 0 -5.0 0M451.0 409.1a2.5 2.0 0 1 0 5.0 0a2.5 2.0 0 1 0 -5.0 0M452.8 409.7a2.5 2.0 0 1 0 5.0 0a2.5 2.0 0 1 0 -5.0 0M454.5 409.1a2.5 2.0 0 1 0 5.0 0a2.5 2.0 0 1 0 -5.0 0M456.3 409.8a2.5 2.0 0 1 0 5.0 0a2.5 2.0 0 1 0 -5.0 0M457.8 407.3a2.5 2.0 0 1 0 5.0 0a2.5 2.0 0 1 0 -5.0 0M459.5 409.5a2.5 2.0 0 1 0 5.0 0a2.5 2.0 0 1 0 -5.0 0M462.1 409.5a2.5 2.0 0 1 0 5.0 0a2.5 2.0 0 1 0 -5.0 0M463.7 411.0a2.5 2.0 0 1 0 5.0 0a2.5 2.0 0 1 0 -5.0 0M465.6 408.8a2.5 2.0 0 1 0 5.0 0a2.5 2.0 0 1 0 -5.0 0M467.6 410.4a2.5 2.0 0 1 0 5.0 0a2.5 2.0 0 1 0 -5.0 0M468.7 409.0a2.5 2.0 0 1 0 5.0 0a2.5 2.0 0 1 0 -5.0 0M470.5 406.7a2.5 2.0 0 1 0 5.0 0a2.5 2.0 0 1 0 -5.0 0M472.3 407.9a2.5 2.0 0 1 0 5.0 0a2.5 2.0 0 1 0 -5.0 0M474.2 407.7a2.5 2.0 0 1 0 5.0 0a2.5 2.0 0 1 0 -5.0 0M476.5 407.9a2.5 2.0 0 1 0 5.0 0a2.5 2.0 0 1 0 -5.0 0M477.8 408.5a2.5 2.0 0 1 0 5.0 0a2.5 2.0 0 1 0 -5.0 0M479.6 408.8a2.5 2.0 0 1 0 5.0 0a2.5 2.0 0 1 0 -5.0 0M481.7 409.1a2.5 2.0 0 1 0 5.0 0a2.5 2.0 0 1 0 -5.0 0M483.0 407.1a2.5 2.0 0 1 0 5.0 0a2.5 2.0 0 1 0 -5.0 0M484.7 410.5a2.5 2.0 0 1 0 5.0 0a2.5 2.0 0 1 0 -5.0 0M487.2 405.9a2.5 2.0 0 1 0 5.0 0a2.5 2.0 0 1 0 -5.0 0M489.1 408.4a2.5 2.0 0 1 0 5.0 0a2.5 2.0 0 1 0 -5.0 0M490.3 409.8a2.5 2.0 0 1 0 5.0 0a2.5 2.0 0 1 0 -5.0 0M492.5 409.3a2.5 2.0 0 1 0 5.0 0a2.5 2.0 0 1 0 -5.0 0M493.6 409.7a2.5 2.0 0 1 0 5.0 0a2.5 2.0 0 1 0 -5.0 0M495.8 408.1a2.5 2.0 0 1 0 5.0 0a2.5 2.0 0 1 0 -5.0 0M497.9 409.7a2.5 2.0 0 1 0 5.0 0a2.5 2.0 0 1 0 -5.0 0M499.3 406.2a2.5 2.0 0 1 0 5.0 0a2.5 2.0 0 1 0 -5.0 0M501.2 409.8a2.5 2.0 0 1 0 5.0 0a2.5 2.0 0 1 0 -5.0 0M503.3 412.5a2.5 2.0 0 1 0 5.0 0a2.5 2.0 0 1 0 -5.0 0M505.1 409.6a2.5 2.0 0 1 0 5.0 0a2.5 2.0 0 1 0 -5.0 0M506.3 412.0a2.5 2.0 0 1 0 5.0 0a2.5 2.0 0 1 0 -5.0 0M508.8 408.3a2.5 2.0 0 1 0 5.0 0a2.5 2.0 0 1 0 -5.0 0M509.8 406.2a2.5 2.0 0 1 0 5.0 0a2.5 2.0 0 1 0 -5.0 0M512.7 407.0a2.5 2.0 0 1 0 5.0 0a2.5 2.0 0 1 0 -5.0 0M513.6 410.7a2.5 2.0 0 1 0 5.0 0a2.5 2.0 0 1 0 -5.0 0M515.4 409.6a2.5 2.0 0 1 0 5.0 0a2.5 2.0 0 1 0 -5.0 0M517.2 404.8a2.5 2.0 0 1 0 5.0 0a2.5 2.0 0 1 0 -5.0 0M519.9 407.5a2.5 2.0 0 1 0 5.0 0a2.5 2.0 0 1 0 -5.0 0M520.9 408.1a2.5 2.0 0 1 0 5.0 0a2.5 2.0 0 1 0 -5.0 0M523.1 406.1a2.5 2.0 0 1 0 5.0 0a2.5 2.0 0 1 0 -5.0 0M525.3 403.5a2.5 2.0 0 1 0 5.0 0a2.5 2.0 0 1 0 -5.0 0M527.1 405.6a2.5 2.0 0 1 0 5.0 0a2.5 2.0 0 1 0 -5.0 0M527.8 407.8a2.5 2.0 0 1 0 5.0 0a2.5 2.0 0 1 0 -5.0 0M530.1 407.4a2.5 2.0 0 1 0 5.0 0a2.5 2.0 0 1 0 -5.0 0M532.0 406.9a2.5 2.0 0 1 0 5.0 0a2.5 2.0 0 1 0 -5.0 0M534.0 409.2a2.5 2.0 0 1 0 5.0 0a2.5 2.0 0 1 0 -5.0 0M535.3 410.0a2.5 2.0 0 1 0 5.0 0a2.5 2.0 0 1 0 -5.0 0M537.1 407.9a2.5 2.0 0 1 0 5.0 0a2.5 2.0 0 1 0 -5.0 0M538.5 409.8a2.5 2.0 0 1 0 5.0 0a2.5 2.0 0 1 0 -5.0 0M540.3 408.1a2.5 2.0 0 1 0 5.0 0a2.5 2.0 0 1 0 -5.0 0M542.8 407.8a2.5 2.0 0 1 0 5.0 0a2.5 2.0 0 1 0 -5.0 0M544.0 403.6a2.5 2.0 0 1 0 5.0 0a2.5 2.0 0 1 0 -5.0 0M545.9 409.6a2.5 2.0 0 1 0 5.0 0a2.5 2.0 0 1 0 -5.0 0M547.9 408.2a2.5 2.0 0 1 0 5.0 0a2.5 2.0 0 1 0 -5.0 0M549.4 408.3a2.5 2.0 0 1 0 5.0 0a2.5 2.0 0 1 0 -5.0 0M551.1 407.2a2.5 2.0 0 1 0 5.0 0a2.5 2.0 0 1 0 -5.0 0M554.0 406.0a2.5 2.0 0 1 0 5.0 0a2.5 2.0 0 1 0 -5.0 0M555.2 408.9a2.5 2.0 0 1 0 5.0 0a2.5 2.0 0 1 0 -5.0 0M556.7 409.6a2.5 2.0 0 1 0 5.0 0a2.5 2.0 0 1 0 -5.0 0M559.1 411.1a2.5 2.0 0 1 0 5.0 0a2.5 2.0 0 1 0 -5.0 0M560.1 409.8a2.5 2.0 0 1 0 5.0 0a2.5 2.0 0 1 0 -5.0 0M562.2 407.0a2.5 2.0 0 1 0 5.0 0a2.5 2.0 0 1 0 -5.0 0M564.8 407.9a2.5 2.0 0 1 0 5.0 0a2.5 2.0 0 1 0 -5.0 0M566.5 409.9a2.5 2.0 0 1 0 5.0 0a2.5 2.0 0 1 0 -5.0 0M568.0 408.7a2.5 2.0 0 1 0 5.0 0a2.5 2.0 0 1 0 -5.0 0M569.2 408.0a2.5 2.0 0 1 0 5.0 0a2.5 2.0 0 1 0 -5.0 0M571.2 407.1a2.5 2.0 0 1 0 5.0 0a2.5 2.0 0 1 0 -5.0 0M572.7 409.1a2.5 2.0 0 1 0 5.0 0a2.5 2.0 0 1 0 -5.0 0M574.7 408.5a2.5 2.0 0 1 0 5.0 0a2.5 2.0 0 1 0 -5.0 0M576.3 411.5a2.5 2.0 0 1 0 5.0 0a2.5 2.0 0 1 0 -5.0 0M578.2 410.2a2.5 2.0 0 1 0 5.0 0a2.5 2.0 0 1 0 -5.0 0M580.6 405.0a2.5 2.0 0 1 0 5.0 0a2.5 2.0 0 1 0 -5.0 0M581.8 412.2a2.5 2.0 0 1 0 5.0 0a2.5 2.0 0 1 0 -5.0 0M583.6 408.7a2.5 2.0 0 1 0 5.0 0a2.5 2.0 0 1 0 -5.0 0M586.3 407.7a2.5 2.0 0 1 0 5.0 0a2.5 2.0 0 1 0 -5.0 0M587.4 408.8a2.5 2.0 0 1 0 5.0 0a2.5 2.0 0 1 0 -5.0 0M589.2 409.6a2.5 2.0 0 1 0 5.0 0a2.5 2.0 0 1 0 -5.0 0M590.7 408.2a2.5 2.0 0 1 0 5.0 0a2.5 2.0 0 1 0 -5.0 0M593.4 408.1a2.5 2.0 0 1 0 5.0 0a2.5 2.0 0 1 0 -5.0 0M595.0 408.3a2.5 2.0 0 1 0 5.0 0a2.5 2.0 0 1 0 -5.0 0M596.7 411.6a2.5 2.0 0 1 0 5.0 0a2.5 2.0 0 1 0 -5.0 0M598.6 408.4a2.5 2.0 0 1 0 5.0 0a2.5 2.0 0 1 0 -5.0 0M599.8 409.7a2.5 2.0 0 1 0 5.0 0a2.5 2.0 0 1 0 -5.0 0M601.7 409.2a2.5 2.0 0 1 0 5.0 0a2.5 2.0 0 1 0 -5.0 0M603.9 407.7a2.5 2.0 0 1 0 5.0 0a2.5 2.0 0 1 0 -5.0 0M606.2 406.9a2.5 2.0 0 1 0 5.0 0a2.5 2.0 0 1 0 -5.0 0M607.8 406.5a2.5 2.0 0 1 0 5.0 0a2.5 2.0 0 1 0 -5.0 0M609.4 409.1a2.5 2.0 0 1 0 5.0 0a2.5 2.0 0 1 0 -5.0 0M611.0 406.4a2.5 2.0 0 1 0 5.0 0a2.5 2.0 0 1 0 -5.0 0M612.2 406.0a2.5 2.0 0 1 0 5.0 0a2.5 2.0 0 1 0 -5.0 0M615.1 406.1a2.5 2.0 0 1 0 5.0 0a2.5 2.0 0 1 0 -5.0 0M615.9 405.6a2.5 2.0 0 1 0 5.0 0a2.5 2.0 0 1 0 -5.0 0M617.8 408.5a2.5 2.0 0 1 0 5.0 0a2.5 2.0 0 1 0 -5.0 0M620.2 408.5a2.5 2.0 0 1 0 5.0 0a2.5 2.0 0 1 0 -5.0 0M622.2 406.7a2.5 2.0 0 1 0 5.0 0a2.5 2.0 0 1 0 -5.0 0M623.9 410.8a2.5 2.0 0 1 0 5.0 0a2.5 2.0 0 1 0 -5.0 0M93.1 634.2a2.5 2.0 0 1 0 5.0 0a2.5 2.0 0 1 0 -5.0 0M97.1 632.2a2.5 2.0 0 1 0 5.0 0a2.5 2.0 0 1 0 -5.0 0M101.1 634.2a2.5 2.0 0 1 0 5.0 0a2.5 2.0 0 1 0 -5.0 0M105.0 630.9a2.5 2.0 0 1 0 5.0 0a2.5 2.0 0 1 0 -5.0 0M91.1 638.3a2.5 2.0 0 1 0 5.0 0a2.5 2.0 0 1 0 -5.0 0M107.0 628.2a2.5 2.0 0 1 0 5.0 0a2.5 2.0 0 1 0 -5.0 0" fill="#000"/>
<path d="M67.6 650.4L68.5 650.1L69.5 649.8L70.4 649.6L71.3 649.3L72.3 649.0L73.2 648.8L74.2 648.5L75.1 648.2L76.0 648.0L77.0 647.7L77.9 647.4L78.8 647.2L79.8 646.9L80.7 646.6L81.6 646.4L82.6 646.1L83.5 645.8L84.4 645.5L85.4 645.3L86.3 645.0L87.3 644.7L88.2 644.5L89.1 644.2L90.1 643.9L91.0 643.6L91.9 643.3L92.9 643.0L93.8 642.7L94.7 642.3L95.7 642.0L96.6 641.6L97.5 641.2L98.5 640.8L99.4 640.4L100.4 640.0L101.3 639.5L102.2 639.0L103.2 638.5L104.1 637.9L105.0 637.4L106.0 636.7L106.9 636.1L107.8 635.4L108.8 634.7L109.7 634.0L110.6 633.2L111.6 632.4L112.5 631.6L113.5 630.7L114.4 629.8L115.3 628.9L116.3 627.9L117.2 626.9L118.1 625.8L119.1 624.7L120.0 623.6L120.9 622.4L121.9 621.2L122.8 619.9L123.7 618.6L124.7 617.2L125.6 615.8L126.6 614.3L127.5 612.7L128.4 611.1L129.4 609.3L130.3 607.5L131.2 605.6L132.2 603.7L133.1 601.6L134.0 599.5L135.0 597.3L135.9 595.1L136.8 592.7L137.8 590.3L138.7 587.8L139.7 585.3L140.6 582.6L141.5 579.9L142.5 577.1L143.4 574.3L144.3 571.3L145.3 568.3L146.2 565.2L147.1 562.1L148.1 558.9L149.0 555.7L149.9 552.4L150.9 549.2L151.8 546.0L152.8 542.7L153.7 539.5L154.6 536.2L155.6 533.0L156.5 529.7L157.4 526.5L158.4 523.2L159.3 519.9L160.2 516.6L161.2 513.3L162.1 510.0L163.0 506.6L164.0 503.2L164.9 499.8L165.9 496.3L166.8 492.9L167.7 489.4L168.7 486.0L169.6 482.5L170.5 479.2L171.5 475.9L172.4 472.6L173.3 469.5L174.3 466.4L175.2 463.3L176.1 460.4L177.1 457.4L178.0 454.5L179.0 451.6L179.9 448.7L180.8 445.9L181.8 443.1L182.7 440.3L183.6 437.6L184.6 434.9L185.5 432.2L186.4 429.7L187.4 427.2L188.3 424.8L189.2 422.4L190.2 420.1L191.1 417.9L192.1 415.8L193.0 413.7L193.9 411.7L194.9 409.7L195.8 407.8L196.7 406.0L197.7 404.3L198.6 402.6L199.5 401.0L200.5 399.5L201.4 398.1L202.3 396.7L203.3 395.5L204.2 394.3L205.2 393.3L206.1 392.3L207.0 391.4L208.0 390.6L208.9 389.8L209.8 389.1L210.8 388.5L211.7 388.0L212.6 387.5L213.6 387.1L214.5 386.7L215.4 386.4L216.4 386.2L217.3 386.0L218.3 385.8L219.2 385.7L220.1 385.7L221.1 385.7L222.0 385.7L222.9 385.7L223.9 385.8L224.8 386.0L225.7 386.2L226.7 386.4L227.6 386.6L228.5 386.9L229.5 387.2L230.4 387.5L231.4 387.9L232.3 388.3L233.2 388.7L234.2 389.2L235.1 389.7L236.0 390.2L237.0 390.7L237.9 391.3L238.8 391.8L239.8 392.4L240.7 393.0L241.6 393.6L242.6 394.3L243.5 394.9L244.5 395.5L245.4 396.2L246.3 396.8L247.3 397.4L248.2 398.1L249.1 398.7L250.1 399.3L251.0 399.9L251.9 400.5L252.9 401.1L253.8 401.7L254.7 402.2L255.7 402.7L256.6 403.2L257.6 403.7L258.5 404.2L259.4 404.6L260.4 405.0L261.3 405.4L262.2 405.8L263.2 406.2L264.1 406.5L265.0 406.8L266.0 407.1L266.9 407.4L267.8 407.7L268.8 407.9L269.7 408.2L270.7 408.4L271.6 408.6L272.5 408.8L273.5 409.0L274.4 409.2L275.3 409.4L276.3 409.5L277.2 409.7L278.1 409.8L279.1 410.0L280.0 410.1L280.9 410.2L281.9 410.4L282.8 410.5L283.8 410.6L284.7 410.7L285.6 410.8L286.6 410.9L287.5 411.0L288.4 411.0L289.4 411.1L290.3 411.2L291.2 411.2L292.2 411.3L293.1 411.3L294.0 411.4L295.0 411.4L295.9 411.4L296.9 411.4L297.8 411.4L298.7 411.4L299.7 411.4L300.6 411.4L301.5 411.3L302.5 411.3L303.4 411.2L304.3 411.2L305.3 411.1L306.2 411.0L307.1 410.9L308.1 410.8L309.0 410.7L310.0 410.6L310.9 410.5L311.8 410.4L312.8 410.3L313.7 410.1L314.6 410.0L315.6 409.9L316.5 409.7L317.4 409.6L318.4 409.4L319.3 409.3L320.2 409.1L321.2 409.0L322.1 408.8L323.1 408.6L324.0 408.5L324.9 408.3L325.9 408.2L326.8 408.0L327.7 407.9L328.7 407.7L329.6 407.5L330.5 407.4L331.5 407.3L332.4 407.1L333.3 407.0L334.3 406.8L335.2 406.7L336.2 406.6L337.1 406.4L338.0 406.3L339.0 406.2L339.9 406.1L340.8 406.0L341.8 405.9L342.7 405.8L343.6 405.7L344.6 405.6L345.5 405.5L346.4 405.4L347.4 405.3L348.3 405.2L349.3 405.1L350.2 405.1L351.1 405.0L352.1 404.9L353.0 404.9L353.9 404.8L354.9 404.8L355.8 404.7L356.7 404.7L357.7 404.6L358.6 404.6L359.5 404.6L360.5 404.5L361.4 404.5L362.4 404.5L363.3 404.5L364.2 404.5L365.2 404.5L366.1 404.5L367.0 404.5L368.0 404.5L368.9 404.5L369.8 404.5L370.8 404.6L371.7 404.6L372.6 404.6L373.6 404.6L374.5 404.7L375.5 404.7L376.4 404.7L377.3 404.8L378.3 404.8L379.2 404.8L380.1 404.9L381.1 404.9L382.0 405.0L382.9 405.0L383.9 405.1L384.8 405.1L385.7 405.2L386.7 405.3L387.6 405.3L388.6 405.4L389.5 405.4L390.4 405.5L391.4 405.6L392.3 405.6L393.2 405.7L394.2 405.7L395.1 405.8L396.0 405.9L397.0 405.9L397.9 406.0L398.8 406.0L399.8 406.1L400.7 406.2L401.7 406.2L402.6 406.3L403.5 406.4L404.5 406.4L405.4 406.5L406.3 406.5L407.3 406.6L408.2 406.6L409.1 406.7L410.1 406.7L411.0 406.8L411.9 406.8L412.9 406.9L413.8 406.9L414.8 407.0L415.7 407.0L416.6 407.0L417.6 407.1L418.5 407.1L419.4 407.2L420.4 407.2L421.3 407.2L422.2 407.3L423.2 407.3L424.1 407.3L425.0 407.4L426.0 407.4L426.9 407.4L427.9 407.4L428.8 407.5L429.7 407.5L430.7 407.5L431.6 407.5L432.5 407.5L433.5 407.6L434.4 407.6L435.3 407.6L436.3 407.6L437.2 407.6L438.1 407.6L439.1 407.7L440.0 407.7L441.0 407.7L441.9 407.7L442.8 407.7L443.8 407.7L444.7 407.7L445.6 407.7L446.6 407.7L447.5 407.7L448.4 407.8L449.4 407.8L450.3 407.8L451.2 407.8L452.2 407.8L453.1 407.8L454.1 407.8L455.0 407.8L455.9 407.8L456.9 407.8L457.8 407.8L458.7 407.8L459.7 407.8L460.6 407.8L461.5 407.8L462.5 407.8L463.4 407.8L464.3 407.7L465.3 407.7L466.2 407.7L467.2 407.7L468.1 407.7L469.0 407.7L470.0 407.7L470.9 407.7L471.8 407.7L472.8 407.7L473.7 407.7L474.6 407.7L475.6 407.7L476.5 407.6L477.4 407.6L478.4 407.6L479.3 407.6L480.3 407.6L481.2 407.6L482.1 407.6L483.1 407.6L484.0 407.6L484.9 407.5L485.9 407.5L486.8 407.5L487.7 407.5L488.7 407.5L489.6 407.5L490.5 407.5L491.5 407.5L492.4 407.4L493.4 407.4L494.3 407.4L495.2 407.4L496.2 407.4L497.1 407.4L498.0 407.4L499.0 407.4L499.9 407.3L500.8 407.3L501.8 407.3L502.7 407.3L503.6 407.3L504.6 407.3L505.5 407.3L506.5 407.3L507.4 407.3L508.3 407.2L509.3 407.2L510.2 407.2L511.1 407.2L512.1 407.2L513.0 407.2L513.9 407.2L514.9 407.2L515.8 407.2L516.7 407.2L517.7 407.1L518.6 407.1L519.6 407.1L520.5 407.1L521.4 407.1L522.4 407.1L523.3 407.1L524.2 407.1L525.2 407.1L526.1 407.1L527.0 407.1L528.0 407.1L528.9 407.1L529.8 407.1L530.8 407.1L531.7 407.0L532.7 407.0L533.6 407.0L534.5 407.0L535.5 407.0L536.4 407.0L537.3 407.0L538.3 407.0L539.2 407.0L540.1 407.0L541.1 407.0L542.0 407.0L542.9 407.0L543.9 407.0L544.8 407.0L545.8 407.0L546.7 407.0L547.6 407.0L548.6 407.0L549.5 407.0L550.4 407.0L551.4 407.0L552.3 407.0L553.2 407.0L554.2 407.0L555.1 407.0L556.0 407.0L557.0 407.0L557.9 407.0L558.9 407.0L559.8 407.0L560.7 407.0L561.7 407.0L562.6 407.0L563.5 407.0L564.5 407.0L565.4 407.0L566.3 407.0L567.3 407.0L568.2 407.0L569.1 407.0L570.1 407.0L571.0 407.0L572.0 407.0L572.9 407.0L573.8 407.0L574.8 407.0L575.7 407.0L576.6 407.0L577.6 407.0L578.5 407.0L579.4 407.0L580.4 407.0L581.3 407.0L582.2 407.0L583.2 407.0L584.1 407.0L585.1 407.0L586.0 407.0L586.9 407.0L587.9 407.0L588.8 407.0L589.7 407.0L590.7 407.0L591.6 407.1L592.5 407.1L593.5 407.1L594.4 407.1L595.3 407.1L596.3 407.1L597.2 407.1L598.2 407.1L599.1 407.1L600.0 407.1L601.0 407.1L601.9 407.1L602.8 407.1L603.8 407.1L604.7 407.1L605.6 407.1L606.6 407.1L607.5 407.1L608.4 407.1L609.4 407.1L610.3 407.1L611.3 407.1L612.2 407.1L613.1 407.2L614.1 407.2L615.0 407.2L615.9 407.2L616.9 407.2L617.8 407.2L618.7 407.2L619.7 407.2L620.6 407.2L621.5 407.2L622.5 407.2L623.4 407.2L624.4 407.2L625.3 407.2L626.2 407.2L627.2 407.2L628.1 407.2" fill="none" stroke="#ee3124" stroke-width="3.8"/>
<path d="M67.6 653.7L68.3 653.6L68.9 653.5L69.6 653.5L70.3 653.4L70.9 653.3L71.6 653.2L72.3 653.1L72.9 653.0L73.6 652.9L74.3 652.8L74.9 652.7L75.6 652.7L76.3 652.6L77.0 652.5L77.6 652.4L78.3 652.3L79.0 652.2L79.6 652.1L80.3 652.0L81.0 651.9L81.6 651.8L82.3 651.7L83.0 651.6L83.6 651.5L84.3 651.4L85.0 651.3L85.6 651.2L86.3 651.1L87.0 651.0L87.6 650.9L88.3 650.8L89.0 650.7L89.6 650.6L90.3 650.5L91.0 650.4L91.7 650.2L92.3 650.1L93.0 650.0L93.7 649.9L94.3 649.8L95.0 649.7L95.7 649.5L96.3 649.4L97.0 649.3L97.7 649.2L98.3 649.0L99.0 648.9L99.7 648.8L100.3 648.6L101.0 648.5L101.7 648.4L102.3 648.2L103.0 648.1L103.7 647.9L104.3 647.8L105.0 647.6L105.7 647.5L106.3 647.3L107.0 647.2L107.7 647.0L108.4 646.8L109.0 646.7L109.7 646.5L110.4 646.3L111.0 646.1L111.7 645.9L112.4 645.8L113.0 645.6L113.7 645.4L114.4 645.2L115.0 644.9L115.7 644.7L116.4 644.5L117.0 644.3L117.7 644.1L118.4 643.8L119.0 643.6L119.7 643.4L120.4 643.1L121.0 642.9L121.7 642.6L122.4 642.3L123.0 642.1L123.7 641.8L124.4 641.5L125.1 641.2L125.7 640.9L126.4 640.6L127.1 640.3L127.7 640.0L128.4 639.6L129.1 639.3L129.7 638.9L130.4 638.5L131.1 638.1L131.7 637.6L132.4 637.2L133.1 636.7L133.7 636.2L134.4 635.6L135.1 635.1L135.7 634.5L136.4 633.8L137.1 633.2L137.7 632.5L138.4 631.8L139.1 631.0L139.8 630.2L140.4 629.4L141.1 628.5L141.8 627.6L142.4 626.6L143.1 625.6L143.8 624.5L144.4 623.4L145.1 622.3L145.8 621.1L146.4 619.9L147.1 618.6L147.8 617.3L148.4 616.0L149.1 614.6L149.8 613.3L150.4 611.9L151.1 610.4L151.8 609.0L152.4 607.5L153.1 606.0L153.8 604.5L154.4 603.0L155.1 601.4L155.8 599.8L156.5 598.3L157.1 596.7L157.8 595.1L158.5 593.5L159.1 591.9L159.8 590.3L160.5 588.6L161.1 587.0L161.8 585.3L162.5 583.7L163.1 582.0L163.8 580.2L164.5 578.5L165.1 576.7L165.8 574.9L166.5 573.0L167.1 571.2L167.8 569.2L168.5 567.3L169.1 565.3L169.8 563.3L170.5 561.2L171.1 559.1L171.8 557.0L172.5 554.8L173.2 552.6L173.8 550.3L174.5 548.0L175.2 545.7L175.8 543.3L176.5 540.9L177.2 538.5L177.8 536.1L178.5 533.7L179.2 531.2L179.8 528.7L180.5 526.3L181.2 523.8L181.8 521.4L182.5 518.9L183.2 516.4L183.8 513.9L184.5 511.4L185.2 508.9L185.8 506.4L186.5 503.8L187.2 501.3L187.9 498.7L188.5 496.1L189.2 493.5L189.9 490.9L190.5 488.3L191.2 485.7L191.9 483.1L192.5 480.5L193.2 478.0L193.9 475.5L194.5 473.0L195.2 470.6L195.9 468.2L196.5 465.9L197.2 463.6L197.9 461.3L198.5 459.1L199.2 456.9L199.9 454.8L200.5 452.7L201.2 450.7L201.9 448.7L202.5 446.7L203.2 444.8L203.9 442.9L204.6 441.0L205.2 439.1L205.9 437.2L206.6 435.4L207.2 433.5L207.9 431.7L208.6 430.0L209.2 428.2L209.9 426.5L210.6 424.8L211.2 423.1L211.9 421.5L212.6 419.8L213.2 418.3L213.9 416.7L214.6 415.2L215.2 413.7L215.9 412.3L216.6 410.9L217.2 409.6L217.9 408.3L218.6 407.1L219.2 405.9L219.9 404.7L220.6 403.6L221.3 402.6L221.9 401.6L222.6 400.6L223.3 399.7L223.9 398.8L224.6 398.0L225.3 397.3L225.9 396.5L226.6 395.8L227.3 395.2L227.9 394.6L228.6 394.0L229.3 393.5L229.9 393.0L230.6 392.6L231.3 392.1L231.9 391.7L232.6 391.3L233.3 391.0L233.9 390.6L234.6 390.3L235.3 390.0L236.0 389.7L236.6 389.5L237.3 389.2L238.0 389.0L238.6 388.8L239.3 388.7L240.0 388.5L240.6 388.4L241.3 388.3L242.0 388.2L242.6 388.2L243.3 388.2L244.0 388.2L244.6 388.3L245.3 388.3L246.0 388.4L246.6 388.6L247.3 388.7L248.0 388.9L248.6 389.1L249.3 389.3L250.0 389.6L250.6 389.8L251.3 390.1L252.0 390.4L252.7 390.7L253.3 391.0L254.0 391.4L254.7 391.7L255.3 392.1L256.0 392.4L256.7 392.8L257.3 393.2L258.0 393.6L258.7 394.0L259.3 394.4L260.0 394.8L260.7 395.2L261.3 395.6L262.0 396.1L262.7 396.5L263.3 396.9L264.0 397.3L264.7 397.7L265.3 398.1L266.0 398.5L266.7 398.9L267.4 399.3" fill="none" stroke="#3452b4" stroke-width="3.8" stroke-dasharray="9 3.5"/>
<path d="M267.4 399.3L268.6 400.0L269.8 400.8L271.0 401.5L272.2 402.1L273.4 402.8L274.6 403.5L275.8 404.1L277.0 404.8L278.2 405.4L279.4 406.0L280.6 406.5L281.8 407.1L283.0 407.6L284.2 408.1L285.4 408.6L286.7 409.0L287.9 409.4L289.1 409.8L290.3 410.2L291.5 410.5L292.7 410.8L293.9 411.1L295.1 411.3L296.3 411.5L297.5 411.7L298.7 411.8L299.9 411.9L301.1 412.0L302.3 412.0L303.5 412.0L304.8 411.9L306.0 411.9L307.2 411.8L308.4 411.7L309.6 411.5L310.8 411.4L312.0 411.2L313.2 411.0L314.4 410.8L315.6 410.6L316.8 410.3L318.0 410.1L319.2 409.8L320.4 409.6L321.6 409.3L322.8 409.1L324.1 408.8L325.3 408.5L326.5 408.3L327.7 408.0L328.9 407.8L330.1 407.5L331.3 407.3L332.5 407.1L333.7 406.9L334.9 406.7L336.1 406.5L337.3 406.3L338.5 406.1L339.7 406.0L340.9 405.8L342.2 405.7L343.4 405.5L344.6 405.4L345.8 405.3L347.0 405.2L348.2 405.1L349.4 405.0L350.6 404.9L351.8 404.9L353.0 404.8L354.2 404.7L355.4 404.7L356.6 404.6L357.8 404.6L359.0 404.6L360.3 404.6L361.5 404.5L362.7 404.5L363.9 404.5L365.1 404.5L366.3 404.5L367.5 404.5L368.7 404.6L369.9 404.6L371.1 404.6L372.3 404.7L373.5 404.7L374.7 404.7L375.9 404.8L377.1 404.8L378.3 404.9L379.6 404.9L380.8 405.0L382.0 405.1L383.2 405.1L384.4 405.2L385.6 405.3L386.8 405.3L388.0 405.4L389.2 405.5L390.4 405.5L391.6 405.6L392.8 405.7L394.0 405.8L395.2 405.8L396.4 405.9L397.7 406.0L398.9 406.1L400.1 406.2L401.3 406.2L402.5 406.3L403.7 406.4L404.9 406.4L406.1 406.5L407.3 406.6L408.5 406.6L409.7 406.7L410.9 406.8L412.1 406.8L413.3 406.9L414.5 406.9L415.8 407.0L417.0 407.0L418.2 407.1L419.4 407.1L420.6 407.2L421.8 407.2L423.0 407.2L424.2 407.3L425.4 407.3L426.6 407.4L427.8 407.4L429.0 407.4L430.2 407.4L431.4 407.5L432.6 407.5L433.8 407.5L435.1 407.5L436.3 407.6L437.5 407.6L438.7 407.6L439.9 407.6L441.1 407.6L442.3 407.7L443.5 407.7L444.7 407.7L445.9 407.7L447.1 407.7L448.3 407.7L449.5 407.7L450.7 407.7L451.9 407.7L453.2 407.7L454.4 407.7L455.6 407.7L456.8 407.7L458.0 407.7L459.2 407.7L460.4 407.7L461.6 407.7L462.8 407.7L464.0 407.7L465.2 407.7L466.4 407.7L467.6 407.7L468.8 407.7L470.0 407.7L471.3 407.7L472.5 407.6L473.7 407.6L474.9 407.6L476.1 407.6L477.3 407.6L478.5 407.6L479.7 407.6L480.9 407.6L482.1 407.5L483.3 407.5L484.5 407.5L485.7 407.5L486.9 407.5L488.1 407.5L489.3 407.5L490.6 407.4L491.8 407.4L493.0 407.4L494.2 407.4L495.4 407.4L496.6 407.4L497.8 407.4L499.0 407.3L500.2 407.3L501.4 407.3L502.6 407.3L503.8 407.3L505.0 407.3L506.2 407.3L507.4 407.3L508.7 407.2L509.9 407.2L511.1 407.2L512.3 407.2L513.5 407.2L514.7 407.2L515.9 407.2L517.1 407.2L518.3 407.2L519.5 407.1L520.7 407.1L521.9 407.1L523.1 407.1L524.3 407.1L525.5 407.1L526.8 407.1L528.0 407.1L529.2 407.1L530.4 407.1L531.6 407.1L532.8 407.1L534.0 407.1L535.2 407.1L536.4 407.0L537.6 407.0L538.8 407.0L540.0 407.0L541.2 407.0L542.4 407.0L543.6 407.0L544.8 407.0L546.1 407.0L547.3 407.0L548.5 407.0L549.7 407.0L550.9 407.0L552.1 407.0L553.3 407.0L554.5 407.0L555.7 407.0L556.9 407.0L558.1 407.0L559.3 407.0L560.5 407.0L561.7 407.0L562.9 407.0L564.2 407.0L565.4 407.0L566.6 407.0L567.8 407.0L569.0 407.0L570.2 407.0L571.4 407.0L572.6 407.0L573.8 407.0L575.0 407.0L576.2 407.0L577.4 407.0L578.6 407.0L579.8 407.0L581.0 407.0L582.3 407.0L583.5 407.0L584.7 407.0L585.9 407.0L587.1 407.1L588.3 407.1L589.5 407.1L590.7 407.1L591.9 407.1L593.1 407.1L594.3 407.1L595.5 407.1L596.7 407.1L597.9 407.1L599.1 407.1L600.3 407.1L601.6 407.1L602.8 407.1L604.0 407.1L605.2 407.1L606.4 407.1L607.6 407.1L608.8 407.1L610.0 407.1L611.2 407.2L612.4 407.2L613.6 407.2L614.8 407.2L616.0 407.2L617.2 407.2L618.4 407.2L619.7 407.2L620.9 407.2L622.1 407.2L623.3 407.2L624.5 407.2L625.7 407.2L626.9 407.2L628.1 407.2" fill="none" stroke="#3452b4" stroke-width="3.8" stroke-dasharray="20.5 5.5"/>
<rect x="67.6" y="354.2" width="559.30" height="302.20" fill="none" stroke="#404040" stroke-width="1.6"/>
<path d="M147.50 656.40v-6.0M147.50 354.20v6.0M227.40 656.40v-6.0M227.40 354.20v6.0M307.30 656.40v-6.0M307.30 354.20v6.0M387.20 656.40v-6.0M387.20 354.20v6.0M467.10 656.40v-6.0M467.10 354.20v6.0M547.00 656.40v-6.0M547.00 354.20v6.0M67.60 622.82h6.0M626.90 622.82h-6.0M67.60 589.24h6.0M626.90 589.24h-6.0M67.60 555.67h6.0M626.90 555.67h-6.0M67.60 522.09h6.0M626.90 522.09h-6.0M67.60 488.51h6.0M626.90 488.51h-6.0M67.60 454.93h6.0M626.90 454.93h-6.0M67.60 421.36h6.0M626.90 421.36h-6.0M67.60 387.78h6.0M626.90 387.78h-6.0" stroke="#404040" stroke-width="1.6" fill="none"/>
<text x="28.88" y="357.30" font-size="12.46" font-weight="normal" textLength="29.48" lengthAdjust="spacingAndGlyphs" fill="#000" stroke="#000" stroke-width="0.4">4.5</text>
<text x="44.88" y="391.00" font-size="12.46" font-weight="normal" textLength="11.56" lengthAdjust="spacingAndGlyphs" fill="#000" stroke="#000" stroke-width="0.4">4</text>
<text x="28.44" y="424.70" font-size="12.46" font-weight="normal" textLength="29.93" lengthAdjust="spacingAndGlyphs" fill="#000" stroke="#000" stroke-width="0.4">3.5</text>
<text x="44.42" y="458.40" font-size="12.46" font-weight="normal" textLength="12.29" lengthAdjust="spacingAndGlyphs" fill="#000" stroke="#000" stroke-width="0.4">3</text>
<text x="28.22" y="492.10" font-size="12.46" font-weight="normal" textLength="30.16" lengthAdjust="spacingAndGlyphs" fill="#000" stroke="#000" stroke-width="0.4">2.5</text>
<text x="44.15" y="525.80" font-size="12.46" font-weight="normal" textLength="12.83" lengthAdjust="spacingAndGlyphs" fill="#000" stroke="#000" stroke-width="0.4">2</text>
<text x="27.64" y="559.50" font-size="12.46" font-weight="normal" textLength="30.75" lengthAdjust="spacingAndGlyphs" fill="#000" stroke="#000" stroke-width="0.4">1.5</text>
<text x="44.28" y="593.20" font-size="12.46" font-weight="normal" textLength="12.79" lengthAdjust="spacingAndGlyphs" fill="#000" stroke="#000" stroke-width="0.4">1</text>
<text x="28.44" y="626.90" font-size="12.46" font-weight="normal" textLength="29.93" lengthAdjust="spacingAndGlyphs" fill="#000" stroke="#000" stroke-width="0.4">0.5</text>
<text x="44.42" y="660.60" font-size="12.46" font-weight="normal" textLength="12.17" lengthAdjust="spacingAndGlyphs" fill="#000" stroke="#000" stroke-width="0.4">0</text>
<text x="56.65" y="677.60" font-size="20.70" font-weight="normal" textLength="17.78" lengthAdjust="spacingAndGlyphs" fill="#000">-2</text>
<text x="141.30" y="677.60" font-size="20.70" font-weight="normal" textLength="11.51" lengthAdjust="spacingAndGlyphs" fill="#000">0</text>
<text x="219.56" y="677.60" font-size="20.70" font-weight="normal" textLength="11.51" lengthAdjust="spacingAndGlyphs" fill="#000">2</text>
<text x="297.76" y="677.60" font-size="20.70" font-weight="normal" textLength="11.51" lengthAdjust="spacingAndGlyphs" fill="#000">4</text>
<text x="375.75" y="677.60" font-size="20.70" font-weight="normal" textLength="11.51" lengthAdjust="spacingAndGlyphs" fill="#000">6</text>
<text x="458.50" y="677.60" font-size="20.70" font-weight="normal" textLength="11.51" lengthAdjust="spacingAndGlyphs" fill="#000">8</text>
<text x="531.17" y="677.60" font-size="20.70" font-weight="normal" textLength="21.91" lengthAdjust="spacingAndGlyphs" fill="#000">10</text>
<text x="613.33" y="677.60" font-size="20.70" font-weight="normal" textLength="19.54" lengthAdjust="spacingAndGlyphs" fill="#000">12</text>
<text x="86.35" y="416.50" font-size="32.61" font-weight="normal" textLength="19.57" lengthAdjust="spacingAndGlyphs" fill="#000">B</text>
<text transform="translate(17.20,611.10) rotate(-90)" x="-1.98 4.22 16.77 29.04 41.01 49.36 54.65 67.50 80.76 87.79 99.95 113.19 120.65 124.98 137.57 142.63 148.69 153.68" y="0" font-size="22.00">Inner&#160;potential,&#160;V</text>
<text x="300.50 316.22 320.67 331.52 337.89 350.24 361.93 372.49 384.23 390.18 395.34" y="697.20" font-size="21.30" font-weight="normal" fill="#000">Distance,&#160;A</text>
<text x="418.35" y="560.40" font-size="23.40" font-weight="normal" textLength="172.32" lengthAdjust="spacingAndGlyphs" fill="#000">Neuraminidase</text>
<text x="499.32" y="590.60" font-size="24.00" font-weight="normal" textLength="57.46" lengthAdjust="spacingAndGlyphs" fill="#000">polar</text>
<text x="499.32" y="622.00" font-size="24.00" font-weight="normal" textLength="100.63" lengthAdjust="spacingAndGlyphs" fill="#000">nonpolar</text>
<path d="M408.6 590.4H487.1" stroke="#ee3124" stroke-width="4.2"/>
<path d="M412.6 618.3H485.6" stroke="#3452b4" stroke-width="4.4" stroke-dasharray="16.4 11.8"/>
<path d="M86.9 986.8a2.3 1.8399999999999999 0 1 0 4.6 0a2.3 1.8399999999999999 0 1 0 -4.6 0M89.1 984.6a2.3 1.8399999999999999 0 1 0 4.6 0a2.3 1.8399999999999999 0 1 0 -4.6 0M91.0 985.5a2.3 1.8399999999999999 0 1 0 4.6 0a2.3 1.8399999999999999 0 1 0 -4.6 0M92.1 983.4a2.3 1.8399999999999999 0 1 0 4.6 0a2.3 1.8399999999999999 0 1 0 -4.6 0M94.0 985.8a2.3 1.8399999999999999 0 1 0 4.6 0a2.3 1.8399999999999999 0 1 0 -4.6 0M96.8 979.3a2.3 1.8399999999999999 0 1 0 4.6 0a2.3 1.8399999999999999 0 1 0 -4.6 0M97.5 982.1a2.3 1.8399999999999999 0 1 0 4.6 0a2.3 1.8399999999999999 0 1 0 -4.6 0M99.4 983.0a2.3 1.8399999999999999 0 1 0 4.6 0a2.3 1.8399999999999999 0 1 0 -4.6 0M102.2 978.8a2.3 1.8399999999999999 0 1 0 4.6 0a2.3 1.8399999999999999 0 1 0 -4.6 0M103.6 978.1a2.3 1.8399999999999999 0 1 0 4.6 0a2.3 1.8399999999999999 0 1 0 -4.6 0M105.1 976.1a2.3 1.8399999999999999 0 1 0 4.6 0a2.3 1.8399999999999999 0 1 0 -4.6 0M107.0 976.9a2.3 1.8399999999999999 0 1 0 4.6 0a2.3 1.8399999999999999 0 1 0 -4.6 0M109.0 972.5a2.3 1.8399999999999999 0 1 0 4.6 0a2.3 1.8399999999999999 0 1 0 -4.6 0M110.3 965.5a2.3 1.8399999999999999 0 1 0 4.6 0a2.3 1.8399999999999999 0 1 0 -4.6 0M111.9 972.7a2.3 1.8399999999999999 0 1 0 4.6 0a2.3 1.8399999999999999 0 1 0 -4.6 0M114.5 967.2a2.3 1.8399999999999999 0 1 0 4.6 0a2.3 1.8399999999999999 0 1 0 -4.6 0M116.2 966.6a2.3 1.8399999999999999 0 1 0 4.6 0a2.3 1.8399999999999999 0 1 0 -4.6 0M117.8 963.9a2.3 1.8399999999999999 0 1 0 4.6 0a2.3 1.8399999999999999 0 1 0 -4.6 0M119.9 965.0a2.3 1.8399999999999999 0 1 0 4.6 0a2.3 1.8399999999999999 0 1 0 -4.6 0M121.4 962.2a2.3 1.8399999999999999 0 1 0 4.6 0a2.3 1.8399999999999999 0 1 0 -4.6 0M123.7 956.6a2.3 1.8399999999999999 0 1 0 4.6 0a2.3 1.8399999999999999 0 1 0 -4.6 0M124.6 956.7a2.3 1.8399999999999999 0 1 0 4.6 0a2.3 1.8399999999999999 0 1 0 -4.6 0M126.8 950.5a2.3 1.8399999999999999 0 1 0 4.6 0a2.3 1.8399999999999999 0 1 0 -4.6 0M128.5 953.3a2.3 1.8399999999999999 0 1 0 4.6 0a2.3 1.8399999999999999 0 1 0 -4.6 0M130.1 948.7a2.3 1.8399999999999999 0 1 0 4.6 0a2.3 1.8399999999999999 0 1 0 -4.6 0M132.2 937.4a2.3 1.8399999999999999 0 1 0 4.6 0a2.3 1.8399999999999999 0 1 0 -4.6 0M133.6 944.4a2.3 1.8399999999999999 0 1 0 4.6 0a2.3 1.8399999999999999 0 1 0 -4.6 0M136.0 938.9a2.3 1.8399999999999999 0 1 0 4.6 0a2.3 1.8399999999999999 0 1 0 -4.6 0M137.9 931.5a2.3 1.8399999999999999 0 1 0 4.6 0a2.3 1.8399999999999999 0 1 0 -4.6 0M138.8 929.1a2.3 1.8399999999999999 0 1 0 4.6 0a2.3 1.8399999999999999 0 1 0 -4.6 0M141.0 920.2a2.3 1.8399999999999999 0 1 0 4.6 0a2.3 1.8399999999999999 0 1 0 -4.6 0M142.6 917.8a2.3 1.8399999999999999 0 1 0 4.6 0a2.3 1.8399999999999999 0 1 0 -4.6 0M144.1 915.8a2.3 1.8399999999999999 0 1 0 4.6 0a2.3 1.8399999999999999 0 1 0 -4.6 0M146.9 904.6a2.3 1.8399999999999999 0 1 0 4.6 0a2.3 1.8399999999999999 0 1 0 -4.6 0M148.1 893.7a2.3 1.8399999999999999 0 1 0 4.6 0a2.3 1.8399999999999999 0 1 0 -4.6 0M149.6 893.3a2.3 1.8399999999999999 0 1 0 4.6 0a2.3 1.8399999999999999 0 1 0 -4.6 0M152.0 897.9a2.3 1.8399999999999999 0 1 0 4.6 0a2.3 1.8399999999999999 0 1 0 -4.6 0M153.2 886.4a2.3 1.8399999999999999 0 1 0 4.6 0a2.3 1.8399999999999999 0 1 0 -4.6 0M155.9 880.8a2.3 1.8399999999999999 0 1 0 4.6 0a2.3 1.8399999999999999 0 1 0 -4.6 0M156.8 873.5a2.3 1.8399999999999999 0 1 0 4.6 0a2.3 1.8399999999999999 0 1 0 -4.6 0M158.4 871.3a2.3 1.8399999999999999 0 1 0 4.6 0a2.3 1.8399999999999999 0 1 0 -4.6 0M160.4 859.2a2.3 1.8399999999999999 0 1 0 4.6 0a2.3 1.8399999999999999 0 1 0 -4.6 0M162.4 856.4a2.3 1.8399999999999999 0 1 0 4.6 0a2.3 1.8399999999999999 0 1 0 -4.6 0M164.3 850.9a2.3 1.8399999999999999 0 1 0 4.6 0a2.3 1.8399999999999999 0 1 0 -4.6 0M166.6 846.0a2.3 1.8399999999999999 0 1 0 4.6 0a2.3 1.8399999999999999 0 1 0 -4.6 0M168.1 840.7a2.3 1.8399999999999999 0 1 0 4.6 0a2.3 1.8399999999999999 0 1 0 -4.6 0M169.5 833.8a2.3 1.8399999999999999 0 1 0 4.6 0a2.3 1.8399999999999999 0 1 0 -4.6 0M170.9 824.9a2.3 1.8399999999999999 0 1 0 4.6 0a2.3 1.8399999999999999 0 1 0 -4.6 0M172.9 818.7a2.3 1.8399999999999999 0 1 0 4.6 0a2.3 1.8399999999999999 0 1 0 -4.6 0M175.7 809.1a2.3 1.8399999999999999 0 1 0 4.6 0a2.3 1.8399999999999999 0 1 0 -4.6 0M176.8 799.3a2.3 1.8399999999999999 0 1 0 4.6 0a2.3 1.8399999999999999 0 1 0 -4.6 0M178.9 793.7a2.3 1.8399999999999999 0 1 0 4.6 0a2.3 1.8399999999999999 0 1 0 -4.6 0M179.9 790.4a2.3 1.8399999999999999 0 1 0 4.6 0a2.3 1.8399999999999999 0 1 0 -4.6 0M181.7 785.7a2.3 1.8399999999999999 0 1 0 4.6 0a2.3 1.8399999999999999 0 1 0 -4.6 0M184.4 775.6a2.3 1.8399999999999999 0 1 0 4.6 0a2.3 1.8399999999999999 0 1 0 -4.6 0M185.9 771.3a2.3 1.8399999999999999 0 1 0 4.6 0a2.3 1.8399999999999999 0 1 0 -4.6 0M187.4 773.9a2.3 1.8399999999999999 0 1 0 4.6 0a2.3 1.8399999999999999 0 1 0 -4.6 0M189.2 758.7a2.3 1.8399999999999999 0 1 0 4.6 0a2.3 1.8399999999999999 0 1 0 -4.6 0M190.7 757.1a2.3 1.8399999999999999 0 1 0 4.6 0a2.3 1.8399999999999999 0 1 0 -4.6 0M192.6 756.1a2.3 1.8399999999999999 0 1 0 4.6 0a2.3 1.8399999999999999 0 1 0 -4.6 0M194.2 749.8a2.3 1.8399999999999999 0 1 0 4.6 0a2.3 1.8399999999999999 0 1 0 -4.6 0M197.0 747.8a2.3 1.8399999999999999 0 1 0 4.6 0a2.3 1.8399999999999999 0 1 0 -4.6 0M198.3 746.3a2.3 1.8399999999999999 0 1 0 4.6 0a2.3 1.8399999999999999 0 1 0 -4.6 0M199.7 753.1a2.3 1.8399999999999999 0 1 0 4.6 0a2.3 1.8399999999999999 0 1 0 -4.6 0M202.2 743.9a2.3 1.8399999999999999 0 1 0 4.6 0a2.3 1.8399999999999999 0 1 0 -4.6 0M203.4 740.6a2.3 1.8399999999999999 0 1 0 4.6 0a2.3 1.8399999999999999 0 1 0 -4.6 0M205.0 736.1a2.3 1.8399999999999999 0 1 0 4.6 0a2.3 1.8399999999999999 0 1 0 -4.6 0M207.4 733.7a2.3 1.8399999999999999 0 1 0 4.6 0a2.3 1.8399999999999999 0 1 0 -4.6 0M209.6 733.8a2.3 1.8399999999999999 0 1 0 4.6 0a2.3 1.8399999999999999 0 1 0 -4.6 0M210.3 741.2a2.3 1.8399999999999999 0 1 0 4.6 0a2.3 1.8399999999999999 0 1 0 -4.6 0M213.1 743.3a2.3 1.8399999999999999 0 1 0 4.6 0a2.3 1.8399999999999999 0 1 0 -4.6 0M214.1 734.8a2.3 1.8399999999999999 0 1 0 4.6 0a2.3 1.8399999999999999 0 1 0 -4.6 0M215.8 736.1a2.3 1.8399999999999999 0 1 0 4.6 0a2.3 1.8399999999999999 0 1 0 -4.6 0M217.5 733.1a2.3 1.8399999999999999 0 1 0 4.6 0a2.3 1.8399999999999999 0 1 0 -4.6 0M219.6 736.3a2.3 1.8399999999999999 0 1 0 4.6 0a2.3 1.8399999999999999 0 1 0 -4.6 0M221.9 735.4a2.3 1.8399999999999999 0 1 0 4.6 0a2.3 1.8399999999999999 0 1 0 -4.6 0M223.4 740.8a2.3 1.8399999999999999 0 1 0 4.6 0a2.3 1.8399999999999999 0 1 0 -4.6 0M225.7 735.5a2.3 1.8399999999999999 0 1 0 4.6 0a2.3 1.8399999999999999 0 1 0 -4.6 0M226.7 738.4a2.3 1.8399999999999999 0 1 0 4.6 0a2.3 1.8399999999999999 0 1 0 -4.6 0M228.6 736.7a2.3 1.8399999999999999 0 1 0 4.6 0a2.3 1.8399999999999999 0 1 0 -4.6 0M230.3 737.1a2.3 1.8399999999999999 0 1 0 4.6 0a2.3 1.8399999999999999 0 1 0 -4.6 0M233.0 740.0a2.3 1.8399999999999999 0 1 0 4.6 0a2.3 1.8399999999999999 0 1 0 -4.6 0M234.7 739.5a2.3 1.8399999999999999 0 1 0 4.6 0a2.3 1.8399999999999999 0 1 0 -4.6 0M235.8 741.1a2.3 1.8399999999999999 0 1 0 4.6 0a2.3 1.8399999999999999 0 1 0 -4.6 0M237.7 739.8a2.3 1.8399999999999999 0 1 0 4.6 0a2.3 1.8399999999999999 0 1 0 -4.6 0M239.3 741.5a2.3 1.8399999999999999 0 1 0 4.6 0a2.3 1.8399999999999999 0 1 0 -4.6 0M241.7 746.1a2.3 1.8399999999999999 0 1 0 4.6 0a2.3 1.8399999999999999 0 1 0 -4.6 0M242.6 746.8a2.3 1.8399999999999999 0 1 0 4.6 0a2.3 1.8399999999999999 0 1 0 -4.6 0M244.4 741.1a2.3 1.8399999999999999 0 1 0 4.6 0a2.3 1.8399999999999999 0 1 0 -4.6 0M246.6 748.0a2.3 1.8399999999999999 0 1 0 4.6 0a2.3 1.8399999999999999 0 1 0 -4.6 0M248.2 745.8a2.3 1.8399999999999999 0 1 0 4.6 0a2.3 1.8399999999999999 0 1 0 -4.6 0M250.7 749.1a2.3 1.8399999999999999 0 1 0 4.6 0a2.3 1.8399999999999999 0 1 0 -4.6 0M252.4 752.9a2.3 1.8399999999999999 0 1 0 4.6 0a2.3 1.8399999999999999 0 1 0 -4.6 0M254.0 754.3a2.3 1.8399999999999999 0 1 0 4.6 0a2.3 1.8399999999999999 0 1 0 -4.6 0M255.9 752.8a2.3 1.8399999999999999 0 1 0 4.6 0a2.3 1.8399999999999999 0 1 0 -4.6 0M257.7 753.3a2.3 1.8399999999999999 0 1 0 4.6 0a2.3 1.8399999999999999 0 1 0 -4.6 0M259.6 754.0a2.3 1.8399999999999999 0 1 0 4.6 0a2.3 1.8399999999999999 0 1 0 -4.6 0M261.6 757.9a2.3 1.8399999999999999 0 1 0 4.6 0a2.3 1.8399999999999999 0 1 0 -4.6 0M262.4 757.1a2.3 1.8399999999999999 0 1 0 4.6 0a2.3 1.8399999999999999 0 1 0 -4.6 0M264.8 757.2a2.3 1.8399999999999999 0 1 0 4.6 0a2.3 1.8399999999999999 0 1 0 -4.6 0M266.0 754.8a2.3 1.8399999999999999 0 1 0 4.6 0a2.3 1.8399999999999999 0 1 0 -4.6 0M268.2 763.9a2.3 1.8399999999999999 0 1 0 4.6 0a2.3 1.8399999999999999 0 1 0 -4.6 0M270.4 759.9a2.3 1.8399999999999999 0 1 0 4.6 0a2.3 1.8399999999999999 0 1 0 -4.6 0M272.3 762.0a2.3 1.8399999999999999 0 1 0 4.6 0a2.3 1.8399999999999999 0 1 0 -4.6 0M273.9 760.8a2.3 1.8399999999999999 0 1 0 4.6 0a2.3 1.8399999999999999 0 1 0 -4.6 0M274.8 762.5a2.3 1.8399999999999999 0 1 0 4.6 0a2.3 1.8399999999999999 0 1 0 -4.6 0M277.0 761.5a2.3 1.8399999999999999 0 1 0 4.6 0a2.3 1.8399999999999999 0 1 0 -4.6 0M278.6 759.8a2.3 1.8399999999999999 0 1 0 4.6 0a2.3 1.8399999999999999 0 1 0 -4.6 0M281.4 762.3a2.3 1.8399999999999999 0 1 0 4.6 0a2.3 1.8399999999999999 0 1 0 -4.6 0M282.1 762.3a2.3 1.8399999999999999 0 1 0 4.6 0a2.3 1.8399999999999999 0 1 0 -4.6 0M284.0 762.6a2.3 1.8399999999999999 0 1 0 4.6 0a2.3 1.8399999999999999 0 1 0 -4.6 0M286.0 764.7a2.3 1.8399999999999999 0 1 0 4.6 0a2.3 1.8399999999999999 0 1 0 -4.6 0M287.4 762.8a2.3 1.8399999999999999 0 1 0 4.6 0a2.3 1.8399999999999999 0 1 0 -4.6 0M290.2 764.3a2.3 1.8399999999999999 0 1 0 4.6 0a2.3 1.8399999999999999 0 1 0 -4.6 0M291.7 765.4a2.3 1.8399999999999999 0 1 0 4.6 0a2.3 1.8399999999999999 0 1 0 -4.6 0M292.9 764.1a2.3 1.8399999999999999 0 1 0 4.6 0a2.3 1.8399999999999999 0 1 0 -4.6 0M295.1 764.5a2.3 1.8399999999999999 0 1 0 4.6 0a2.3 1.8399999999999999 0 1 0 -4.6 0M296.4 762.9a2.3 1.8399999999999999 0 1 0 4.6 0a2.3 1.8399999999999999 0 1 0 -4.6 0M298.8 764.2a2.3 1.8399999999999999 0 1 0 4.6 0a2.3 1.8399999999999999 0 1 0 -4.6 0M300.2 764.9a2.3 1.8399999999999999 0 1 0 4.6 0a2.3 1.8399999999999999 0 1 0 -4.6 0M301.7 761.6a2.3 1.8399999999999999 0 1 0 4.6 0a2.3 1.8399999999999999 0 1 0 -4.6 0M303.6 762.2a2.3 1.8399999999999999 0 1 0 4.6 0a2.3 1.8399999999999999 0 1 0 -4.6 0M305.9 761.5a2.3 1.8399999999999999 0 1 0 4.6 0a2.3 1.8399999999999999 0 1 0 -4.6 0M307.8 762.3a2.3 1.8399999999999999 0 1 0 4.6 0a2.3 1.8399999999999999 0 1 0 -4.6 0M309.2 763.3a2.3 1.8399999999999999 0 1 0 4.6 0a2.3 1.8399999999999999 0 1 0 -4.6 0M311.4 763.4a2.3 1.8399999999999999 0 1 0 4.6 0a2.3 1.8399999999999999 0 1 0 -4.6 0M312.8 762.9a2.3 1.8399999999999999 0 1 0 4.6 0a2.3 1.8399999999999999 0 1 0 -4.6 0M314.4 760.6a2.3 1.8399999999999999 0 1 0 4.6 0a2.3 1.8399999999999999 0 1 0 -4.6 0M316.4 761.6a2.3 1.8399999999999999 0 1 0 4.6 0a2.3 1.8399999999999999 0 1 0 -4.6 0M318.3 763.8a2.3 1.8399999999999999 0 1 0 4.6 0a2.3 1.8399999999999999 0 1 0 -4.6 0M320.7 761.0a2.3 1.8399999999999999 0 1 0 4.6 0a2.3 1.8399999999999999 0 1 0 -4.6 0M321.5 763.1a2.3 1.8399999999999999 0 1 0 4.6 0a2.3 1.8399999999999999 0 1 0 -4.6 0M323.3 760.1a2.3 1.8399999999999999 0 1 0 4.6 0a2.3 1.8399999999999999 0 1 0 -4.6 0M325.6 761.9a2.3 1.8399999999999999 0 1 0 4.6 0a2.3 1.8399999999999999 0 1 0 -4.6 0M327.9 761.5a2.3 1.8399999999999999 0 1 0 4.6 0a2.3 1.8399999999999999 0 1 0 -4.6 0M329.6 758.9a2.3 1.8399999999999999 0 1 0 4.6 0a2.3 1.8399999999999999 0 1 0 -4.6 0M331.2 759.0a2.3 1.8399999999999999 0 1 0 4.6 0a2.3 1.8399999999999999 0 1 0 -4.6 0M332.2 761.4a2.3 1.8399999999999999 0 1 0 4.6 0a2.3 1.8399999999999999 0 1 0 -4.6 0M334.9 757.0a2.3 1.8399999999999999 0 1 0 4.6 0a2.3 1.8399999999999999 0 1 0 -4.6 0M336.5 754.4a2.3 1.8399999999999999 0 1 0 4.6 0a2.3 1.8399999999999999 0 1 0 -4.6 0M337.7 760.3a2.3 1.8399999999999999 0 1 0 4.6 0a2.3 1.8399999999999999 0 1 0 -4.6 0M339.8 754.5a2.3 1.8399999999999999 0 1 0 4.6 0a2.3 1.8399999999999999 0 1 0 -4.6 0M341.1 758.5a2.3 1.8399999999999999 0 1 0 4.6 0a2.3 1.8399999999999999 0 1 0 -4.6 0M343.8 757.9a2.3 1.8399999999999999 0 1 0 4.6 0a2.3 1.8399999999999999 0 1 0 -4.6 0M345.5 757.2a2.3 1.8399999999999999 0 1 0 4.6 0a2.3 1.8399999999999999 0 1 0 -4.6 0M347.4 759.2a2.3 1.8399999999999999 0 1 0 4.6 0a2.3 1.8399999999999999 0 1 0 -4.6 0M349.1 754.5a2.3 1.8399999999999999 0 1 0 4.6 0a2.3 1.8399999999999999 0 1 0 -4.6 0M350.3 755.8a2.3 1.8399999999999999 0 1 0 4.6 0a2.3 1.8399999999999999 0 1 0 -4.6 0M352.8 757.7a2.3 1.8399999999999999 0 1 0 4.6 0a2.3 1.8399999999999999 0 1 0 -4.6 0M353.9 756.9a2.3 1.8399999999999999 0 1 0 4.6 0a2.3 1.8399999999999999 0 1 0 -4.6 0M355.6 758.8a2.3 1.8399999999999999 0 1 0 4.6 0a2.3 1.8399999999999999 0 1 0 -4.6 0M357.7 756.8a2.3 1.8399999999999999 0 1 0 4.6 0a2.3 1.8399999999999999 0 1 0 -4.6 0M359.6 754.7a2.3 1.8399999999999999 0 1 0 4.6 0a2.3 1.8399999999999999 0 1 0 -4.6 0M361.1 759.0a2.3 1.8399999999999999 0 1 0 4.6 0a2.3 1.8399999999999999 0 1 0 -4.6 0M363.3 756.9a2.3 1.8399999999999999 0 1 0 4.6 0a2.3 1.8399999999999999 0 1 0 -4.6 0M365.1 756.0a2.3 1.8399999999999999 0 1 0 4.6 0a2.3 1.8399999999999999 0 1 0 -4.6 0M366.4 754.5a2.3 1.8399999999999999 0 1 0 4.6 0a2.3 1.8399999999999999 0 1 0 -4.6 0M368.7 754.0a2.3 1.8399999999999999 0 1 0 4.6 0a2.3 1.8399999999999999 0 1 0 -4.6 0M370.2 757.0a2.3 1.8399999999999999 0 1 0 4.6 0a2.3 1.8399999999999999 0 1 0 -4.6 0M372.4 757.6a2.3 1.8399999999999999 0 1 0 4.6 0a2.3 1.8399999999999999 0 1 0 -4.6 0M373.7 755.7a2.3 1.8399999999999999 0 1 0 4.6 0a2.3 1.8399999999999999 0 1 0 -4.6 0M376.1 757.1a2.3 1.8399999999999999 0 1 0 4.6 0a2.3 1.8399999999999999 0 1 0 -4.6 0M377.4 757.1a2.3 1.8399999999999999 0 1 0 4.6 0a2.3 1.8399999999999999 0 1 0 -4.6 0M379.4 754.9a2.3 1.8399999999999999 0 1 0 4.6 0a2.3 1.8399999999999999 0 1 0 -4.6 0M381.3 754.0a2.3 1.8399999999999999 0 1 0 4.6 0a2.3 1.8399999999999999 0 1 0 -4.6 0M382.9 756.4a2.3 1.8399999999999999 0 1 0 4.6 0a2.3 1.8399999999999999 0 1 0 -4.6 0M384.4 757.2a2.3 1.8399999999999999 0 1 0 4.6 0a2.3 1.8399999999999999 0 1 0 -4.6 0M387.0 756.1a2.3 1.8399999999999999 0 1 0 4.6 0a2.3 1.8399999999999999 0 1 0 -4.6 0M387.8 760.2a2.3 1.8399999999999999 0 1 0 4.6 0a2.3 1.8399999999999999 0 1 0 -4.6 0M389.8 757.3a2.3 1.8399999999999999 0 1 0 4.6 0a2.3 1.8399999999999999 0 1 0 -4.6 0M391.9 759.1a2.3 1.8399999999999999 0 1 0 4.6 0a2.3 1.8399999999999999 0 1 0 -4.6 0M393.1 753.5a2.3 1.8399999999999999 0 1 0 4.6 0a2.3 1.8399999999999999 0 1 0 -4.6 0M395.0 756.4a2.3 1.8399999999999999 0 1 0 4.6 0a2.3 1.8399999999999999 0 1 0 -4.6 0M397.6 757.5a2.3 1.8399999999999999 0 1 0 4.6 0a2.3 1.8399999999999999 0 1 0 -4.6 0M399.3 758.2a2.3 1.8399999999999999 0 1 0 4.6 0a2.3 1.8399999999999999 0 1 0 -4.6 0M400.9 762.1a2.3 1.8399999999999999 0 1 0 4.6 0a2.3 1.8399999999999999 0 1 0 -4.6 0M403.1 756.9a2.3 1.8399999999999999 0 1 0 4.6 0a2.3 1.8399999999999999 0 1 0 -4.6 0M404.7 755.5a2.3 1.8399999999999999 0 1 0 4.6 0a2.3 1.8399999999999999 0 1 0 -4.6 0M405.9 759.4a2.3 1.8399999999999999 0 1 0 4.6 0a2.3 1.8399999999999999 0 1 0 -4.6 0M408.1 757.2a2.3 1.8399999999999999 0 1 0 4.6 0a2.3 1.8399999999999999 0 1 0 -4.6 0M409.6 757.2a2.3 1.8399999999999999 0 1 0 4.6 0a2.3 1.8399999999999999 0 1 0 -4.6 0M411.8 761.1a2.3 1.8399999999999999 0 1 0 4.6 0a2.3 1.8399999999999999 0 1 0 -4.6 0M413.2 757.0a2.3 1.8399999999999999 0 1 0 4.6 0a2.3 1.8399999999999999 0 1 0 -4.6 0M414.7 756.4a2.3 1.8399999999999999 0 1 0 4.6 0a2.3 1.8399999999999999 0 1 0 -4.6 0M417.4 758.4a2.3 1.8399999999999999 0 1 0 4.6 0a2.3 1.8399999999999999 0 1 0 -4.6 0M418.9 758.9a2.3 1.8399999999999999 0 1 0 4.6 0a2.3 1.8399999999999999 0 1 0 -4.6 0M420.8 757.6a2.3 1.8399999999999999 0 1 0 4.6 0a2.3 1.8399999999999999 0 1 0 -4.6 0M422.4 761.5a2.3 1.8399999999999999 0 1 0 4.6 0a2.3 1.8399999999999999 0 1 0 -4.6 0M424.4 758.8a2.3 1.8399999999999999 0 1 0 4.6 0a2.3 1.8399999999999999 0 1 0 -4.6 0M425.8 757.3a2.3 1.8399999999999999 0 1 0 4.6 0a2.3 1.8399999999999999 0 1 0 -4.6 0M427.7 761.1a2.3 1.8399999999999999 0 1 0 4.6 0a2.3 1.8399999999999999 0 1 0 -4.6 0M428.9 757.5a2.3 1.8399999999999999 0 1 0 4.6 0a2.3 1.8399999999999999 0 1 0 -4.6 0M431.3 759.8a2.3 1.8399999999999999 0 1 0 4.6 0a2.3 1.8399999999999999 0 1 0 -4.6 0M433.4 762.6a2.3 1.8399999999999999 0 1 0 4.6 0a2.3 1.8399999999999999 0 1 0 -4.6 0M435.1 759.4a2.3 1.8399999999999999 0 1 0 4.6 0a2.3 1.8399999999999999 0 1 0 -4.6 0M437.0 760.9a2.3 1.8399999999999999 0 1 0 4.6 0a2.3 1.8399999999999999 0 1 0 -4.6 0M438.4 758.7a2.3 1.8399999999999999 0 1 0 4.6 0a2.3 1.8399999999999999 0 1 0 -4.6 0M440.6 761.2a2.3 1.8399999999999999 0 1 0 4.6 0a2.3 1.8399999999999999 0 1 0 -4.6 0M441.5 757.6a2.3 1.8399999999999999 0 1 0 4.6 0a2.3 1.8399999999999999 0 1 0 -4.6 0M444.2 760.5a2.3 1.8399999999999999 0 1 0 4.6 0a2.3 1.8399999999999999 0 1 0 -4.6 0M445.4 758.8a2.3 1.8399999999999999 0 1 0 4.6 0a2.3 1.8399999999999999 0 1 0 -4.6 0M446.9 760.3a2.3 1.8399999999999999 0 1 0 4.6 0a2.3 1.8399999999999999 0 1 0 -4.6 0M449.3 759.9a2.3 1.8399999999999999 0 1 0 4.6 0a2.3 1.8399999999999999 0 1 0 -4.6 0M450.9 757.4a2.3 1.8399999999999999 0 1 0 4.6 0a2.3 1.8399999999999999 0 1 0 -4.6 0M452.6 759.0a2.3 1.8399999999999999 0 1 0 4.6 0a2.3 1.8399999999999999 0 1 0 -4.6 0M454.9 760.0a2.3 1.8399999999999999 0 1 0 4.6 0a2.3 1.8399999999999999 0 1 0 -4.6 0M455.9 761.4a2.3 1.8399999999999999 0 1 0 4.6 0a2.3 1.8399999999999999 0 1 0 -4.6 0M458.2 757.5a2.3 1.8399999999999999 0 1 0 4.6 0a2.3 1.8399999999999999 0 1 0 -4.6 0M459.8 758.2a2.3 1.8399999999999999 0 1 0 4.6 0a2.3 1.8399999999999999 0 1 0 -4.6 0M461.7 759.9a2.3 1.8399999999999999 0 1 0 4.6 0a2.3 1.8399999999999999 0 1 0 -4.6 0M463.5 758.9a2.3 1.8399999999999999 0 1 0 4.6 0a2.3 1.8399999999999999 0 1 0 -4.6 0M464.8 761.0a2.3 1.8399999999999999 0 1 0 4.6 0a2.3 1.8399999999999999 0 1 0 -4.6 0M467.1 761.0a2.3 1.8399999999999999 0 1 0 4.6 0a2.3 1.8399999999999999 0 1 0 -4.6 0M469.3 760.7a2.3 1.8399999999999999 0 1 0 4.6 0a2.3 1.8399999999999999 0 1 0 -4.6 0M470.3 758.7a2.3 1.8399999999999999 0 1 0 4.6 0a2.3 1.8399999999999999 0 1 0 -4.6 0M471.9 758.8a2.3 1.8399999999999999 0 1 0 4.6 0a2.3 1.8399999999999999 0 1 0 -4.6 0M473.7 760.5a2.3 1.8399999999999999 0 1 0 4.6 0a2.3 1.8399999999999999 0 1 0 -4.6 0M476.0 758.0a2.3 1.8399999999999999 0 1 0 4.6 0a2.3 1.8399999999999999 0 1 0 -4.6 0M478.4 757.9a2.3 1.8399999999999999 0 1 0 4.6 0a2.3 1.8399999999999999 0 1 0 -4.6 0M479.1 758.9a2.3 1.8399999999999999 0 1 0 4.6 0a2.3 1.8399999999999999 0 1 0 -4.6 0M482.0 757.5a2.3 1.8399999999999999 0 1 0 4.6 0a2.3 1.8399999999999999 0 1 0 -4.6 0M483.2 759.6a2.3 1.8399999999999999 0 1 0 4.6 0a2.3 1.8399999999999999 0 1 0 -4.6 0M484.5 759.3a2.3 1.8399999999999999 0 1 0 4.6 0a2.3 1.8399999999999999 0 1 0 -4.6 0M486.7 758.3a2.3 1.8399999999999999 0 1 0 4.6 0a2.3 1.8399999999999999 0 1 0 -4.6 0M488.2 759.2a2.3 1.8399999999999999 0 1 0 4.6 0a2.3 1.8399999999999999 0 1 0 -4.6 0M490.6 757.8a2.3 1.8399999999999999 0 1 0 4.6 0a2.3 1.8399999999999999 0 1 0 -4.6 0M492.2 761.1a2.3 1.8399999999999999 0 1 0 4.6 0a2.3 1.8399999999999999 0 1 0 -4.6 0M493.7 756.7a2.3 1.8399999999999999 0 1 0 4.6 0a2.3 1.8399999999999999 0 1 0 -4.6 0M495.4 760.3a2.3 1.8399999999999999 0 1 0 4.6 0a2.3 1.8399999999999999 0 1 0 -4.6 0M498.0 759.2a2.3 1.8399999999999999 0 1 0 4.6 0a2.3 1.8399999999999999 0 1 0 -4.6 0M499.6 761.2a2.3 1.8399999999999999 0 1 0 4.6 0a2.3 1.8399999999999999 0 1 0 -4.6 0M501.0 757.9a2.3 1.8399999999999999 0 1 0 4.6 0a2.3 1.8399999999999999 0 1 0 -4.6 0M502.8 756.8a2.3 1.8399999999999999 0 1 0 4.6 0a2.3 1.8399999999999999 0 1 0 -4.6 0M505.0 757.1a2.3 1.8399999999999999 0 1 0 4.6 0a2.3 1.8399999999999999 0 1 0 -4.6 0M507.0 757.5a2.3 1.8399999999999999 0 1 0 4.6 0a2.3 1.8399999999999999 0 1 0 -4.6 0M507.8 761.4a2.3 1.8399999999999999 0 1 0 4.6 0a2.3 1.8399999999999999 0 1 0 -4.6 0M509.6 760.1a2.3 1.8399999999999999 0 1 0 4.6 0a2.3 1.8399999999999999 0 1 0 -4.6 0M511.7 759.6a2.3 1.8399999999999999 0 1 0 4.6 0a2.3 1.8399999999999999 0 1 0 -4.6 0M513.6 760.3a2.3 1.8399999999999999 0 1 0 4.6 0a2.3 1.8399999999999999 0 1 0 -4.6 0M514.9 756.9a2.3 1.8399999999999999 0 1 0 4.6 0a2.3 1.8399999999999999 0 1 0 -4.6 0M516.7 758.5a2.3 1.8399999999999999 0 1 0 4.6 0a2.3 1.8399999999999999 0 1 0 -4.6 0M518.7 758.8a2.3 1.8399999999999999 0 1 0 4.6 0a2.3 1.8399999999999999 0 1 0 -4.6 0M520.7 758.0a2.3 1.8399999999999999 0 1 0 4.6 0a2.3 1.8399999999999999 0 1 0 -4.6 0M522.9 760.3a2.3 1.8399999999999999 0 1 0 4.6 0a2.3 1.8399999999999999 0 1 0 -4.6 0M524.5 760.2a2.3 1.8399999999999999 0 1 0 4.6 0a2.3 1.8399999999999999 0 1 0 -4.6 0M525.6 760.2a2.3 1.8399999999999999 0 1 0 4.6 0a2.3 1.8399999999999999 0 1 0 -4.6 0M527.4 757.9a2.3 1.8399999999999999 0 1 0 4.6 0a2.3 1.8399999999999999 0 1 0 -4.6 0M529.7 758.1a2.3 1.8399999999999999 0 1 0 4.6 0a2.3 1.8399999999999999 0 1 0 -4.6 0M532.0 757.7a2.3 1.8399999999999999 0 1 0 4.6 0a2.3 1.8399999999999999 0 1 0 -4.6 0M533.8 756.9a2.3 1.8399999999999999 0 1 0 4.6 0a2.3 1.8399999999999999 0 1 0 -4.6 0M535.0 760.9a2.3 1.8399999999999999 0 1 0 4.6 0a2.3 1.8399999999999999 0 1 0 -4.6 0M537.4 759.6a2.3 1.8399999999999999 0 1 0 4.6 0a2.3 1.8399999999999999 0 1 0 -4.6 0M539.2 758.4a2.3 1.8399999999999999 0 1 0 4.6 0a2.3 1.8399999999999999 0 1 0 -4.6 0M540.4 760.9a2.3 1.8399999999999999 0 1 0 4.6 0a2.3 1.8399999999999999 0 1 0 -4.6 0M542.6 759.5a2.3 1.8399999999999999 0 1 0 4.6 0a2.3 1.8399999999999999 0 1 0 -4.6 0M543.9 757.0a2.3 1.8399999999999999 0 1 0 4.6 0a2.3 1.8399999999999999 0 1 0 -4.6 0M545.5 756.8a2.3 1.8399999999999999 0 1 0 4.6 0a2.3 1.8399999999999999 0 1 0 -4.6 0M547.8 756.9a2.3 1.8399999999999999 0 1 0 4.6 0a2.3 1.8399999999999999 0 1 0 -4.6 0M549.0 758.6a2.3 1.8399999999999999 0 1 0 4.6 0a2.3 1.8399999999999999 0 1 0 -4.6 0M551.5 759.0a2.3 1.8399999999999999 0 1 0 4.6 0a2.3 1.8399999999999999 0 1 0 -4.6 0M553.4 756.9a2.3 1.8399999999999999 0 1 0 4.6 0a2.3 1.8399999999999999 0 1 0 -4.6 0M555.3 759.2a2.3 1.8399999999999999 0 1 0 4.6 0a2.3 1.8399999999999999 0 1 0 -4.6 0M556.6 758.1a2.3 1.8399999999999999 0 1 0 4.6 0a2.3 1.8399999999999999 0 1 0 -4.6 0M558.0 756.5a2.3 1.8399999999999999 0 1 0 4.6 0a2.3 1.8399999999999999 0 1 0 -4.6 0M560.7 759.2a2.3 1.8399999999999999 0 1 0 4.6 0a2.3 1.8399999999999999 0 1 0 -4.6 0M562.4 759.6a2.3 1.8399999999999999 0 1 0 4.6 0a2.3 1.8399999999999999 0 1 0 -4.6 0M564.4 758.7a2.3 1.8399999999999999 0 1 0 4.6 0a2.3 1.8399999999999999 0 1 0 -4.6 0M565.7 757.7a2.3 1.8399999999999999 0 1 0 4.6 0a2.3 1.8399999999999999 0 1 0 -4.6 0M567.6 757.8a2.3 1.8399999999999999 0 1 0 4.6 0a2.3 1.8399999999999999 0 1 0 -4.6 0M569.0 758.4a2.3 1.8399999999999999 0 1 0 4.6 0a2.3 1.8399999999999999 0 1 0 -4.6 0M570.6 757.7a2.3 1.8399999999999999 0 1 0 4.6 0a2.3 1.8399999999999999 0 1 0 -4.6 0M572.5 761.3a2.3 1.8399999999999999 0 1 0 4.6 0a2.3 1.8399999999999999 0 1 0 -4.6 0M574.8 760.1a2.3 1.8399999999999999 0 1 0 4.6 0a2.3 1.8399999999999999 0 1 0 -4.6 0M576.1 758.4a2.3 1.8399999999999999 0 1 0 4.6 0a2.3 1.8399999999999999 0 1 0 -4.6 0M578.4 760.2a2.3 1.8399999999999999 0 1 0 4.6 0a2.3 1.8399999999999999 0 1 0 -4.6 0M579.9 760.9a2.3 1.8399999999999999 0 1 0 4.6 0a2.3 1.8399999999999999 0 1 0 -4.6 0M581.6 760.7a2.3 1.8399999999999999 0 1 0 4.6 0a2.3 1.8399999999999999 0 1 0 -4.6 0M584.1 760.2a2.3 1.8399999999999999 0 1 0 4.6 0a2.3 1.8399999999999999 0 1 0 -4.6 0M584.9 759.0a2.3 1.8399999999999999 0 1 0 4.6 0a2.3 1.8399999999999999 0 1 0 -4.6 0M587.1 760.4a2.3 1.8399999999999999 0 1 0 4.6 0a2.3 1.8399999999999999 0 1 0 -4.6 0M588.5 758.3a2.3 1.8399999999999999 0 1 0 4.6 0a2.3 1.8399999999999999 0 1 0 -4.6 0M591.2 755.9a2.3 1.8399999999999999 0 1 0 4.6 0a2.3 1.8399999999999999 0 1 0 -4.6 0M592.4 759.0a2.3 1.8399999999999999 0 1 0 4.6 0a2.3 1.8399999999999999 0 1 0 -4.6 0M594.0 756.6a2.3 1.8399999999999999 0 1 0 4.6 0a2.3 1.8399999999999999 0 1 0 -4.6 0M595.6 758.2a2.3 1.8399999999999999 0 1 0 4.6 0a2.3 1.8399999999999999 0 1 0 -4.6 0M597.9 760.6a2.3 1.8399999999999999 0 1 0 4.6 0a2.3 1.8399999999999999 0 1 0 -4.6 0M599.5 759.2a2.3 1.8399999999999999 0 1 0 4.6 0a2.3 1.8399999999999999 0 1 0 -4.6 0M601.0 760.4a2.3 1.8399999999999999 0 1 0 4.6 0a2.3 1.8399999999999999 0 1 0 -4.6 0M602.6 757.5a2.3 1.8399999999999999 0 1 0 4.6 0a2.3 1.8399999999999999 0 1 0 -4.6 0M604.9 760.7a2.3 1.8399999999999999 0 1 0 4.6 0a2.3 1.8399999999999999 0 1 0 -4.6 0M606.9 756.6a2.3 1.8399999999999999 0 1 0 4.6 0a2.3 1.8399999999999999 0 1 0 -4.6 0M608.6 757.8a2.3 1.8399999999999999 0 1 0 4.6 0a2.3 1.8399999999999999 0 1 0 -4.6 0M610.8 762.1a2.3 1.8399999999999999 0 1 0 4.6 0a2.3 1.8399999999999999 0 1 0 -4.6 0M612.7 757.5a2.3 1.8399999999999999 0 1 0 4.6 0a2.3 1.8399999999999999 0 1 0 -4.6 0M614.5 756.3a2.3 1.8399999999999999 0 1 0 4.6 0a2.3 1.8399999999999999 0 1 0 -4.6 0M616.1 760.1a2.3 1.8399999999999999 0 1 0 4.6 0a2.3 1.8399999999999999 0 1 0 -4.6 0M617.5 757.2a2.3 1.8399999999999999 0 1 0 4.6 0a2.3 1.8399999999999999 0 1 0 -4.6 0M619.4 761.8a2.3 1.8399999999999999 0 1 0 4.6 0a2.3 1.8399999999999999 0 1 0 -4.6 0M621.0 758.4a2.3 1.8399999999999999 0 1 0 4.6 0a2.3 1.8399999999999999 0 1 0 -4.6 0M622.8 761.6a2.3 1.8399999999999999 0 1 0 4.6 0a2.3 1.8399999999999999 0 1 0 -4.6 0M79.0 997.1a2.3 1.8399999999999999 0 1 0 4.6 0a2.3 1.8399999999999999 0 1 0 -4.6 0M80.8 999.6a2.3 1.8399999999999999 0 1 0 4.6 0a2.3 1.8399999999999999 0 1 0 -4.6 0M82.9 1000.7a2.3 1.8399999999999999 0 1 0 4.6 0a2.3 1.8399999999999999 0 1 0 -4.6 0M84.9 998.5a2.3 1.8399999999999999 0 1 0 4.6 0a2.3 1.8399999999999999 0 1 0 -4.6 0M86.3 998.2a2.3 1.8399999999999999 0 1 0 4.6 0a2.3 1.8399999999999999 0 1 0 -4.6 0M87.9 996.2a2.3 1.8399999999999999 0 1 0 4.6 0a2.3 1.8399999999999999 0 1 0 -4.6 0M89.6 995.0a2.3 1.8399999999999999 0 1 0 4.6 0a2.3 1.8399999999999999 0 1 0 -4.6 0M91.6 998.7a2.3 1.8399999999999999 0 1 0 4.6 0a2.3 1.8399999999999999 0 1 0 -4.6 0M93.3 994.0a2.3 1.8399999999999999 0 1 0 4.6 0a2.3 1.8399999999999999 0 1 0 -4.6 0M95.4 994.7a2.3 1.8399999999999999 0 1 0 4.6 0a2.3 1.8399999999999999 0 1 0 -4.6 0M97.7 995.1a2.3 1.8399999999999999 0 1 0 4.6 0a2.3 1.8399999999999999 0 1 0 -4.6 0M99.3 995.4a2.3 1.8399999999999999 0 1 0 4.6 0a2.3 1.8399999999999999 0 1 0 -4.6 0M100.5 992.7a2.3 1.8399999999999999 0 1 0 4.6 0a2.3 1.8399999999999999 0 1 0 -4.6 0M102.1 995.1a2.3 1.8399999999999999 0 1 0 4.6 0a2.3 1.8399999999999999 0 1 0 -4.6 0M103.9 995.3a2.3 1.8399999999999999 0 1 0 4.6 0a2.3 1.8399999999999999 0 1 0 -4.6 0M106.1 994.0a2.3 1.8399999999999999 0 1 0 4.6 0a2.3 1.8399999999999999 0 1 0 -4.6 0M107.8 995.2a2.3 1.8399999999999999 0 1 0 4.6 0a2.3 1.8399999999999999 0 1 0 -4.6 0M110.0 992.4a2.3 1.8399999999999999 0 1 0 4.6 0a2.3 1.8399999999999999 0 1 0 -4.6 0M111.1 992.7a2.3 1.8399999999999999 0 1 0 4.6 0a2.3 1.8399999999999999 0 1 0 -4.6 0M113.1 991.5a2.3 1.8399999999999999 0 1 0 4.6 0a2.3 1.8399999999999999 0 1 0 -4.6 0M115.4 990.6a2.3 1.8399999999999999 0 1 0 4.6 0a2.3 1.8399999999999999 0 1 0 -4.6 0M117.0 991.5a2.3 1.8399999999999999 0 1 0 4.6 0a2.3 1.8399999999999999 0 1 0 -4.6 0M118.8 988.0a2.3 1.8399999999999999 0 1 0 4.6 0a2.3 1.8399999999999999 0 1 0 -4.6 0M121.0 989.6a2.3 1.8399999999999999 0 1 0 4.6 0a2.3 1.8399999999999999 0 1 0 -4.6 0M121.9 987.0a2.3 1.8399999999999999 0 1 0 4.6 0a2.3 1.8399999999999999 0 1 0 -4.6 0M123.8 988.9a2.3 1.8399999999999999 0 1 0 4.6 0a2.3 1.8399999999999999 0 1 0 -4.6 0M126.0 985.4a2.3 1.8399999999999999 0 1 0 4.6 0a2.3 1.8399999999999999 0 1 0 -4.6 0M127.8 985.7a2.3 1.8399999999999999 0 1 0 4.6 0a2.3 1.8399999999999999 0 1 0 -4.6 0M130.1 983.3a2.3 1.8399999999999999 0 1 0 4.6 0a2.3 1.8399999999999999 0 1 0 -4.6 0M131.9 982.9a2.3 1.8399999999999999 0 1 0 4.6 0a2.3 1.8399999999999999 0 1 0 -4.6 0M133.2 983.7a2.3 1.8399999999999999 0 1 0 4.6 0a2.3 1.8399999999999999 0 1 0 -4.6 0M135.2 981.0a2.3 1.8399999999999999 0 1 0 4.6 0a2.3 1.8399999999999999 0 1 0 -4.6 0M136.9 978.0a2.3 1.8399999999999999 0 1 0 4.6 0a2.3 1.8399999999999999 0 1 0 -4.6 0M138.0 976.1a2.3 1.8399999999999999 0 1 0 4.6 0a2.3 1.8399999999999999 0 1 0 -4.6 0M140.4 976.8a2.3 1.8399999999999999 0 1 0 4.6 0a2.3 1.8399999999999999 0 1 0 -4.6 0M141.8 976.3a2.3 1.8399999999999999 0 1 0 4.6 0a2.3 1.8399999999999999 0 1 0 -4.6 0M143.7 971.5a2.3 1.8399999999999999 0 1 0 4.6 0a2.3 1.8399999999999999 0 1 0 -4.6 0M145.2 967.7a2.3 1.8399999999999999 0 1 0 4.6 0a2.3 1.8399999999999999 0 1 0 -4.6 0M146.8 965.8a2.3 1.8399999999999999 0 1 0 4.6 0a2.3 1.8399999999999999 0 1 0 -4.6 0M149.6 960.8a2.3 1.8399999999999999 0 1 0 4.6 0a2.3 1.8399999999999999 0 1 0 -4.6 0M151.3 953.7a2.3 1.8399999999999999 0 1 0 4.6 0a2.3 1.8399999999999999 0 1 0 -4.6 0M153.1 949.5a2.3 1.8399999999999999 0 1 0 4.6 0a2.3 1.8399999999999999 0 1 0 -4.6 0M154.3 947.2a2.3 1.8399999999999999 0 1 0 4.6 0a2.3 1.8399999999999999 0 1 0 -4.6 0M156.3 946.5a2.3 1.8399999999999999 0 1 0 4.6 0a2.3 1.8399999999999999 0 1 0 -4.6 0M157.8 940.4a2.3 1.8399999999999999 0 1 0 4.6 0a2.3 1.8399999999999999 0 1 0 -4.6 0M160.1 934.8a2.3 1.8399999999999999 0 1 0 4.6 0a2.3 1.8399999999999999 0 1 0 -4.6 0M162.1 931.6a2.3 1.8399999999999999 0 1 0 4.6 0a2.3 1.8399999999999999 0 1 0 -4.6 0M163.9 920.9a2.3 1.8399999999999999 0 1 0 4.6 0a2.3 1.8399999999999999 0 1 0 -4.6 0M165.8 916.3a2.3 1.8399999999999999 0 1 0 4.6 0a2.3 1.8399999999999999 0 1 0 -4.6 0M166.8 914.3a2.3 1.8399999999999999 0 1 0 4.6 0a2.3 1.8399999999999999 0 1 0 -4.6 0M169.1 901.9a2.3 1.8399999999999999 0 1 0 4.6 0a2.3 1.8399999999999999 0 1 0 -4.6 0M170.3 899.6a2.3 1.8399999999999999 0 1 0 4.6 0a2.3 1.8399999999999999 0 1 0 -4.6 0M172.5 891.3a2.3 1.8399999999999999 0 1 0 4.6 0a2.3 1.8399999999999999 0 1 0 -4.6 0M173.8 885.9a2.3 1.8399999999999999 0 1 0 4.6 0a2.3 1.8399999999999999 0 1 0 -4.6 0M176.1 878.8a2.3 1.8399999999999999 0 1 0 4.6 0a2.3 1.8399999999999999 0 1 0 -4.6 0M177.9 877.0a2.3 1.8399999999999999 0 1 0 4.6 0a2.3 1.8399999999999999 0 1 0 -4.6 0M179.5 869.4a2.3 1.8399999999999999 0 1 0 4.6 0a2.3 1.8399999999999999 0 1 0 -4.6 0M181.3 859.7a2.3 1.8399999999999999 0 1 0 4.6 0a2.3 1.8399999999999999 0 1 0 -4.6 0M183.5 855.8a2.3 1.8399999999999999 0 1 0 4.6 0a2.3 1.8399999999999999 0 1 0 -4.6 0M185.0 848.5a2.3 1.8399999999999999 0 1 0 4.6 0a2.3 1.8399999999999999 0 1 0 -4.6 0M186.7 841.4a2.3 1.8399999999999999 0 1 0 4.6 0a2.3 1.8399999999999999 0 1 0 -4.6 0M188.2 833.7a2.3 1.8399999999999999 0 1 0 4.6 0a2.3 1.8399999999999999 0 1 0 -4.6 0M190.1 826.7a2.3 1.8399999999999999 0 1 0 4.6 0a2.3 1.8399999999999999 0 1 0 -4.6 0M192.6 818.4a2.3 1.8399999999999999 0 1 0 4.6 0a2.3 1.8399999999999999 0 1 0 -4.6 0M194.6 813.8a2.3 1.8399999999999999 0 1 0 4.6 0a2.3 1.8399999999999999 0 1 0 -4.6 0M195.6 807.4a2.3 1.8399999999999999 0 1 0 4.6 0a2.3 1.8399999999999999 0 1 0 -4.6 0M198.0 799.9a2.3 1.8399999999999999 0 1 0 4.6 0a2.3 1.8399999999999999 0 1 0 -4.6 0M199.8 795.4a2.3 1.8399999999999999 0 1 0 4.6 0a2.3 1.8399999999999999 0 1 0 -4.6 0M200.8 788.5a2.3 1.8399999999999999 0 1 0 4.6 0a2.3 1.8399999999999999 0 1 0 -4.6 0M202.7 784.5a2.3 1.8399999999999999 0 1 0 4.6 0a2.3 1.8399999999999999 0 1 0 -4.6 0M205.0 780.5a2.3 1.8399999999999999 0 1 0 4.6 0a2.3 1.8399999999999999 0 1 0 -4.6 0M206.3 772.1a2.3 1.8399999999999999 0 1 0 4.6 0a2.3 1.8399999999999999 0 1 0 -4.6 0M208.9 769.3a2.3 1.8399999999999999 0 1 0 4.6 0a2.3 1.8399999999999999 0 1 0 -4.6 0M209.9 764.9a2.3 1.8399999999999999 0 1 0 4.6 0a2.3 1.8399999999999999 0 1 0 -4.6 0M212.2 765.4a2.3 1.8399999999999999 0 1 0 4.6 0a2.3 1.8399999999999999 0 1 0 -4.6 0M213.9 758.8a2.3 1.8399999999999999 0 1 0 4.6 0a2.3 1.8399999999999999 0 1 0 -4.6 0M215.1 758.9a2.3 1.8399999999999999 0 1 0 4.6 0a2.3 1.8399999999999999 0 1 0 -4.6 0M217.7 755.2a2.3 1.8399999999999999 0 1 0 4.6 0a2.3 1.8399999999999999 0 1 0 -4.6 0M218.9 755.8a2.3 1.8399999999999999 0 1 0 4.6 0a2.3 1.8399999999999999 0 1 0 -4.6 0M220.4 744.6a2.3 1.8399999999999999 0 1 0 4.6 0a2.3 1.8399999999999999 0 1 0 -4.6 0M222.1 748.0a2.3 1.8399999999999999 0 1 0 4.6 0a2.3 1.8399999999999999 0 1 0 -4.6 0M224.4 744.8a2.3 1.8399999999999999 0 1 0 4.6 0a2.3 1.8399999999999999 0 1 0 -4.6 0M226.4 741.1a2.3 1.8399999999999999 0 1 0 4.6 0a2.3 1.8399999999999999 0 1 0 -4.6 0M227.7 742.9a2.3 1.8399999999999999 0 1 0 4.6 0a2.3 1.8399999999999999 0 1 0 -4.6 0M230.2 739.8a2.3 1.8399999999999999 0 1 0 4.6 0a2.3 1.8399999999999999 0 1 0 -4.6 0M231.3 743.5a2.3 1.8399999999999999 0 1 0 4.6 0a2.3 1.8399999999999999 0 1 0 -4.6 0M233.8 738.8a2.3 1.8399999999999999 0 1 0 4.6 0a2.3 1.8399999999999999 0 1 0 -4.6 0M234.6 739.9a2.3 1.8399999999999999 0 1 0 4.6 0a2.3 1.8399999999999999 0 1 0 -4.6 0M236.7 737.2a2.3 1.8399999999999999 0 1 0 4.6 0a2.3 1.8399999999999999 0 1 0 -4.6 0M238.4 737.6a2.3 1.8399999999999999 0 1 0 4.6 0a2.3 1.8399999999999999 0 1 0 -4.6 0M240.5 741.0a2.3 1.8399999999999999 0 1 0 4.6 0a2.3 1.8399999999999999 0 1 0 -4.6 0M242.2 742.0a2.3 1.8399999999999999 0 1 0 4.6 0a2.3 1.8399999999999999 0 1 0 -4.6 0M244.0 740.2a2.3 1.8399999999999999 0 1 0 4.6 0a2.3 1.8399999999999999 0 1 0 -4.6 0M246.4 736.5a2.3 1.8399999999999999 0 1 0 4.6 0a2.3 1.8399999999999999 0 1 0 -4.6 0M247.8 737.6a2.3 1.8399999999999999 0 1 0 4.6 0a2.3 1.8399999999999999 0 1 0 -4.6 0M249.6 738.2a2.3 1.8399999999999999 0 1 0 4.6 0a2.3 1.8399999999999999 0 1 0 -4.6 0M251.2 744.4a2.3 1.8399999999999999 0 1 0 4.6 0a2.3 1.8399999999999999 0 1 0 -4.6 0M253.5 747.0a2.3 1.8399999999999999 0 1 0 4.6 0a2.3 1.8399999999999999 0 1 0 -4.6 0M254.9 743.0a2.3 1.8399999999999999 0 1 0 4.6 0a2.3 1.8399999999999999 0 1 0 -4.6 0M257.0 743.7a2.3 1.8399999999999999 0 1 0 4.6 0a2.3 1.8399999999999999 0 1 0 -4.6 0M259.0 745.2a2.3 1.8399999999999999 0 1 0 4.6 0a2.3 1.8399999999999999 0 1 0 -4.6 0M260.4 744.6a2.3 1.8399999999999999 0 1 0 4.6 0a2.3 1.8399999999999999 0 1 0 -4.6 0M262.0 746.6a2.3 1.8399999999999999 0 1 0 4.6 0a2.3 1.8399999999999999 0 1 0 -4.6 0M263.6 749.3a2.3 1.8399999999999999 0 1 0 4.6 0a2.3 1.8399999999999999 0 1 0 -4.6 0M266.1 750.5a2.3 1.8399999999999999 0 1 0 4.6 0a2.3 1.8399999999999999 0 1 0 -4.6 0M267.7 751.8a2.3 1.8399999999999999 0 1 0 4.6 0a2.3 1.8399999999999999 0 1 0 -4.6 0M269.6 753.1a2.3 1.8399999999999999 0 1 0 4.6 0a2.3 1.8399999999999999 0 1 0 -4.6 0M270.7 753.9a2.3 1.8399999999999999 0 1 0 4.6 0a2.3 1.8399999999999999 0 1 0 -4.6 0M272.7 751.2a2.3 1.8399999999999999 0 1 0 4.6 0a2.3 1.8399999999999999 0 1 0 -4.6 0M275.1 756.6a2.3 1.8399999999999999 0 1 0 4.6 0a2.3 1.8399999999999999 0 1 0 -4.6 0M276.1 756.5a2.3 1.8399999999999999 0 1 0 4.6 0a2.3 1.8399999999999999 0 1 0 -4.6 0M278.6 759.6a2.3 1.8399999999999999 0 1 0 4.6 0a2.3 1.8399999999999999 0 1 0 -4.6 0M280.0 759.2a2.3 1.8399999999999999 0 1 0 4.6 0a2.3 1.8399999999999999 0 1 0 -4.6 0M281.4 758.4a2.3 1.8399999999999999 0 1 0 4.6 0a2.3 1.8399999999999999 0 1 0 -4.6 0M283.4 759.2a2.3 1.8399999999999999 0 1 0 4.6 0a2.3 1.8399999999999999 0 1 0 -4.6 0M284.8 760.9a2.3 1.8399999999999999 0 1 0 4.6 0a2.3 1.8399999999999999 0 1 0 -4.6 0M287.3 761.0a2.3 1.8399999999999999 0 1 0 4.6 0a2.3 1.8399999999999999 0 1 0 -4.6 0M289.2 762.2a2.3 1.8399999999999999 0 1 0 4.6 0a2.3 1.8399999999999999 0 1 0 -4.6 0M290.2 765.7a2.3 1.8399999999999999 0 1 0 4.6 0a2.3 1.8399999999999999 0 1 0 -4.6 0M292.3 768.7a2.3 1.8399999999999999 0 1 0 4.6 0a2.3 1.8399999999999999 0 1 0 -4.6 0M294.6 760.1a2.3 1.8399999999999999 0 1 0 4.6 0a2.3 1.8399999999999999 0 1 0 -4.6 0M295.7 762.7a2.3 1.8399999999999999 0 1 0 4.6 0a2.3 1.8399999999999999 0 1 0 -4.6 0M297.9 764.5a2.3 1.8399999999999999 0 1 0 4.6 0a2.3 1.8399999999999999 0 1 0 -4.6 0M300.0 767.5a2.3 1.8399999999999999 0 1 0 4.6 0a2.3 1.8399999999999999 0 1 0 -4.6 0M301.5 766.8a2.3 1.8399999999999999 0 1 0 4.6 0a2.3 1.8399999999999999 0 1 0 -4.6 0M302.8 762.5a2.3 1.8399999999999999 0 1 0 4.6 0a2.3 1.8399999999999999 0 1 0 -4.6 0M305.5 769.2a2.3 1.8399999999999999 0 1 0 4.6 0a2.3 1.8399999999999999 0 1 0 -4.6 0M307.1 765.0a2.3 1.8399999999999999 0 1 0 4.6 0a2.3 1.8399999999999999 0 1 0 -4.6 0M308.7 762.8a2.3 1.8399999999999999 0 1 0 4.6 0a2.3 1.8399999999999999 0 1 0 -4.6 0M310.2 763.8a2.3 1.8399999999999999 0 1 0 4.6 0a2.3 1.8399999999999999 0 1 0 -4.6 0M312.3 762.3a2.3 1.8399999999999999 0 1 0 4.6 0a2.3 1.8399999999999999 0 1 0 -4.6 0M313.9 763.5a2.3 1.8399999999999999 0 1 0 4.6 0a2.3 1.8399999999999999 0 1 0 -4.6 0M315.3 759.0a2.3 1.8399999999999999 0 1 0 4.6 0a2.3 1.8399999999999999 0 1 0 -4.6 0M317.1 764.2a2.3 1.8399999999999999 0 1 0 4.6 0a2.3 1.8399999999999999 0 1 0 -4.6 0M318.8 764.3a2.3 1.8399999999999999 0 1 0 4.6 0a2.3 1.8399999999999999 0 1 0 -4.6 0M320.8 761.0a2.3 1.8399999999999999 0 1 0 4.6 0a2.3 1.8399999999999999 0 1 0 -4.6 0M322.7 758.6a2.3 1.8399999999999999 0 1 0 4.6 0a2.3 1.8399999999999999 0 1 0 -4.6 0M324.9 760.5a2.3 1.8399999999999999 0 1 0 4.6 0a2.3 1.8399999999999999 0 1 0 -4.6 0M326.6 758.2a2.3 1.8399999999999999 0 1 0 4.6 0a2.3 1.8399999999999999 0 1 0 -4.6 0M328.4 760.4a2.3 1.8399999999999999 0 1 0 4.6 0a2.3 1.8399999999999999 0 1 0 -4.6 0M330.5 760.9a2.3 1.8399999999999999 0 1 0 4.6 0a2.3 1.8399999999999999 0 1 0 -4.6 0M331.4 756.5a2.3 1.8399999999999999 0 1 0 4.6 0a2.3 1.8399999999999999 0 1 0 -4.6 0M333.6 755.8a2.3 1.8399999999999999 0 1 0 4.6 0a2.3 1.8399999999999999 0 1 0 -4.6 0M335.0 755.6a2.3 1.8399999999999999 0 1 0 4.6 0a2.3 1.8399999999999999 0 1 0 -4.6 0M337.2 758.5a2.3 1.8399999999999999 0 1 0 4.6 0a2.3 1.8399999999999999 0 1 0 -4.6 0M338.6 759.4a2.3 1.8399999999999999 0 1 0 4.6 0a2.3 1.8399999999999999 0 1 0 -4.6 0M340.4 759.2a2.3 1.8399999999999999 0 1 0 4.6 0a2.3 1.8399999999999999 0 1 0 -4.6 0M342.2 757.5a2.3 1.8399999999999999 0 1 0 4.6 0a2.3 1.8399999999999999 0 1 0 -4.6 0M344.3 755.9a2.3 1.8399999999999999 0 1 0 4.6 0a2.3 1.8399999999999999 0 1 0 -4.6 0M346.6 755.9a2.3 1.8399999999999999 0 1 0 4.6 0a2.3 1.8399999999999999 0 1 0 -4.6 0M347.8 759.0a2.3 1.8399999999999999 0 1 0 4.6 0a2.3 1.8399999999999999 0 1 0 -4.6 0M350.1 756.2a2.3 1.8399999999999999 0 1 0 4.6 0a2.3 1.8399999999999999 0 1 0 -4.6 0M351.3 756.4a2.3 1.8399999999999999 0 1 0 4.6 0a2.3 1.8399999999999999 0 1 0 -4.6 0M353.2 756.2a2.3 1.8399999999999999 0 1 0 4.6 0a2.3 1.8399999999999999 0 1 0 -4.6 0M355.2 756.3a2.3 1.8399999999999999 0 1 0 4.6 0a2.3 1.8399999999999999 0 1 0 -4.6 0M356.5 756.6a2.3 1.8399999999999999 0 1 0 4.6 0a2.3 1.8399999999999999 0 1 0 -4.6 0M358.7 755.3a2.3 1.8399999999999999 0 1 0 4.6 0a2.3 1.8399999999999999 0 1 0 -4.6 0M360.7 756.0a2.3 1.8399999999999999 0 1 0 4.6 0a2.3 1.8399999999999999 0 1 0 -4.6 0M362.8 755.9a2.3 1.8399999999999999 0 1 0 4.6 0a2.3 1.8399999999999999 0 1 0 -4.6 0M363.6 757.4a2.3 1.8399999999999999 0 1 0 4.6 0a2.3 1.8399999999999999 0 1 0 -4.6 0M366.3 755.6a2.3 1.8399999999999999 0 1 0 4.6 0a2.3 1.8399999999999999 0 1 0 -4.6 0M367.8 756.5a2.3 1.8399999999999999 0 1 0 4.6 0a2.3 1.8399999999999999 0 1 0 -4.6 0M369.6 759.8a2.3 1.8399999999999999 0 1 0 4.6 0a2.3 1.8399999999999999 0 1 0 -4.6 0M370.8 755.6a2.3 1.8399999999999999 0 1 0 4.6 0a2.3 1.8399999999999999 0 1 0 -4.6 0M373.6 756.9a2.3 1.8399999999999999 0 1 0 4.6 0a2.3 1.8399999999999999 0 1 0 -4.6 0M374.6 755.0a2.3 1.8399999999999999 0 1 0 4.6 0a2.3 1.8399999999999999 0 1 0 -4.6 0M376.8 756.9a2.3 1.8399999999999999 0 1 0 4.6 0a2.3 1.8399999999999999 0 1 0 -4.6 0M378.5 756.9a2.3 1.8399999999999999 0 1 0 4.6 0a2.3 1.8399999999999999 0 1 0 -4.6 0M380.8 756.5a2.3 1.8399999999999999 0 1 0 4.6 0a2.3 1.8399999999999999 0 1 0 -4.6 0M382.2 756.9a2.3 1.8399999999999999 0 1 0 4.6 0a2.3 1.8399999999999999 0 1 0 -4.6 0M384.5 757.7a2.3 1.8399999999999999 0 1 0 4.6 0a2.3 1.8399999999999999 0 1 0 -4.6 0M385.3 760.0a2.3 1.8399999999999999 0 1 0 4.6 0a2.3 1.8399999999999999 0 1 0 -4.6 0M387.6 754.1a2.3 1.8399999999999999 0 1 0 4.6 0a2.3 1.8399999999999999 0 1 0 -4.6 0M389.3 759.9a2.3 1.8399999999999999 0 1 0 4.6 0a2.3 1.8399999999999999 0 1 0 -4.6 0M391.0 757.9a2.3 1.8399999999999999 0 1 0 4.6 0a2.3 1.8399999999999999 0 1 0 -4.6 0M393.0 756.4a2.3 1.8399999999999999 0 1 0 4.6 0a2.3 1.8399999999999999 0 1 0 -4.6 0M394.7 757.0a2.3 1.8399999999999999 0 1 0 4.6 0a2.3 1.8399999999999999 0 1 0 -4.6 0M396.2 756.8a2.3 1.8399999999999999 0 1 0 4.6 0a2.3 1.8399999999999999 0 1 0 -4.6 0M398.4 756.5a2.3 1.8399999999999999 0 1 0 4.6 0a2.3 1.8399999999999999 0 1 0 -4.6 0M399.5 755.8a2.3 1.8399999999999999 0 1 0 4.6 0a2.3 1.8399999999999999 0 1 0 -4.6 0M401.8 757.5a2.3 1.8399999999999999 0 1 0 4.6 0a2.3 1.8399999999999999 0 1 0 -4.6 0M403.5 753.3a2.3 1.8399999999999999 0 1 0 4.6 0a2.3 1.8399999999999999 0 1 0 -4.6 0M405.0 759.9a2.3 1.8399999999999999 0 1 0 4.6 0a2.3 1.8399999999999999 0 1 0 -4.6 0M407.2 757.9a2.3 1.8399999999999999 0 1 0 4.6 0a2.3 1.8399999999999999 0 1 0 -4.6 0M409.1 759.0a2.3 1.8399999999999999 0 1 0 4.6 0a2.3 1.8399999999999999 0 1 0 -4.6 0M410.3 759.3a2.3 1.8399999999999999 0 1 0 4.6 0a2.3 1.8399999999999999 0 1 0 -4.6 0M412.3 758.0a2.3 1.8399999999999999 0 1 0 4.6 0a2.3 1.8399999999999999 0 1 0 -4.6 0M413.8 756.2a2.3 1.8399999999999999 0 1 0 4.6 0a2.3 1.8399999999999999 0 1 0 -4.6 0M416.2 759.8a2.3 1.8399999999999999 0 1 0 4.6 0a2.3 1.8399999999999999 0 1 0 -4.6 0M417.4 759.9a2.3 1.8399999999999999 0 1 0 4.6 0a2.3 1.8399999999999999 0 1 0 -4.6 0M419.4 757.6a2.3 1.8399999999999999 0 1 0 4.6 0a2.3 1.8399999999999999 0 1 0 -4.6 0M421.4 758.0a2.3 1.8399999999999999 0 1 0 4.6 0a2.3 1.8399999999999999 0 1 0 -4.6 0M423.2 755.7a2.3 1.8399999999999999 0 1 0 4.6 0a2.3 1.8399999999999999 0 1 0 -4.6 0M424.5 757.2a2.3 1.8399999999999999 0 1 0 4.6 0a2.3 1.8399999999999999 0 1 0 -4.6 0M427.4 758.6a2.3 1.8399999999999999 0 1 0 4.6 0a2.3 1.8399999999999999 0 1 0 -4.6 0M428.3 759.6a2.3 1.8399999999999999 0 1 0 4.6 0a2.3 1.8399999999999999 0 1 0 -4.6 0M430.6 758.7a2.3 1.8399999999999999 0 1 0 4.6 0a2.3 1.8399999999999999 0 1 0 -4.6 0M431.9 759.4a2.3 1.8399999999999999 0 1 0 4.6 0a2.3 1.8399999999999999 0 1 0 -4.6 0M434.1 761.4a2.3 1.8399999999999999 0 1 0 4.6 0a2.3 1.8399999999999999 0 1 0 -4.6 0M435.6 759.2a2.3 1.8399999999999999 0 1 0 4.6 0a2.3 1.8399999999999999 0 1 0 -4.6 0M437.4 759.5a2.3 1.8399999999999999 0 1 0 4.6 0a2.3 1.8399999999999999 0 1 0 -4.6 0M439.4 759.6a2.3 1.8399999999999999 0 1 0 4.6 0a2.3 1.8399999999999999 0 1 0 -4.6 0M441.3 759.9a2.3 1.8399999999999999 0 1 0 4.6 0a2.3 1.8399999999999999 0 1 0 -4.6 0M443.1 756.5a2.3 1.8399999999999999 0 1 0 4.6 0a2.3 1.8399999999999999 0 1 0 -4.6 0M445.0 758.1a2.3 1.8399999999999999 0 1 0 4.6 0a2.3 1.8399999999999999 0 1 0 -4.6 0M446.3 757.7a2.3 1.8399999999999999 0 1 0 4.6 0a2.3 1.8399999999999999 0 1 0 -4.6 0M447.9 760.3a2.3 1.8399999999999999 0 1 0 4.6 0a2.3 1.8399999999999999 0 1 0 -4.6 0M449.9 761.0a2.3 1.8399999999999999 0 1 0 4.6 0a2.3 1.8399999999999999 0 1 0 -4.6 0M451.7 759.8a2.3 1.8399999999999999 0 1 0 4.6 0a2.3 1.8399999999999999 0 1 0 -4.6 0M453.9 758.9a2.3 1.8399999999999999 0 1 0 4.6 0a2.3 1.8399999999999999 0 1 0 -4.6 0M455.4 759.9a2.3 1.8399999999999999 0 1 0 4.6 0a2.3 1.8399999999999999 0 1 0 -4.6 0M457.1 759.6a2.3 1.8399999999999999 0 1 0 4.6 0a2.3 1.8399999999999999 0 1 0 -4.6 0M458.6 757.7a2.3 1.8399999999999999 0 1 0 4.6 0a2.3 1.8399999999999999 0 1 0 -4.6 0M461.0 758.8a2.3 1.8399999999999999 0 1 0 4.6 0a2.3 1.8399999999999999 0 1 0 -4.6 0M462.2 760.9a2.3 1.8399999999999999 0 1 0 4.6 0a2.3 1.8399999999999999 0 1 0 -4.6 0M464.5 760.0a2.3 1.8399999999999999 0 1 0 4.6 0a2.3 1.8399999999999999 0 1 0 -4.6 0M466.5 760.3a2.3 1.8399999999999999 0 1 0 4.6 0a2.3 1.8399999999999999 0 1 0 -4.6 0M468.2 759.0a2.3 1.8399999999999999 0 1 0 4.6 0a2.3 1.8399999999999999 0 1 0 -4.6 0M469.4 761.2a2.3 1.8399999999999999 0 1 0 4.6 0a2.3 1.8399999999999999 0 1 0 -4.6 0M471.5 759.5a2.3 1.8399999999999999 0 1 0 4.6 0a2.3 1.8399999999999999 0 1 0 -4.6 0M474.0 758.1a2.3 1.8399999999999999 0 1 0 4.6 0a2.3 1.8399999999999999 0 1 0 -4.6 0M474.7 759.2a2.3 1.8399999999999999 0 1 0 4.6 0a2.3 1.8399999999999999 0 1 0 -4.6 0M477.2 760.7a2.3 1.8399999999999999 0 1 0 4.6 0a2.3 1.8399999999999999 0 1 0 -4.6 0M478.7 760.2a2.3 1.8399999999999999 0 1 0 4.6 0a2.3 1.8399999999999999 0 1 0 -4.6 0M480.7 758.9a2.3 1.8399999999999999 0 1 0 4.6 0a2.3 1.8399999999999999 0 1 0 -4.6 0M482.3 758.3a2.3 1.8399999999999999 0 1 0 4.6 0a2.3 1.8399999999999999 0 1 0 -4.6 0M483.7 757.7a2.3 1.8399999999999999 0 1 0 4.6 0a2.3 1.8399999999999999 0 1 0 -4.6 0M486.0 759.3a2.3 1.8399999999999999 0 1 0 4.6 0a2.3 1.8399999999999999 0 1 0 -4.6 0M487.2 761.3a2.3 1.8399999999999999 0 1 0 4.6 0a2.3 1.8399999999999999 0 1 0 -4.6 0M490.0 756.7a2.3 1.8399999999999999 0 1 0 4.6 0a2.3 1.8399999999999999 0 1 0 -4.6 0M491.7 758.5a2.3 1.8399999999999999 0 1 0 4.6 0a2.3 1.8399999999999999 0 1 0 -4.6 0M493.0 758.3a2.3 1.8399999999999999 0 1 0 4.6 0a2.3 1.8399999999999999 0 1 0 -4.6 0M495.0 758.5a2.3 1.8399999999999999 0 1 0 4.6 0a2.3 1.8399999999999999 0 1 0 -4.6 0M496.8 760.7a2.3 1.8399999999999999 0 1 0 4.6 0a2.3 1.8399999999999999 0 1 0 -4.6 0M499.1 759.5a2.3 1.8399999999999999 0 1 0 4.6 0a2.3 1.8399999999999999 0 1 0 -4.6 0M499.8 758.5a2.3 1.8399999999999999 0 1 0 4.6 0a2.3 1.8399999999999999 0 1 0 -4.6 0M501.9 757.2a2.3 1.8399999999999999 0 1 0 4.6 0a2.3 1.8399999999999999 0 1 0 -4.6 0M503.8 758.8a2.3 1.8399999999999999 0 1 0 4.6 0a2.3 1.8399999999999999 0 1 0 -4.6 0M506.0 764.0a2.3 1.8399999999999999 0 1 0 4.6 0a2.3 1.8399999999999999 0 1 0 -4.6 0M507.7 759.3a2.3 1.8399999999999999 0 1 0 4.6 0a2.3 1.8399999999999999 0 1 0 -4.6 0M509.2 758.3a2.3 1.8399999999999999 0 1 0 4.6 0a2.3 1.8399999999999999 0 1 0 -4.6 0M510.5 756.7a2.3 1.8399999999999999 0 1 0 4.6 0a2.3 1.8399999999999999 0 1 0 -4.6 0M513.0 757.7a2.3 1.8399999999999999 0 1 0 4.6 0a2.3 1.8399999999999999 0 1 0 -4.6 0M514.5 754.7a2.3 1.8399999999999999 0 1 0 4.6 0a2.3 1.8399999999999999 0 1 0 -4.6 0M516.0 756.5a2.3 1.8399999999999999 0 1 0 4.6 0a2.3 1.8399999999999999 0 1 0 -4.6 0M518.4 756.6a2.3 1.8399999999999999 0 1 0 4.6 0a2.3 1.8399999999999999 0 1 0 -4.6 0M519.9 757.2a2.3 1.8399999999999999 0 1 0 4.6 0a2.3 1.8399999999999999 0 1 0 -4.6 0M521.6 761.0a2.3 1.8399999999999999 0 1 0 4.6 0a2.3 1.8399999999999999 0 1 0 -4.6 0M523.3 757.4a2.3 1.8399999999999999 0 1 0 4.6 0a2.3 1.8399999999999999 0 1 0 -4.6 0M525.4 757.8a2.3 1.8399999999999999 0 1 0 4.6 0a2.3 1.8399999999999999 0 1 0 -4.6 0M526.9 759.6a2.3 1.8399999999999999 0 1 0 4.6 0a2.3 1.8399999999999999 0 1 0 -4.6 0M528.8 757.8a2.3 1.8399999999999999 0 1 0 4.6 0a2.3 1.8399999999999999 0 1 0 -4.6 0M531.3 758.0a2.3 1.8399999999999999 0 1 0 4.6 0a2.3 1.8399999999999999 0 1 0 -4.6 0M532.5 759.5a2.3 1.8399999999999999 0 1 0 4.6 0a2.3 1.8399999999999999 0 1 0 -4.6 0M534.0 758.9a2.3 1.8399999999999999 0 1 0 4.6 0a2.3 1.8399999999999999 0 1 0 -4.6 0M536.2 759.1a2.3 1.8399999999999999 0 1 0 4.6 0a2.3 1.8399999999999999 0 1 0 -4.6 0M538.4 758.3a2.3 1.8399999999999999 0 1 0 4.6 0a2.3 1.8399999999999999 0 1 0 -4.6 0M540.1 759.4a2.3 1.8399999999999999 0 1 0 4.6 0a2.3 1.8399999999999999 0 1 0 -4.6 0M541.7 757.8a2.3 1.8399999999999999 0 1 0 4.6 0a2.3 1.8399999999999999 0 1 0 -4.6 0M543.8 761.8a2.3 1.8399999999999999 0 1 0 4.6 0a2.3 1.8399999999999999 0 1 0 -4.6 0M545.4 759.1a2.3 1.8399999999999999 0 1 0 4.6 0a2.3 1.8399999999999999 0 1 0 -4.6 0M547.1 761.4a2.3 1.8399999999999999 0 1 0 4.6 0a2.3 1.8399999999999999 0 1 0 -4.6 0M548.6 759.5a2.3 1.8399999999999999 0 1 0 4.6 0a2.3 1.8399999999999999 0 1 0 -4.6 0M550.0 757.8a2.3 1.8399999999999999 0 1 0 4.6 0a2.3 1.8399999999999999 0 1 0 -4.6 0M552.5 758.6a2.3 1.8399999999999999 0 1 0 4.6 0a2.3 1.8399999999999999 0 1 0 -4.6 0M554.2 758.8a2.3 1.8399999999999999 0 1 0 4.6 0a2.3 1.8399999999999999 0 1 0 -4.6 0M556.4 758.6a2.3 1.8399999999999999 0 1 0 4.6 0a2.3 1.8399999999999999 0 1 0 -4.6 0M557.4 756.1a2.3 1.8399999999999999 0 1 0 4.6 0a2.3 1.8399999999999999 0 1 0 -4.6 0M559.9 760.5a2.3 1.8399999999999999 0 1 0 4.6 0a2.3 1.8399999999999999 0 1 0 -4.6 0M560.9 757.2a2.3 1.8399999999999999 0 1 0 4.6 0a2.3 1.8399999999999999 0 1 0 -4.6 0M563.5 761.2a2.3 1.8399999999999999 0 1 0 4.6 0a2.3 1.8399999999999999 0 1 0 -4.6 0M565.4 759.4a2.3 1.8399999999999999 0 1 0 4.6 0a2.3 1.8399999999999999 0 1 0 -4.6 0M566.0 758.4a2.3 1.8399999999999999 0 1 0 4.6 0a2.3 1.8399999999999999 0 1 0 -4.6 0M568.2 760.1a2.3 1.8399999999999999 0 1 0 4.6 0a2.3 1.8399999999999999 0 1 0 -4.6 0M570.8 758.3a2.3 1.8399999999999999 0 1 0 4.6 0a2.3 1.8399999999999999 0 1 0 -4.6 0M572.5 757.5a2.3 1.8399999999999999 0 1 0 4.6 0a2.3 1.8399999999999999 0 1 0 -4.6 0M574.0 760.6a2.3 1.8399999999999999 0 1 0 4.6 0a2.3 1.8399999999999999 0 1 0 -4.6 0M575.1 758.8a2.3 1.8399999999999999 0 1 0 4.6 0a2.3 1.8399999999999999 0 1 0 -4.6 0M576.7 759.3a2.3 1.8399999999999999 0 1 0 4.6 0a2.3 1.8399999999999999 0 1 0 -4.6 0M578.8 761.9a2.3 1.8399999999999999 0 1 0 4.6 0a2.3 1.8399999999999999 0 1 0 -4.6 0M581.4 759.0a2.3 1.8399999999999999 0 1 0 4.6 0a2.3 1.8399999999999999 0 1 0 -4.6 0M583.1 760.0a2.3 1.8399999999999999 0 1 0 4.6 0a2.3 1.8399999999999999 0 1 0 -4.6 0M584.4 756.5a2.3 1.8399999999999999 0 1 0 4.6 0a2.3 1.8399999999999999 0 1 0 -4.6 0M586.6 760.2a2.3 1.8399999999999999 0 1 0 4.6 0a2.3 1.8399999999999999 0 1 0 -4.6 0M588.6 755.9a2.3 1.8399999999999999 0 1 0 4.6 0a2.3 1.8399999999999999 0 1 0 -4.6 0M589.6 759.6a2.3 1.8399999999999999 0 1 0 4.6 0a2.3 1.8399999999999999 0 1 0 -4.6 0M592.1 755.5a2.3 1.8399999999999999 0 1 0 4.6 0a2.3 1.8399999999999999 0 1 0 -4.6 0M593.2 757.8a2.3 1.8399999999999999 0 1 0 4.6 0a2.3 1.8399999999999999 0 1 0 -4.6 0M595.0 758.0a2.3 1.8399999999999999 0 1 0 4.6 0a2.3 1.8399999999999999 0 1 0 -4.6 0M596.5 757.4a2.3 1.8399999999999999 0 1 0 4.6 0a2.3 1.8399999999999999 0 1 0 -4.6 0M598.4 757.3a2.3 1.8399999999999999 0 1 0 4.6 0a2.3 1.8399999999999999 0 1 0 -4.6 0M600.7 756.5a2.3 1.8399999999999999 0 1 0 4.6 0a2.3 1.8399999999999999 0 1 0 -4.6 0M601.8 755.9a2.3 1.8399999999999999 0 1 0 4.6 0a2.3 1.8399999999999999 0 1 0 -4.6 0M604.3 759.3a2.3 1.8399999999999999 0 1 0 4.6 0a2.3 1.8399999999999999 0 1 0 -4.6 0M605.6 760.8a2.3 1.8399999999999999 0 1 0 4.6 0a2.3 1.8399999999999999 0 1 0 -4.6 0M608.1 763.2a2.3 1.8399999999999999 0 1 0 4.6 0a2.3 1.8399999999999999 0 1 0 -4.6 0M609.1 759.4a2.3 1.8399999999999999 0 1 0 4.6 0a2.3 1.8399999999999999 0 1 0 -4.6 0M611.0 757.6a2.3 1.8399999999999999 0 1 0 4.6 0a2.3 1.8399999999999999 0 1 0 -4.6 0M612.9 758.2a2.3 1.8399999999999999 0 1 0 4.6 0a2.3 1.8399999999999999 0 1 0 -4.6 0M615.0 758.6a2.3 1.8399999999999999 0 1 0 4.6 0a2.3 1.8399999999999999 0 1 0 -4.6 0M617.1 759.4a2.3 1.8399999999999999 0 1 0 4.6 0a2.3 1.8399999999999999 0 1 0 -4.6 0M618.8 759.9a2.3 1.8399999999999999 0 1 0 4.6 0a2.3 1.8399999999999999 0 1 0 -4.6 0M620.6 759.3a2.3 1.8399999999999999 0 1 0 4.6 0a2.3 1.8399999999999999 0 1 0 -4.6 0M622.3 758.2a2.3 1.8399999999999999 0 1 0 4.6 0a2.3 1.8399999999999999 0 1 0 -4.6 0M624.0 761.8a2.3 1.8399999999999999 0 1 0 4.6 0a2.3 1.8399999999999999 0 1 0 -4.6 0M89.3 978.4a2.3 1.8399999999999999 0 1 0 4.6 0a2.3 1.8399999999999999 0 1 0 -4.6 0M93.3 979.7a2.3 1.8399999999999999 0 1 0 4.6 0a2.3 1.8399999999999999 0 1 0 -4.6 0M97.3 981.7a2.3 1.8399999999999999 0 1 0 4.6 0a2.3 1.8399999999999999 0 1 0 -4.6 0M101.2 980.3a2.3 1.8399999999999999 0 1 0 4.6 0a2.3 1.8399999999999999 0 1 0 -4.6 0M105.2 977.1a2.3 1.8399999999999999 0 1 0 4.6 0a2.3 1.8399999999999999 0 1 0 -4.6 0M109.2 975.1a2.3 1.8399999999999999 0 1 0 4.6 0a2.3 1.8399999999999999 0 1 0 -4.6 0" fill="#000"/>
<path d="M69.7 994.4L70.6 994.2L71.6 994.0L72.5 993.8L73.4 993.6L74.4 993.5L75.3 993.3L76.2 993.1L77.2 992.9L78.1 992.7L79.0 992.4L80.0 992.2L80.9 992.0L81.8 991.8L82.8 991.5L83.7 991.3L84.6 991.0L85.6 990.8L86.5 990.5L87.4 990.2L88.3 990.0L89.3 989.7L90.2 989.4L91.1 989.0L92.1 988.7L93.0 988.4L93.9 988.0L94.9 987.7L95.8 987.3L96.7 986.9L97.7 986.5L98.6 986.1L99.5 985.7L100.5 985.3L101.4 984.8L102.3 984.3L103.3 983.9L104.2 983.3L105.1 982.8L106.1 982.3L107.0 981.7L107.9 981.1L108.9 980.5L109.8 979.9L110.7 979.2L111.7 978.5L112.6 977.8L113.5 977.1L114.5 976.3L115.4 975.5L116.3 974.7L117.3 973.9L118.2 973.0L119.1 972.2L120.0 971.3L121.0 970.3L121.9 969.4L122.8 968.4L123.8 967.4L124.7 966.3L125.6 965.2L126.6 964.1L127.5 962.9L128.4 961.6L129.4 960.3L130.3 958.9L131.2 957.5L132.2 955.9L133.1 954.2L134.0 952.4L135.0 950.5L135.9 948.5L136.8 946.3L137.8 944.0L138.7 941.5L139.6 939.0L140.6 936.4L141.5 933.6L142.4 930.7L143.4 927.8L144.3 924.8L145.2 921.7L146.2 918.5L147.1 915.4L148.0 912.2L149.0 908.9L149.9 905.7L150.8 902.4L151.7 899.2L152.7 895.9L153.6 892.7L154.5 889.5L155.5 886.3L156.4 883.2L157.3 880.0L158.3 876.9L159.2 873.8L160.1 870.7L161.1 867.6L162.0 864.5L162.9 861.4L163.9 858.3L164.8 855.2L165.7 852.1L166.7 848.9L167.6 845.7L168.5 842.5L169.5 839.2L170.4 835.8L171.3 832.5L172.3 829.1L173.2 825.7L174.1 822.2L175.1 818.8L176.0 815.3L176.9 811.9L177.9 808.4L178.8 805.0L179.7 801.5L180.7 798.2L181.6 794.9L182.5 791.7L183.5 788.5L184.4 785.5L185.3 782.6L186.2 779.8L187.2 777.1L188.1 774.5L189.0 772.0L190.0 769.7L190.9 767.4L191.8 765.3L192.8 763.3L193.7 761.4L194.6 759.6L195.6 757.9L196.5 756.3L197.4 754.8L198.4 753.4L199.3 752.0L200.2 750.7L201.2 749.5L202.1 748.3L203.0 747.2L204.0 746.1L204.9 745.1L205.8 744.2L206.8 743.3L207.7 742.4L208.6 741.6L209.6 740.9L210.5 740.2L211.4 739.6L212.4 739.0L213.3 738.5L214.2 738.0L215.2 737.6L216.1 737.2L217.0 736.9L217.9 736.6L218.9 736.3L219.8 736.2L220.7 736.0L221.7 735.9L222.6 735.9L223.5 735.9L224.5 736.0L225.4 736.1L226.3 736.2L227.3 736.4L228.2 736.6L229.1 736.9L230.1 737.2L231.0 737.5L231.9 737.9L232.9 738.3L233.8 738.7L234.7 739.1L235.7 739.6L236.6 740.1L237.5 740.6L238.5 741.1L239.4 741.7L240.3 742.2L241.3 742.8L242.2 743.4L243.1 743.9L244.1 744.5L245.0 745.1L245.9 745.7L246.9 746.3L247.8 747.0L248.7 747.6L249.6 748.1L250.6 748.7L251.5 749.3L252.4 749.9L253.4 750.4L254.3 751.0L255.2 751.5L256.2 752.1L257.1 752.6L258.0 753.1L259.0 753.6L259.9 754.0L260.8 754.5L261.8 754.9L262.7 755.3L263.6 755.7L264.6 756.1L265.5 756.4L266.4 756.8L267.4 757.1L268.3 757.4L269.2 757.7L270.2 758.0L271.1 758.3L272.0 758.5L273.0 758.7L273.9 759.0L274.8 759.2L275.8 759.4L276.7 759.6L277.6 759.8L278.6 760.0L279.5 760.1L280.4 760.3L281.3 760.5L282.3 760.6L283.2 760.8L284.1 760.9L285.1 761.1L286.0 761.2L286.9 761.3L287.9 761.5L288.8 761.6L289.7 761.7L290.7 761.8L291.6 761.9L292.5 761.9L293.5 762.0L294.4 762.1L295.3 762.1L296.3 762.1L297.2 762.2L298.1 762.2L299.1 762.2L300.0 762.2L300.9 762.2L301.9 762.1L302.8 762.1L303.7 762.0L304.7 761.9L305.6 761.9L306.5 761.8L307.5 761.7L308.4 761.6L309.3 761.4L310.3 761.3L311.2 761.2L312.1 761.0L313.1 760.9L314.0 760.7L314.9 760.5L315.8 760.4L316.8 760.2L317.7 760.0L318.6 759.8L319.6 759.6L320.5 759.4L321.4 759.2L322.4 759.0L323.3 758.9L324.2 758.7L325.2 758.5L326.1 758.3L327.0 758.1L328.0 757.9L328.9 757.7L329.8 757.5L330.8 757.3L331.7 757.2L332.6 757.0L333.6 756.8L334.5 756.7L335.4 756.5L336.4 756.4L337.3 756.2L338.2 756.1L339.2 756.0L340.1 755.8L341.0 755.7L342.0 755.6L342.9 755.5L343.8 755.4L344.8 755.3L345.7 755.2L346.6 755.1L347.5 755.0L348.5 754.9L349.4 754.8L350.3 754.8L351.3 754.7L352.2 754.6L353.1 754.6L354.1 754.5L355.0 754.5L355.9 754.4L356.9 754.4L357.8 754.4L358.7 754.3L359.7 754.3L360.6 754.3L361.5 754.3L362.5 754.2L363.4 754.2L364.3 754.2L365.3 754.2L366.2 754.2L367.1 754.2L368.1 754.2L369.0 754.2L369.9 754.3L370.9 754.3L371.8 754.3L372.7 754.3L373.7 754.3L374.6 754.4L375.5 754.4L376.5 754.4L377.4 754.5L378.3 754.5L379.2 754.6L380.2 754.6L381.1 754.6L382.0 754.7L383.0 754.7L383.9 754.8L384.8 754.8L385.8 754.9L386.7 754.9L387.6 755.0L388.6 755.0L389.5 755.1L390.4 755.2L391.4 755.2L392.3 755.3L393.2 755.3L394.2 755.4L395.1 755.5L396.0 755.5L397.0 755.6L397.9 755.6L398.8 755.7L399.8 755.7L400.7 755.8L401.6 755.9L402.6 755.9L403.5 756.0L404.4 756.0L405.4 756.1L406.3 756.1L407.2 756.2L408.2 756.2L409.1 756.3L410.0 756.3L411.0 756.4L411.9 756.4L412.8 756.5L413.7 756.5L414.7 756.6L415.6 756.6L416.5 756.7L417.5 756.7L418.4 756.7L419.3 756.8L420.3 756.8L421.2 756.8L422.1 756.9L423.1 756.9L424.0 756.9L424.9 757.0L425.9 757.0L426.8 757.0L427.7 757.0L428.7 757.1L429.6 757.1L430.5 757.1L431.5 757.1L432.4 757.1L433.3 757.2L434.3 757.2L435.2 757.2L436.1 757.2L437.1 757.2L438.0 757.3L438.9 757.3L439.9 757.3L440.8 757.3L441.7 757.3L442.7 757.3L443.6 757.3L444.5 757.3L445.4 757.3L446.4 757.4L447.3 757.4L448.2 757.4L449.2 757.4L450.1 757.4L451.0 757.4L452.0 757.4L452.9 757.4L453.8 757.4L454.8 757.4L455.7 757.4L456.6 757.4L457.6 757.4L458.5 757.4L459.4 757.4L460.4 757.4L461.3 757.4L462.2 757.4L463.2 757.4L464.1 757.4L465.0 757.4L466.0 757.4L466.9 757.4L467.8 757.4L468.8 757.3L469.7 757.3L470.6 757.3L471.6 757.3L472.5 757.3L473.4 757.3L474.4 757.3L475.3 757.3L476.2 757.3L477.1 757.3L478.1 757.3L479.0 757.3L479.9 757.2L480.9 757.2L481.8 757.2L482.7 757.2L483.7 757.2L484.6 757.2L485.5 757.2L486.5 757.2L487.4 757.2L488.3 757.1L489.3 757.1L490.2 757.1L491.1 757.1L492.1 757.1L493.0 757.1L493.9 757.1L494.9 757.1L495.8 757.1L496.7 757.0L497.7 757.0L498.6 757.0L499.5 757.0L500.5 757.0L501.4 757.0L502.3 757.0L503.3 757.0L504.2 756.9L505.1 756.9L506.1 756.9L507.0 756.9L507.9 756.9L508.8 756.9L509.8 756.9L510.7 756.9L511.6 756.9L512.6 756.9L513.5 756.9L514.4 756.8L515.4 756.8L516.3 756.8L517.2 756.8L518.2 756.8L519.1 756.8L520.0 756.8L521.0 756.8L521.9 756.8L522.8 756.8L523.8 756.8L524.7 756.8L525.6 756.8L526.6 756.8L527.5 756.7L528.4 756.7L529.4 756.7L530.3 756.7L531.2 756.7L532.2 756.7L533.1 756.7L534.0 756.7L535.0 756.7L535.9 756.7L536.8 756.7L537.8 756.7L538.7 756.7L539.6 756.7L540.6 756.7L541.5 756.7L542.4 756.7L543.3 756.7L544.3 756.7L545.2 756.7L546.1 756.7L547.1 756.7L548.0 756.7L548.9 756.7L549.9 756.7L550.8 756.7L551.7 756.7L552.7 756.7L553.6 756.7L554.5 756.7L555.5 756.7L556.4 756.7L557.3 756.7L558.3 756.7L559.2 756.7L560.1 756.7L561.1 756.7L562.0 756.7L562.9 756.7L563.9 756.7L564.8 756.7L565.7 756.7L566.7 756.7L567.6 756.7L568.5 756.7L569.5 756.7L570.4 756.7L571.3 756.7L572.3 756.7L573.2 756.7L574.1 756.7L575.0 756.7L576.0 756.7L576.9 756.7L577.8 756.7L578.8 756.7L579.7 756.7L580.6 756.7L581.6 756.7L582.5 756.7L583.4 756.7L584.4 756.7L585.3 756.7L586.2 756.7L587.2 756.7L588.1 756.7L589.0 756.7L590.0 756.7L590.9 756.7L591.8 756.7L592.8 756.7L593.7 756.7L594.6 756.7L595.6 756.7L596.5 756.7L597.4 756.7L598.4 756.7L599.3 756.8L600.2 756.8L601.2 756.8L602.1 756.8L603.0 756.8L604.0 756.8L604.9 756.8L605.8 756.8L606.7 756.8L607.7 756.8L608.6 756.8L609.5 756.8L610.5 756.8L611.4 756.8L612.3 756.8L613.3 756.8L614.2 756.8L615.1 756.8L616.1 756.8L617.0 756.8L617.9 756.8L618.9 756.8L619.8 756.9L620.7 756.9L621.7 756.9L622.6 756.9L623.5 756.9L624.5 756.9L625.4 756.9L626.3 756.9L627.3 756.9L628.2 756.9" fill="none" stroke="#ee3124" stroke-width="3.1"/>
<path d="M69.7 998.9L70.4 998.8L71.0 998.7L71.7 998.7L72.4 998.6L73.0 998.5L73.7 998.5L74.4 998.4L75.0 998.4L75.7 998.3L76.4 998.2L77.0 998.2L77.7 998.1L78.4 998.0L79.0 998.0L79.7 997.9L80.4 997.8L81.0 997.8L81.7 997.7L82.3 997.6L83.0 997.5L83.7 997.5L84.3 997.4L85.0 997.3L85.7 997.2L86.3 997.2L87.0 997.1L87.7 997.0L88.3 996.9L89.0 996.9L89.7 996.8L90.3 996.7L91.0 996.6L91.7 996.5L92.3 996.4L93.0 996.3L93.7 996.2L94.3 996.1L95.0 996.0L95.7 995.9L96.3 995.8L97.0 995.7L97.7 995.6L98.3 995.5L99.0 995.4L99.7 995.3L100.3 995.1L101.0 995.0L101.7 994.9L102.3 994.7L103.0 994.6L103.6 994.5L104.3 994.3L105.0 994.2L105.6 994.0L106.3 993.8L107.0 993.7L107.6 993.5L108.3 993.3L109.0 993.1L109.6 992.9L110.3 992.7L111.0 992.5L111.6 992.3L112.3 992.1L113.0 991.9L113.6 991.7L114.3 991.5L115.0 991.2L115.6 991.0L116.3 990.7L117.0 990.5L117.6 990.2L118.3 990.0L119.0 989.7L119.6 989.4L120.3 989.1L121.0 988.8L121.6 988.5L122.3 988.2L123.0 987.9L123.6 987.6L124.3 987.3L125.0 986.9L125.6 986.6L126.3 986.2L126.9 985.9L127.6 985.5L128.3 985.2L128.9 984.8L129.6 984.4L130.3 984.0L130.9 983.6L131.6 983.2L132.3 982.8L132.9 982.4L133.6 982.0L134.3 981.5L134.9 981.1L135.6 980.6L136.3 980.2L136.9 979.7L137.6 979.2L138.3 978.7L138.9 978.1L139.6 977.6L140.3 977.0L140.9 976.4L141.6 975.7L142.3 975.1L142.9 974.4L143.6 973.6L144.3 972.8L144.9 972.0L145.6 971.1L146.3 970.2L146.9 969.3L147.6 968.3L148.2 967.2L148.9 966.1L149.6 965.0L150.2 963.8L150.9 962.6L151.6 961.3L152.2 960.0L152.9 958.7L153.6 957.4L154.2 956.0L154.9 954.6L155.6 953.2L156.2 951.8L156.9 950.3L157.6 948.9L158.2 947.3L158.9 945.8L159.6 944.2L160.2 942.6L160.9 940.9L161.6 939.2L162.2 937.4L162.9 935.6L163.6 933.8L164.2 931.9L164.9 930.0L165.6 928.0L166.2 926.0L166.9 923.9L167.6 921.9L168.2 919.7L168.9 917.6L169.6 915.4L170.2 913.2L170.9 910.9L171.5 908.6L172.2 906.4L172.9 904.1L173.5 901.8L174.2 899.4L174.9 897.1L175.5 894.8L176.2 892.5L176.9 890.1L177.5 887.8L178.2 885.4L178.9 883.1L179.5 880.8L180.2 878.4L180.9 876.1L181.5 873.7L182.2 871.4L182.9 869.0L183.5 866.6L184.2 864.3L184.9 861.9L185.5 859.5L186.2 857.2L186.9 854.8L187.5 852.4L188.2 850.1L188.9 847.7L189.5 845.3L190.2 842.9L190.9 840.5L191.5 838.1L192.2 835.7L192.8 833.2L193.5 830.8L194.2 828.4L194.8 825.9L195.5 823.5L196.2 821.1L196.8 818.6L197.5 816.2L198.2 813.8L198.8 811.5L199.5 809.1L200.2 806.7L200.8 804.4L201.5 802.1L202.2 799.8L202.8 797.6L203.5 795.4L204.2 793.2L204.8 791.0L205.5 788.9L206.2 786.8L206.8 784.7L207.5 782.7L208.2 780.7L208.8 778.8L209.5 776.9L210.2 775.1L210.8 773.3L211.5 771.6L212.2 769.9L212.8 768.3L213.5 766.8L214.2 765.3L214.8 763.9L215.5 762.5L216.1 761.2L216.8 759.9L217.5 758.7L218.1 757.6L218.8 756.5L219.5 755.4L220.1 754.3L220.8 753.3L221.5 752.4L222.1 751.5L222.8 750.6L223.5 749.7L224.1 748.9L224.8 748.1L225.5 747.4L226.1 746.7L226.8 746.0L227.5 745.3L228.1 744.7L228.8 744.1L229.5 743.5L230.1 743.0L230.8 742.5L231.5 742.0L232.1 741.5L232.8 741.1L233.5 740.7L234.1 740.3L234.8 740.0L235.5 739.7L236.1 739.4L236.8 739.1L237.4 738.9L238.1 738.7L238.8 738.5L239.4 738.3L240.1 738.1L240.8 738.0L241.4 737.9L242.1 737.8L242.8 737.8L243.4 737.8L244.1 737.7L244.8 737.8L245.4 737.8L246.1 737.8L246.8 737.9L247.4 738.0L248.1 738.1L248.8 738.2L249.4 738.4L250.1 738.6L250.8 738.8L251.4 739.0L252.1 739.2L252.8 739.5L253.4 739.7L254.1 740.0L254.8 740.3L255.4 740.7L256.1 741.0L256.8 741.4L257.4 741.8L258.1 742.2L258.8 742.6L259.4 743.0L260.1 743.4L260.7 743.9L261.4 744.3L262.1 744.8L262.7 745.2L263.4 745.7L264.1 746.2L264.7 746.6L265.4 747.1L266.1 747.5L266.7 748.0L267.4 748.4L268.1 748.9L268.7 749.3" fill="none" stroke="#3452b4" stroke-width="3.1" stroke-dasharray="8 3.5"/>
<path d="M268.7 749.3L269.9 750.0L271.1 750.8L272.3 751.5L273.5 752.2L274.7 752.8L275.9 753.5L277.2 754.1L278.4 754.7L279.6 755.3L280.8 755.9L282.0 756.5L283.2 757.0L284.4 757.5L285.6 758.1L286.8 758.6L288.0 759.0L289.2 759.5L290.4 760.0L291.6 760.4L292.8 760.8L294.0 761.1L295.2 761.5L296.4 761.8L297.6 762.0L298.8 762.3L300.0 762.4L301.2 762.6L302.4 762.7L303.6 762.7L304.8 762.8L306.0 762.7L307.2 762.7L308.4 762.6L309.6 762.4L310.8 762.3L312.0 762.1L313.2 761.9L314.4 761.7L315.6 761.4L316.8 761.1L318.0 760.8L319.2 760.5L320.4 760.2L321.6 759.9L322.8 759.6L324.0 759.3L325.2 758.9L326.4 758.6L327.6 758.3L328.8 758.0L330.0 757.7L331.3 757.4L332.5 757.1L333.7 756.8L334.9 756.6L336.1 756.3L337.3 756.1L338.5 755.9L339.7 755.7L340.9 755.6L342.1 755.4L343.3 755.3L344.5 755.1L345.7 755.0L346.9 754.9L348.1 754.8L349.3 754.7L350.5 754.6L351.7 754.5L352.9 754.5L354.1 754.4L355.3 754.4L356.5 754.3L357.7 754.3L358.9 754.3L360.1 754.3L361.3 754.3L362.5 754.2L363.7 754.2L364.9 754.3L366.1 754.3L367.3 754.3L368.5 754.3L369.7 754.3L370.9 754.4L372.1 754.4L373.3 754.4L374.5 754.5L375.7 754.5L376.9 754.5L378.1 754.6L379.3 754.7L380.5 754.7L381.7 754.8L382.9 754.8L384.1 754.9L385.3 754.9L386.6 755.0L387.8 755.1L389.0 755.1L390.2 755.2L391.4 755.3L392.6 755.4L393.8 755.4L395.0 755.5L396.2 755.6L397.4 755.6L398.6 755.7L399.8 755.8L401.0 755.9L402.2 755.9L403.4 756.0L404.6 756.1L405.8 756.1L407.0 756.2L408.2 756.2L409.4 756.3L410.6 756.4L411.8 756.4L413.0 756.5L414.2 756.5L415.4 756.6L416.6 756.6L417.8 756.7L419.0 756.7L420.2 756.8L421.4 756.8L422.6 756.8L423.8 756.9L425.0 756.9L426.2 756.9L427.4 757.0L428.6 757.0L429.8 757.0L431.0 757.1L432.2 757.1L433.4 757.1L434.6 757.1L435.8 757.2L437.0 757.2L438.2 757.2L439.4 757.2L440.7 757.2L441.9 757.2L443.1 757.3L444.3 757.3L445.5 757.3L446.7 757.3L447.9 757.3L449.1 757.3L450.3 757.3L451.5 757.3L452.7 757.3L453.9 757.3L455.1 757.3L456.3 757.3L457.5 757.3L458.7 757.3L459.9 757.3L461.1 757.3L462.3 757.3L463.5 757.3L464.7 757.3L465.9 757.3L467.1 757.3L468.3 757.3L469.5 757.3L470.7 757.3L471.9 757.3L473.1 757.3L474.3 757.3L475.5 757.2L476.7 757.2L477.9 757.2L479.1 757.2L480.3 757.2L481.5 757.2L482.7 757.2L483.9 757.2L485.1 757.2L486.3 757.1L487.5 757.1L488.7 757.1L489.9 757.1L491.1 757.1L492.3 757.1L493.5 757.1L494.7 757.0L496.0 757.0L497.2 757.0L498.4 757.0L499.6 757.0L500.8 757.0L502.0 757.0L503.2 757.0L504.4 756.9L505.6 756.9L506.8 756.9L508.0 756.9L509.2 756.9L510.4 756.9L511.6 756.9L512.8 756.9L514.0 756.9L515.2 756.8L516.4 756.8L517.6 756.8L518.8 756.8L520.0 756.8L521.2 756.8L522.4 756.8L523.6 756.8L524.8 756.8L526.0 756.8L527.2 756.8L528.4 756.8L529.6 756.8L530.8 756.8L532.0 756.7L533.2 756.7L534.4 756.7L535.6 756.7L536.8 756.7L538.0 756.7L539.2 756.7L540.4 756.7L541.6 756.7L542.8 756.7L544.0 756.7L545.2 756.7L546.4 756.7L547.6 756.7L548.8 756.7L550.1 756.7L551.3 756.7L552.5 756.7L553.7 756.7L554.9 756.7L556.1 756.7L557.3 756.7L558.5 756.7L559.7 756.7L560.9 756.7L562.1 756.7L563.3 756.7L564.5 756.7L565.7 756.7L566.9 756.7L568.1 756.7L569.3 756.7L570.5 756.7L571.7 756.7L572.9 756.7L574.1 756.7L575.3 756.7L576.5 756.7L577.7 756.7L578.9 756.7L580.1 756.7L581.3 756.7L582.5 756.7L583.7 756.7L584.9 756.7L586.1 756.7L587.3 756.7L588.5 756.7L589.7 756.7L590.9 756.7L592.1 756.7L593.3 756.7L594.5 756.8L595.7 756.8L596.9 756.8L598.1 756.8L599.3 756.8L600.5 756.8L601.7 756.8L602.9 756.8L604.2 756.8L605.4 756.8L606.6 756.8L607.8 756.8L609.0 756.8L610.2 756.8L611.4 756.8L612.6 756.8L613.8 756.8L615.0 756.8L616.2 756.8L617.4 756.8L618.6 756.9L619.8 756.9L621.0 756.9L622.2 756.9L623.4 756.9L624.6 756.9L625.8 756.9L627.0 756.9L628.2 756.9" fill="none" stroke="#3452b4" stroke-width="3.1" stroke-dasharray="18.5 3.7"/>
<rect x="69.7" y="705.5" width="557.30" height="296.60" fill="none" stroke="#454545" stroke-width="1.4"/>
<path d="M149.31 1002.10v-6.0M149.31 705.50v6.0M228.93 1002.10v-6.0M228.93 705.50v6.0M308.54 1002.10v-6.0M308.54 705.50v6.0M388.16 1002.10v-6.0M388.16 705.50v6.0M467.77 1002.10v-6.0M467.77 705.50v6.0M547.39 1002.10v-6.0M547.39 705.50v6.0M69.70 969.14h6.0M627.00 969.14h-6.0M69.70 936.19h6.0M627.00 936.19h-6.0M69.70 903.23h6.0M627.00 903.23h-6.0M69.70 870.28h6.0M627.00 870.28h-6.0M69.70 837.32h6.0M627.00 837.32h-6.0M69.70 804.37h6.0M627.00 804.37h-6.0M69.70 771.41h6.0M627.00 771.41h-6.0M69.70 738.46h6.0M627.00 738.46h-6.0" stroke="#454545" stroke-width="1.4" fill="none"/>
<text x="32.18" y="705.70" font-size="12.17" font-weight="normal" textLength="29.27" lengthAdjust="spacingAndGlyphs" fill="#000" stroke="#000" stroke-width="0.4">4.5</text>
<text x="48.16" y="739.40" font-size="12.17" font-weight="normal" textLength="12.33" lengthAdjust="spacingAndGlyphs" fill="#000" stroke="#000" stroke-width="0.4">4</text>
<text x="31.75" y="773.10" font-size="12.17" font-weight="normal" textLength="29.71" lengthAdjust="spacingAndGlyphs" fill="#000" stroke="#000" stroke-width="0.4">3.5</text>
<text x="47.66" y="806.80" font-size="12.17" font-weight="normal" textLength="13.11" lengthAdjust="spacingAndGlyphs" fill="#000" stroke="#000" stroke-width="0.4">3</text>
<text x="31.52" y="840.50" font-size="12.17" font-weight="normal" textLength="29.94" lengthAdjust="spacingAndGlyphs" fill="#000" stroke="#000" stroke-width="0.4">2.5</text>
<text x="47.37" y="874.20" font-size="12.17" font-weight="normal" textLength="13.69" lengthAdjust="spacingAndGlyphs" fill="#000" stroke="#000" stroke-width="0.4">2</text>
<text x="30.95" y="907.90" font-size="12.17" font-weight="normal" textLength="30.53" lengthAdjust="spacingAndGlyphs" fill="#000" stroke="#000" stroke-width="0.4">1.5</text>
<text x="48.58" y="941.60" font-size="12.17" font-weight="normal" textLength="12.02" lengthAdjust="spacingAndGlyphs" fill="#000" stroke="#000" stroke-width="0.4">1</text>
<text x="31.75" y="975.30" font-size="12.17" font-weight="normal" textLength="29.71" lengthAdjust="spacingAndGlyphs" fill="#000" stroke="#000" stroke-width="0.4">0.5</text>
<text x="47.67" y="1009.00" font-size="12.17" font-weight="normal" textLength="12.98" lengthAdjust="spacingAndGlyphs" fill="#000" stroke="#000" stroke-width="0.4">0</text>
<text x="61.27" y="1023.40" font-size="20.70" font-weight="normal" textLength="17.34" lengthAdjust="spacingAndGlyphs" fill="#000">-2</text>
<text x="145.50" y="1023.40" font-size="20.70" font-weight="normal" textLength="11.51" lengthAdjust="spacingAndGlyphs" fill="#000">0</text>
<text x="223.96" y="1023.40" font-size="20.70" font-weight="normal" textLength="11.51" lengthAdjust="spacingAndGlyphs" fill="#000">2</text>
<text x="301.66" y="1023.40" font-size="20.70" font-weight="normal" textLength="11.51" lengthAdjust="spacingAndGlyphs" fill="#000">4</text>
<text x="380.55" y="1023.40" font-size="20.70" font-weight="normal" textLength="11.51" lengthAdjust="spacingAndGlyphs" fill="#000">6</text>
<text x="462.00" y="1023.40" font-size="20.70" font-weight="normal" textLength="11.51" lengthAdjust="spacingAndGlyphs" fill="#000">8</text>
<text x="536.48" y="1023.40" font-size="20.70" font-weight="normal" textLength="21.13" lengthAdjust="spacingAndGlyphs" fill="#000">10</text>
<text x="615.93" y="1023.40" font-size="20.70" font-weight="normal" textLength="21.12" lengthAdjust="spacingAndGlyphs" fill="#000">12</text>
<text x="85.24" y="765.50" font-size="32.57" font-weight="normal" textLength="19.68" lengthAdjust="spacingAndGlyphs" fill="#000">C</text>
<text transform="translate(21.00,958.60) rotate(-90)" x="-1.98 4.29 16.92 29.27 41.32 49.69 55.06 67.99 81.33 88.43 100.67 113.98 121.49 125.88 138.52 143.62 149.70 154.78" y="0" font-size="22.00">Inner&#160;potential,&#160;V</text>
<text x="303.46 319.24 323.56 334.40 340.62 352.89 364.50 374.97 386.71 392.70 397.60" y="1046.20" font-size="21.80" font-weight="normal" fill="#000">Distance,&#160;A</text>
<path d="M404.1 1029.1H407.9" stroke="#000" stroke-width="1.3"/>
<text x="473.58" y="912.90" font-size="24.50" font-weight="normal" textLength="50.63" lengthAdjust="spacingAndGlyphs" fill="#000">BPTI</text>
<text x="502.67" y="943.60" font-size="24.90" font-weight="normal" textLength="59.33" lengthAdjust="spacingAndGlyphs" fill="#000">polar</text>
<text x="502.68" y="975.30" font-size="24.90" font-weight="normal" textLength="103.28" lengthAdjust="spacingAndGlyphs" fill="#000">nonpolar</text>
<path d="M412.2 937.2H490.3" stroke="#ee3124" stroke-width="4.1"/>
<path d="M416 974.6H488.7" stroke="#3452b4" stroke-width="3.9" stroke-dasharray="16.2 12.1"/>
</svg></body></html>
